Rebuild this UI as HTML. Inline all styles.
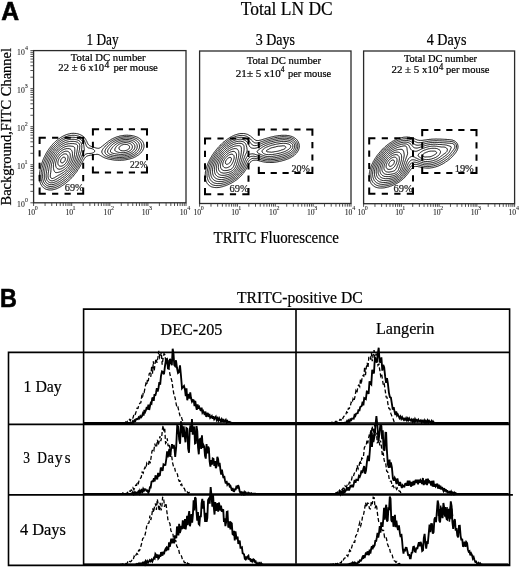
<!DOCTYPE html>
<html><head><meta charset="utf-8"><style>
html,body{margin:0;padding:0;background:#fff;}
svg{display:block;}

</style></head><body>
<svg width="520" height="568" viewBox="0 0 520 568">
<rect width="520" height="568" fill="#fff"/>
<g style="will-change:transform">
<text transform="translate(1.21,20.10) scale(0.9662,1)" font-family="Liberation Sans" font-size="25.57" font-weight="bold" fill="#000" stroke="#000" stroke-width="0.6" xml:space="preserve">A</text>
<text transform="translate(0.10,307.40) scale(0.9328,1)" font-family="Liberation Sans" font-size="25.07" font-weight="bold" fill="#000" stroke="#000" stroke-width="0.6" xml:space="preserve">B</text>
<text transform="translate(240.73,14.50) scale(0.8877,1)" font-family="Liberation Serif" font-size="19.69" fill="#000" stroke="#000" stroke-width="0.22" xml:space="preserve">Total LN DC</text>
<text transform="translate(86.43,45.40) scale(0.8114,1)" font-family="Liberation Serif" font-size="16.46" fill="#000" stroke="#000" stroke-width="0.22" xml:space="preserve">1 Day</text>
<text transform="translate(255.64,45.40) scale(0.8504,1)" font-family="Liberation Serif" font-size="16.46" fill="#000" stroke="#000" stroke-width="0.22" xml:space="preserve">3 Days</text>
<text transform="translate(426.76,45.40) scale(0.8587,1)" font-family="Liberation Serif" font-size="16.46" fill="#000" stroke="#000" stroke-width="0.22" xml:space="preserve">4 Days</text>
<text transform="translate(70.79,60.50) scale(0.9673,1)" font-family="Liberation Serif" font-size="11.08" fill="#000" stroke="#000" stroke-width="0.22" xml:space="preserve">Total DC number</text>
<text transform="translate(58.37,71.30) scale(0.9607,1)" font-family="Liberation Serif" font-size="11.08" fill="#000" stroke="#000" stroke-width="0.22" xml:space="preserve">22 ± 6 x10</text>
<text transform="translate(104.50,68.00) scale(0.9673,1)" font-family="Liberation Serif" font-size="9.90" fill="#000" stroke="#000" stroke-width="0.22" xml:space="preserve">4</text>
<text transform="translate(113.39,71.30) scale(0.9703,1)" font-family="Liberation Serif" font-size="11.08" fill="#000" stroke="#000" stroke-width="0.22" xml:space="preserve">per mouse</text>
<text transform="translate(246.69,64.40) scale(0.9609,1)" font-family="Liberation Serif" font-size="11.08" fill="#000" stroke="#000" stroke-width="0.22" xml:space="preserve">Total DC number</text>
<text transform="translate(235.81,76.60) scale(1.0017,1)" font-family="Liberation Serif" font-size="11.08" fill="#000" stroke="#000" stroke-width="0.22" xml:space="preserve">21± 5 x10</text>
<text transform="translate(280.73,72.30) scale(0.9609,1)" font-family="Liberation Serif" font-size="7.60" fill="#000" stroke="#000" stroke-width="0.22" xml:space="preserve">4</text>
<text transform="translate(288.00,76.60) scale(0.9416,1)" font-family="Liberation Serif" font-size="11.08" fill="#000" stroke="#000" stroke-width="0.22" xml:space="preserve">per mouse</text>
<text transform="translate(403.90,62.40) scale(0.9878,1)" font-family="Liberation Serif" font-size="10.62" fill="#000" stroke="#000" stroke-width="0.22" xml:space="preserve">Total DC number</text>
<text transform="translate(391.46,73.10) scale(1.0292,1)" font-family="Liberation Serif" font-size="10.62" fill="#000" stroke="#000" stroke-width="0.22" xml:space="preserve">22 ± 5 x10</text>
<text transform="translate(438.71,70.30) scale(0.9878,1)" font-family="Liberation Serif" font-size="9.30" fill="#000" stroke="#000" stroke-width="0.22" xml:space="preserve">4</text>
<text transform="translate(446.09,73.10) scale(0.9895,1)" font-family="Liberation Serif" font-size="10.62" fill="#000" stroke="#000" stroke-width="0.22" xml:space="preserve">per mouse</text>
<text transform="translate(213.55,243.20) scale(0.8646,1)" font-family="Liberation Serif" font-size="17.23" fill="#000" stroke="#000" stroke-width="0.22" xml:space="preserve">TRITC Fluorescence</text>
<g transform="translate(11.0,205.2) rotate(-90)"><text transform="translate(-0.29,0) scale(1.0575,1)" font-family="Liberation Serif" font-size="13.69" stroke="#000" stroke-width="0.22">Background,FITC Channel</text></g>
<rect x="33.6" y="50.6" width="152.40" height="152.20" fill="none" stroke="#2a2a2a" stroke-width="1.3"/>
<path d="M33.60,202.80v3.2 M45.07,202.80v3.2 M51.78,202.80v3.2 M56.54,202.80v3.2 M60.23,202.80v3.2 M63.25,202.80v3.2 M65.80,202.80v3.2 M68.01,202.80v3.2 M69.96,202.80v3.2 M71.70,202.80v3.2 M83.17,202.80v3.2 M89.88,202.80v3.2 M94.64,202.80v3.2 M98.33,202.80v3.2 M101.35,202.80v3.2 M103.90,202.80v3.2 M106.11,202.80v3.2 M108.06,202.80v3.2 M109.80,202.80v3.2 M121.27,202.80v3.2 M127.98,202.80v3.2 M132.74,202.80v3.2 M136.43,202.80v3.2 M139.45,202.80v3.2 M142.00,202.80v3.2 M144.21,202.80v3.2 M146.16,202.80v3.2 M147.90,202.80v3.2 M159.37,202.80v3.2 M166.08,202.80v3.2 M170.84,202.80v3.2 M174.53,202.80v3.2 M177.55,202.80v3.2 M180.10,202.80v3.2 M182.31,202.80v3.2 M184.26,202.80v3.2 M186.00,202.80v3.2 M33.60,202.80h-3.2 M33.60,191.35h-3.2 M33.60,184.65h-3.2 M33.60,179.89h-3.2 M33.60,176.20h-3.2 M33.60,173.19h-3.2 M33.60,170.64h-3.2 M33.60,168.44h-3.2 M33.60,166.49h-3.2 M33.60,164.75h-3.2 M33.60,153.30h-3.2 M33.60,146.60h-3.2 M33.60,141.84h-3.2 M33.60,138.15h-3.2 M33.60,135.14h-3.2 M33.60,132.59h-3.2 M33.60,130.39h-3.2 M33.60,128.44h-3.2 M33.60,126.70h-3.2 M33.60,115.25h-3.2 M33.60,108.55h-3.2 M33.60,103.79h-3.2 M33.60,100.10h-3.2 M33.60,97.09h-3.2 M33.60,94.54h-3.2 M33.60,92.34h-3.2 M33.60,90.39h-3.2 M33.60,88.65h-3.2 M33.60,77.20h-3.2 M33.60,70.50h-3.2 M33.60,65.74h-3.2 M33.60,62.05h-3.2 M33.60,59.04h-3.2 M33.60,56.49h-3.2 M33.60,54.29h-3.2 M33.60,52.34h-3.2 M33.60,50.60h-3.2" stroke="#333" stroke-width="0.85" fill="none"/>
<text transform="translate(27.39,215.00) scale(1.0500,1)" font-family="Liberation Serif" font-size="7.30" fill="#222" stroke="#222" stroke-width="0.08" xml:space="preserve">10</text>
<text transform="translate(34.82,209.70) scale(1.0000,1)" font-family="Liberation Serif" font-size="6.00" fill="#222" stroke="#222" stroke-width="0.08" xml:space="preserve">0</text>
<text transform="translate(65.49,215.00) scale(1.0500,1)" font-family="Liberation Serif" font-size="7.30" fill="#222" stroke="#222" stroke-width="0.08" xml:space="preserve">10</text>
<text transform="translate(72.62,209.70) scale(1.0000,1)" font-family="Liberation Serif" font-size="6.00" fill="#222" stroke="#222" stroke-width="0.08" xml:space="preserve">1</text>
<text transform="translate(103.59,215.00) scale(1.0500,1)" font-family="Liberation Serif" font-size="7.30" fill="#222" stroke="#222" stroke-width="0.08" xml:space="preserve">10</text>
<text transform="translate(110.96,209.70) scale(1.0000,1)" font-family="Liberation Serif" font-size="6.00" fill="#222" stroke="#222" stroke-width="0.08" xml:space="preserve">2</text>
<text transform="translate(141.69,215.00) scale(1.0500,1)" font-family="Liberation Serif" font-size="7.30" fill="#222" stroke="#222" stroke-width="0.08" xml:space="preserve">10</text>
<text transform="translate(149.06,209.70) scale(1.0000,1)" font-family="Liberation Serif" font-size="6.00" fill="#222" stroke="#222" stroke-width="0.08" xml:space="preserve">3</text>
<text transform="translate(179.79,215.00) scale(1.0500,1)" font-family="Liberation Serif" font-size="7.30" fill="#222" stroke="#222" stroke-width="0.08" xml:space="preserve">10</text>
<text transform="translate(187.34,209.70) scale(1.0000,1)" font-family="Liberation Serif" font-size="6.00" fill="#222" stroke="#222" stroke-width="0.08" xml:space="preserve">4</text>
<text transform="translate(17.09,206.90) scale(1.0500,1)" font-family="Liberation Serif" font-size="7.30" fill="#222" stroke="#222" stroke-width="0.08" xml:space="preserve">10</text>
<text transform="translate(24.92,202.00) scale(1.0000,1)" font-family="Liberation Serif" font-size="6.00" fill="#222" stroke="#222" stroke-width="0.08" xml:space="preserve">0</text>
<text transform="translate(17.09,168.85) scale(1.0500,1)" font-family="Liberation Serif" font-size="7.30" fill="#222" stroke="#222" stroke-width="0.08" xml:space="preserve">10</text>
<text transform="translate(24.62,163.95) scale(1.0000,1)" font-family="Liberation Serif" font-size="6.00" fill="#222" stroke="#222" stroke-width="0.08" xml:space="preserve">1</text>
<text transform="translate(17.09,130.80) scale(1.0500,1)" font-family="Liberation Serif" font-size="7.30" fill="#222" stroke="#222" stroke-width="0.08" xml:space="preserve">10</text>
<text transform="translate(24.86,125.90) scale(1.0000,1)" font-family="Liberation Serif" font-size="6.00" fill="#222" stroke="#222" stroke-width="0.08" xml:space="preserve">2</text>
<text transform="translate(17.09,92.75) scale(1.0500,1)" font-family="Liberation Serif" font-size="7.30" fill="#222" stroke="#222" stroke-width="0.08" xml:space="preserve">10</text>
<text transform="translate(24.86,87.85) scale(1.0000,1)" font-family="Liberation Serif" font-size="6.00" fill="#222" stroke="#222" stroke-width="0.08" xml:space="preserve">3</text>
<text transform="translate(17.09,54.70) scale(1.0500,1)" font-family="Liberation Serif" font-size="7.30" fill="#222" stroke="#222" stroke-width="0.08" xml:space="preserve">10</text>
<text transform="translate(25.04,49.80) scale(1.0000,1)" font-family="Liberation Serif" font-size="6.00" fill="#222" stroke="#222" stroke-width="0.08" xml:space="preserve">4</text>
<rect x="199.6" y="51.0" width="151.40" height="152.50" fill="none" stroke="#2a2a2a" stroke-width="1.3"/>
<path d="M199.60,203.50v3.2 M210.99,203.50v3.2 M217.66,203.50v3.2 M222.39,203.50v3.2 M226.06,203.50v3.2 M229.05,203.50v3.2 M231.59,203.50v3.2 M233.78,203.50v3.2 M235.72,203.50v3.2 M237.45,203.50v3.2 M248.84,203.50v3.2 M255.51,203.50v3.2 M260.24,203.50v3.2 M263.91,203.50v3.2 M266.90,203.50v3.2 M269.44,203.50v3.2 M271.63,203.50v3.2 M273.57,203.50v3.2 M275.30,203.50v3.2 M286.69,203.50v3.2 M293.36,203.50v3.2 M298.09,203.50v3.2 M301.76,203.50v3.2 M304.75,203.50v3.2 M307.29,203.50v3.2 M309.48,203.50v3.2 M311.42,203.50v3.2 M313.15,203.50v3.2 M324.54,203.50v3.2 M331.21,203.50v3.2 M335.94,203.50v3.2 M339.61,203.50v3.2 M342.60,203.50v3.2 M345.14,203.50v3.2 M347.33,203.50v3.2 M349.27,203.50v3.2 M351.00,203.50v3.2" stroke="#333" stroke-width="0.85" fill="none"/>
<text transform="translate(193.39,215.00) scale(1.0500,1)" font-family="Liberation Serif" font-size="7.30" fill="#222" stroke="#222" stroke-width="0.08" xml:space="preserve">10</text>
<text transform="translate(200.82,209.70) scale(1.0000,1)" font-family="Liberation Serif" font-size="6.00" fill="#222" stroke="#222" stroke-width="0.08" xml:space="preserve">0</text>
<text transform="translate(231.24,215.00) scale(1.0500,1)" font-family="Liberation Serif" font-size="7.30" fill="#222" stroke="#222" stroke-width="0.08" xml:space="preserve">10</text>
<text transform="translate(238.37,209.70) scale(1.0000,1)" font-family="Liberation Serif" font-size="6.00" fill="#222" stroke="#222" stroke-width="0.08" xml:space="preserve">1</text>
<text transform="translate(269.09,215.00) scale(1.0500,1)" font-family="Liberation Serif" font-size="7.30" fill="#222" stroke="#222" stroke-width="0.08" xml:space="preserve">10</text>
<text transform="translate(276.46,209.70) scale(1.0000,1)" font-family="Liberation Serif" font-size="6.00" fill="#222" stroke="#222" stroke-width="0.08" xml:space="preserve">2</text>
<text transform="translate(306.94,215.00) scale(1.0500,1)" font-family="Liberation Serif" font-size="7.30" fill="#222" stroke="#222" stroke-width="0.08" xml:space="preserve">10</text>
<text transform="translate(314.31,209.70) scale(1.0000,1)" font-family="Liberation Serif" font-size="6.00" fill="#222" stroke="#222" stroke-width="0.08" xml:space="preserve">3</text>
<text transform="translate(344.79,215.00) scale(1.0500,1)" font-family="Liberation Serif" font-size="7.30" fill="#222" stroke="#222" stroke-width="0.08" xml:space="preserve">10</text>
<text transform="translate(352.34,209.70) scale(1.0000,1)" font-family="Liberation Serif" font-size="6.00" fill="#222" stroke="#222" stroke-width="0.08" xml:space="preserve">4</text>
<rect x="363.6" y="51.0" width="151.00" height="152.70" fill="none" stroke="#2a2a2a" stroke-width="1.3"/>
<path d="M363.60,203.70v3.2 M374.96,203.70v3.2 M381.61,203.70v3.2 M386.33,203.70v3.2 M389.99,203.70v3.2 M392.98,203.70v3.2 M395.50,203.70v3.2 M397.69,203.70v3.2 M399.62,203.70v3.2 M401.35,203.70v3.2 M412.71,203.70v3.2 M419.36,203.70v3.2 M424.08,203.70v3.2 M427.74,203.70v3.2 M430.73,203.70v3.2 M433.25,203.70v3.2 M435.44,203.70v3.2 M437.37,203.70v3.2 M439.10,203.70v3.2 M450.46,203.70v3.2 M457.11,203.70v3.2 M461.83,203.70v3.2 M465.49,203.70v3.2 M468.48,203.70v3.2 M471.00,203.70v3.2 M473.19,203.70v3.2 M475.12,203.70v3.2 M476.85,203.70v3.2 M488.21,203.70v3.2 M494.86,203.70v3.2 M499.58,203.70v3.2 M503.24,203.70v3.2 M506.23,203.70v3.2 M508.75,203.70v3.2 M510.94,203.70v3.2 M512.87,203.70v3.2 M514.60,203.70v3.2" stroke="#333" stroke-width="0.85" fill="none"/>
<text transform="translate(357.39,215.00) scale(1.0500,1)" font-family="Liberation Serif" font-size="7.30" fill="#222" stroke="#222" stroke-width="0.08" xml:space="preserve">10</text>
<text transform="translate(364.82,209.70) scale(1.0000,1)" font-family="Liberation Serif" font-size="6.00" fill="#222" stroke="#222" stroke-width="0.08" xml:space="preserve">0</text>
<text transform="translate(395.14,215.00) scale(1.0500,1)" font-family="Liberation Serif" font-size="7.30" fill="#222" stroke="#222" stroke-width="0.08" xml:space="preserve">10</text>
<text transform="translate(402.27,209.70) scale(1.0000,1)" font-family="Liberation Serif" font-size="6.00" fill="#222" stroke="#222" stroke-width="0.08" xml:space="preserve">1</text>
<text transform="translate(432.89,215.00) scale(1.0500,1)" font-family="Liberation Serif" font-size="7.30" fill="#222" stroke="#222" stroke-width="0.08" xml:space="preserve">10</text>
<text transform="translate(440.26,209.70) scale(1.0000,1)" font-family="Liberation Serif" font-size="6.00" fill="#222" stroke="#222" stroke-width="0.08" xml:space="preserve">2</text>
<text transform="translate(470.64,215.00) scale(1.0500,1)" font-family="Liberation Serif" font-size="7.30" fill="#222" stroke="#222" stroke-width="0.08" xml:space="preserve">10</text>
<text transform="translate(478.01,209.70) scale(1.0000,1)" font-family="Liberation Serif" font-size="6.00" fill="#222" stroke="#222" stroke-width="0.08" xml:space="preserve">3</text>
<text transform="translate(508.39,215.00) scale(1.0500,1)" font-family="Liberation Serif" font-size="7.30" fill="#222" stroke="#222" stroke-width="0.08" xml:space="preserve">10</text>
<text transform="translate(515.94,209.70) scale(1.0000,1)" font-family="Liberation Serif" font-size="6.00" fill="#222" stroke="#222" stroke-width="0.08" xml:space="preserve">4</text>
<path d="M38.60,137.70L45.80,137.70M52.07,137.70L58.27,137.70M64.53,137.70L70.73,137.70M77.00,137.70L84.20,137.70M83.20,136.70L83.20,143.90M83.20,150.17L83.20,156.38M83.20,162.65L83.20,168.85M83.20,175.12L83.20,181.32M83.20,187.60L83.20,194.80M84.20,193.80L77.00,193.80M70.73,193.80L64.53,193.80M58.27,193.80L52.07,193.80M45.80,193.80L38.60,193.80M39.60,194.80L39.60,187.60M39.60,181.33L39.60,175.12M39.60,168.85L39.60,162.65M39.60,156.38L39.60,150.18M39.60,143.90L39.60,136.70" stroke="#000" stroke-width="2" fill="none" stroke-linecap="butt"/>
<path d="M91.90,129.30L99.10,129.30M104.88,129.30L111.08,129.30M116.85,129.30L123.05,129.30M128.82,129.30L135.03,129.30M140.80,129.30L148.00,129.30M147.00,128.30L147.00,135.50M147.00,141.67L147.00,147.87M147.00,154.03L147.00,160.23M147.00,166.40L147.00,173.60M148.00,172.60L140.80,172.60M135.03,172.60L128.82,172.60M123.05,172.60L116.85,172.60M111.08,172.60L104.88,172.60M99.10,172.60L91.90,172.60M92.90,173.60L92.90,166.40M92.90,160.23L92.90,154.03M92.90,147.87L92.90,141.67M92.90,135.50L92.90,128.30" stroke="#000" stroke-width="2" fill="none" stroke-linecap="butt"/>
<path d="M204.00,138.40L211.20,138.40M217.43,138.40L223.63,138.40M229.87,138.40L236.07,138.40M242.30,138.40L249.50,138.40M248.50,137.40L248.50,144.60M248.50,150.80L248.50,157.00M248.50,163.20L248.50,169.40M248.50,175.60L248.50,181.80M248.50,188.00L248.50,195.20M249.50,194.20L242.30,194.20M236.07,194.20L229.87,194.20M223.63,194.20L217.43,194.20M211.20,194.20L204.00,194.20M205.00,195.20L205.00,188.00M205.00,181.80L205.00,175.60M205.00,169.40L205.00,163.20M205.00,157.00L205.00,150.80M205.00,144.60L205.00,137.40" stroke="#000" stroke-width="2" fill="none" stroke-linecap="butt"/>
<path d="M257.80,129.60L265.00,129.60M270.65,129.60L276.85,129.60M282.50,129.60L288.70,129.60M294.35,129.60L300.55,129.60M306.20,129.60L313.40,129.60M312.40,128.60L312.40,135.80M312.40,142.00L312.40,148.20M312.40,154.40L312.40,160.60M312.40,166.80L312.40,174.00M313.40,173.00L306.20,173.00M300.55,173.00L294.35,173.00M288.70,173.00L282.50,173.00M276.85,173.00L270.65,173.00M265.00,173.00L257.80,173.00M258.80,174.00L258.80,166.80M258.80,160.60L258.80,154.40M258.80,148.20L258.80,142.00M258.80,135.80L258.80,128.60" stroke="#000" stroke-width="2" fill="none" stroke-linecap="butt"/>
<path d="M368.20,138.20L375.40,138.20M381.73,138.20L387.93,138.20M394.27,138.20L400.47,138.20M406.80,138.20L414.00,138.20M413.00,137.20L413.00,144.40M413.00,150.55L413.00,156.75M413.00,162.90L413.00,169.10M413.00,175.25L413.00,181.45M413.00,187.60L413.00,194.80M414.00,193.80L406.80,193.80M400.47,193.80L394.27,193.80M387.93,193.80L381.73,193.80M375.40,193.80L368.20,193.80M369.20,194.80L369.20,187.60M369.20,181.45L369.20,175.25M369.20,169.10L369.20,162.90M369.20,156.75L369.20,150.55M369.20,144.40L369.20,137.20" stroke="#000" stroke-width="2" fill="none" stroke-linecap="butt"/>
<path d="M421.20,130.00L428.40,130.00M434.22,130.00L440.43,130.00M446.25,130.00L452.45,130.00M458.27,130.00L464.48,130.00M470.30,130.00L477.50,130.00M476.50,129.00L476.50,136.20M476.50,142.27L476.50,148.47M476.50,154.53L476.50,160.73M476.50,166.80L476.50,174.00M477.50,173.00L470.30,173.00M464.48,173.00L458.27,173.00M452.45,173.00L446.25,173.00M440.43,173.00L434.23,173.00M428.40,173.00L421.20,173.00M422.20,174.00L422.20,166.80M422.20,160.73L422.20,154.53M422.20,148.47L422.20,142.27M422.20,136.20L422.20,129.00" stroke="#000" stroke-width="2" fill="none" stroke-linecap="butt"/>
<path d="M52.8,189.8 L52.0,189.9 L51.2,190.0 L50.5,190.0 L49.8,190.0 L49.0,189.9 L48.2,189.8 L47.8,189.7 L47.0,189.5 L46.5,189.4 L46.0,189.2 L45.5,189.0 L45.0,188.7 L44.5,188.4 L44.0,188.1 L43.6,187.8 L43.2,187.4 L42.8,187.0 L42.5,186.7 L42.1,186.2 L41.8,185.8 L41.5,185.4 L41.2,185.0 L41.0,184.5 L40.7,184.0 L40.5,183.4 L40.2,182.8 L40.1,182.2 L39.9,181.8 L39.8,181.0 L39.7,180.5 L39.5,179.8 L39.5,179.2 L39.4,178.5 L39.4,177.8 L39.3,177.0 L39.3,176.2 L39.4,175.5 L39.4,174.8 L39.5,174.0 L39.5,173.5 L39.6,172.8 L39.7,172.0 L39.8,171.5 L39.9,170.8 L40.0,170.2 L40.2,169.5 L40.3,169.0 L40.4,168.2 L40.6,167.8 L40.8,167.0 L40.9,166.5 L41.0,166.0 L41.2,165.2 L41.4,164.8 L41.5,164.2 L41.8,163.5 L41.9,163.0 L42.1,162.5 L42.3,162.0 L42.5,161.4 L42.7,160.8 L42.9,160.2 L43.1,159.8 L43.3,159.2 L43.5,158.8 L43.8,158.2 L44.0,157.7 L44.2,157.1 L44.5,156.6 L44.8,156.1 L45.0,155.6 L45.2,155.1 L45.5,154.6 L45.8,154.1 L46.0,153.7 L46.2,153.2 L46.5,152.8 L46.8,152.2 L47.1,151.8 L47.4,151.2 L47.8,150.8 L48.0,150.4 L48.2,150.0 L48.6,149.5 L48.9,149.0 L49.2,148.6 L49.5,148.2 L49.8,147.8 L50.2,147.2 L50.5,146.9 L50.8,146.5 L51.2,146.0 L51.5,145.7 L51.9,145.2 L52.2,144.8 L52.5,144.5 L53.0,144.0 L53.2,143.7 L53.7,143.2 L54.0,142.9 L54.4,142.5 L54.8,142.2 L55.2,141.8 L55.5,141.5 L56.0,141.0 L56.3,140.8 L56.8,140.4 L57.2,140.0 L57.5,139.8 L58.0,139.4 L58.5,139.0 L58.9,138.8 L59.2,138.5 L59.8,138.1 L60.2,137.8 L60.7,137.5 L61.1,137.2 L61.5,137.0 L62.0,136.7 L62.5,136.4 L63.0,136.2 L63.5,135.9 L64.0,135.7 L64.5,135.4 L65.0,135.2 L65.5,135.0 L66.1,134.8 L66.8,134.5 L67.2,134.4 L67.8,134.2 L68.5,134.0 L69.0,133.9 L69.6,133.8 L70.2,133.6 L71.0,133.5 L71.5,133.4 L72.2,133.4 L73.0,133.3 L73.8,133.3 L74.5,133.4 L75.2,133.4 L76.0,133.5 L76.5,133.6 L77.2,133.7 L77.8,133.8 L78.4,134.0 L79.0,134.2 L79.5,134.4 L80.0,134.6 L80.5,134.8 L81.0,135.0 L81.5,135.3 L82.0,135.6 L82.5,135.9 L82.9,136.2 L83.3,136.5 L83.8,136.9 L84.1,137.2 L84.5,137.7 L84.8,138.0 L85.1,138.5 L85.5,139.0 L85.8,139.5 L86.0,139.9 L86.2,140.4 L86.5,140.9 L86.8,141.4 L87.0,142.0 L87.2,142.5 L87.5,143.0 L87.7,143.5 L88.0,144.0 L88.2,144.3 L88.6,144.8 L89.0,145.2 L89.4,145.5 L89.8,145.8 L90.2,146.0 L90.8,146.2 L91.5,146.5 L92.0,146.7 L92.5,146.8 L93.0,147.0 L93.8,147.2 L94.2,147.4 L94.8,147.5 L95.4,147.8 L96.0,147.9 L96.5,148.1 L97.2,148.2 L97.8,148.3 L98.5,148.3 L99.0,148.2 L99.6,148.0 L100.1,147.8 L100.5,147.5 L101.0,147.2 L101.5,146.8 L101.9,146.5 L102.2,146.2 L102.8,145.8 L103.1,145.5 L103.5,145.2 L104.0,144.8 L104.3,144.5 L104.8,144.1 L105.2,143.8 L105.5,143.5 L106.0,143.1 L106.4,142.8 L106.8,142.5 L107.2,142.1 L107.7,141.8 L108.0,141.5 L108.5,141.2 L109.0,140.8 L109.5,140.5 L109.9,140.2 L110.3,140.0 L110.8,139.7 L111.2,139.4 L111.8,139.1 L112.2,138.9 L112.8,138.6 L113.2,138.4 L113.8,138.1 L114.2,137.9 L114.8,137.7 L115.3,137.5 L115.9,137.2 L116.5,137.0 L117.0,136.9 L117.5,136.7 L118.2,136.5 L118.8,136.4 L119.2,136.2 L120.0,136.0 L120.5,135.9 L121.2,135.8 L121.8,135.7 L122.5,135.6 L123.0,135.5 L123.8,135.4 L124.5,135.3 L125.2,135.3 L126.0,135.2 L126.5,135.2 L127.2,135.2 L128.0,135.2 L128.5,135.3 L129.2,135.3 L130.0,135.4 L130.8,135.4 L131.2,135.5 L132.0,135.6 L132.7,135.8 L133.2,135.9 L133.8,136.0 L134.5,136.2 L135.0,136.3 L135.5,136.5 L136.2,136.8 L136.8,137.0 L137.2,137.2 L137.8,137.4 L138.2,137.7 L138.8,138.0 L139.2,138.2 L139.6,138.5 L140.0,138.8 L140.5,139.2 L140.9,139.5 L141.2,139.8 L141.7,140.2 L142.0,140.6 L142.3,141.0 L142.7,141.5 L143.0,142.0 L143.2,142.5 L143.5,143.0 L143.6,143.5 L143.8,144.0 L143.9,144.8 L144.0,145.3 L144.0,146.0 L144.0,146.5 L143.9,147.2 L143.8,147.9 L143.6,148.5 L143.4,149.0 L143.2,149.5 L142.9,150.0 L142.7,150.5 L142.3,151.0 L142.0,151.5 L141.8,151.8 L141.4,152.2 L141.0,152.7 L140.7,153.0 L140.2,153.4 L139.9,153.8 L139.5,154.1 L139.0,154.5 L138.7,154.8 L138.2,155.1 L137.8,155.4 L137.2,155.7 L136.8,156.0 L136.4,156.2 L135.9,156.5 L135.5,156.8 L135.0,157.0 L134.5,157.2 L133.9,157.5 L133.3,157.8 L132.8,158.0 L132.2,158.2 L131.8,158.3 L131.2,158.5 L130.5,158.7 L130.0,158.9 L129.5,159.0 L128.8,159.2 L128.2,159.3 L127.5,159.5 L127.0,159.6 L126.2,159.7 L125.8,159.8 L125.0,159.9 L124.4,160.0 L123.8,160.1 L123.0,160.1 L122.2,160.2 L121.5,160.2 L121.0,160.3 L120.2,160.3 L119.5,160.3 L118.8,160.3 L118.0,160.3 L117.3,160.2 L116.8,160.2 L116.0,160.2 L115.2,160.1 L114.5,160.1 L114.0,160.0 L113.2,159.9 L112.5,159.8 L112.0,159.7 L111.2,159.6 L110.6,159.5 L110.0,159.4 L109.3,159.2 L108.8,159.1 L108.2,159.0 L107.5,158.8 L107.0,158.6 L106.5,158.5 L105.8,158.2 L105.2,158.1 L104.8,157.9 L104.2,157.6 L103.8,157.4 L103.2,157.2 L102.8,156.9 L102.2,156.6 L101.8,156.3 L101.2,156.0 L100.8,155.8 L100.4,155.5 L99.9,155.2 L99.5,155.0 L99.0,154.8 L98.3,154.5 L97.8,154.4 L97.0,154.3 L96.2,154.4 L95.5,154.5 L95.0,154.5 L94.2,154.7 L93.8,154.8 L93.0,154.9 L92.3,155.0 L91.8,155.1 L91.0,155.2 L90.4,155.2 L89.8,155.3 L89.0,155.5 L88.5,155.6 L87.9,155.8 L87.3,156.0 L86.8,156.2 L86.4,156.5 L86.0,156.8 L85.5,157.2 L85.2,157.5 L84.8,158.0 L84.5,158.4 L84.2,158.8 L84.0,159.2 L83.6,159.8 L83.4,160.2 L83.1,160.8 L82.8,161.2 L82.5,161.8 L82.3,162.2 L82.0,162.7 L81.8,163.2 L81.5,163.7 L81.2,164.2 L81.0,164.6 L80.8,165.1 L80.5,165.5 L80.2,166.0 L80.0,166.5 L79.7,167.0 L79.4,167.5 L79.1,168.0 L78.8,168.5 L78.5,168.9 L78.2,169.3 L78.0,169.8 L77.6,170.2 L77.3,170.8 L77.0,171.2 L76.8,171.6 L76.4,172.0 L76.1,172.5 L75.8,172.9 L75.5,173.2 L75.1,173.8 L74.8,174.2 L74.5,174.5 L74.1,175.0 L73.8,175.4 L73.5,175.8 L73.0,176.2 L72.8,176.6 L72.4,177.0 L72.0,177.4 L71.7,177.8 L71.2,178.2 L70.9,178.5 L70.5,178.9 L70.2,179.2 L69.8,179.7 L69.4,180.0 L69.0,180.4 L68.6,180.8 L68.2,181.0 L67.8,181.5 L67.4,181.8 L67.0,182.1 L66.5,182.5 L66.2,182.8 L65.8,183.1 L65.3,183.5 L64.9,183.8 L64.5,184.1 L64.0,184.5 L63.6,184.8 L63.2,185.0 L62.8,185.3 L62.2,185.7 L61.8,186.0 L61.3,186.2 L60.9,186.5 L60.5,186.8 L60.0,187.0 L59.5,187.3 L59.0,187.6 L58.5,187.8 L58.0,188.1 L57.5,188.3 L57.0,188.5 L56.4,188.8 L55.8,189.0 L55.2,189.2 L54.8,189.3 L54.1,189.5 L53.5,189.6 L52.9,189.8ZM51.0,188.3 L50.2,188.3 L49.8,188.2 L49.0,188.1 L48.3,188.0 L47.8,187.9 L47.2,187.7 L46.7,187.5 L46.2,187.2 L45.8,187.0 L45.2,186.7 L44.8,186.3 L44.4,186.0 L44.0,185.6 L43.7,185.2 L43.3,184.8 L43.0,184.4 L42.8,184.0 L42.5,183.5 L42.2,183.0 L42.0,182.5 L41.8,181.8 L41.6,181.2 L41.4,180.8 L41.3,180.0 L41.2,179.5 L41.1,178.8 L41.0,178.0 L41.0,177.5 L41.0,176.8 L41.0,176.0 L41.0,175.2 L41.0,174.8 L41.1,174.0 L41.2,173.2 L41.2,172.5 L41.3,172.0 L41.4,171.2 L41.5,170.8 L41.7,170.0 L41.8,169.5 L41.9,168.8 L42.0,168.2 L42.2,167.5 L42.3,167.0 L42.5,166.3 L42.7,165.8 L42.8,165.2 L43.0,164.5 L43.2,164.0 L43.3,163.5 L43.5,162.9 L43.7,162.2 L43.9,161.8 L44.1,161.2 L44.3,160.8 L44.5,160.2 L44.8,159.6 L45.0,159.0 L45.2,158.5 L45.4,158.0 L45.6,157.5 L45.9,157.0 L46.1,156.5 L46.4,156.0 L46.6,155.5 L46.9,155.0 L47.1,154.5 L47.4,154.0 L47.7,153.5 L48.0,153.0 L48.2,152.6 L48.5,152.2 L48.8,151.8 L49.1,151.2 L49.4,150.8 L49.8,150.3 L50.0,149.9 L50.3,149.5 L50.6,149.0 L51.0,148.5 L51.2,148.2 L51.6,147.8 L52.0,147.3 L52.2,147.0 L52.6,146.5 L53.0,146.1 L53.3,145.8 L53.8,145.3 L54.0,145.0 L54.5,144.5 L54.8,144.2 L55.2,143.8 L55.5,143.5 L56.0,143.0 L56.3,142.8 L56.8,142.3 L57.1,142.0 L57.5,141.7 L58.0,141.3 L58.4,141.0 L58.8,140.7 L59.2,140.3 L59.7,140.0 L60.1,139.8 L60.5,139.5 L61.0,139.2 L61.5,138.8 L62.0,138.5 L62.5,138.3 L63.0,138.0 L63.5,137.8 L64.0,137.5 L64.5,137.3 L65.0,137.0 L65.5,136.8 L66.0,136.6 L66.5,136.5 L67.1,136.2 L67.8,136.1 L68.2,135.9 L69.0,135.8 L69.5,135.6 L70.2,135.5 L70.8,135.4 L71.5,135.4 L72.2,135.3 L73.0,135.3 L73.8,135.3 L74.5,135.3 L75.2,135.4 L75.9,135.5 L76.5,135.6 L77.2,135.8 L77.8,135.9 L78.2,136.0 L78.8,136.2 L79.5,136.5 L80.0,136.7 L80.5,137.0 L80.9,137.2 L81.3,137.5 L81.8,137.8 L82.2,138.2 L82.6,138.5 L83.0,138.9 L83.3,139.2 L83.7,139.8 L84.0,140.2 L84.2,140.7 L84.5,141.1 L84.8,141.7 L85.0,142.2 L85.2,142.8 L85.4,143.2 L85.5,143.8 L85.8,144.4 L86.0,145.0 L86.2,145.5 L86.4,146.0 L86.7,146.5 L87.0,146.9 L87.4,147.2 L87.8,147.5 L88.2,147.8 L88.9,148.0 L89.5,148.1 L90.0,148.2 L90.8,148.4 L91.2,148.5 L92.0,148.7 L92.5,148.9 L93.0,149.1 L93.5,149.4 L94.0,149.8 L94.2,150.0 L94.6,150.5 L94.7,151.2 L94.5,151.8 L94.0,152.2 L93.7,152.5 L93.2,152.8 L92.7,153.0 L92.0,153.2 L91.5,153.3 L90.8,153.4 L90.0,153.4 L89.2,153.5 L88.5,153.5 L87.9,153.5 L87.2,153.6 L86.6,153.8 L86.0,154.0 L85.6,154.2 L85.2,154.5 L84.8,154.9 L84.5,155.2 L84.1,155.8 L83.8,156.2 L83.5,156.6 L83.2,157.0 L82.9,157.5 L82.7,158.0 L82.4,158.5 L82.2,159.0 L81.9,159.5 L81.7,160.0 L81.4,160.5 L81.2,161.0 L80.9,161.5 L80.7,162.0 L80.5,162.5 L80.2,163.0 L79.9,163.5 L79.7,164.0 L79.4,164.5 L79.2,165.0 L78.9,165.5 L78.6,166.0 L78.3,166.5 L78.0,167.0 L77.8,167.5 L77.5,167.9 L77.2,168.3 L77.0,168.8 L76.6,169.2 L76.3,169.8 L76.0,170.2 L75.8,170.6 L75.4,171.0 L75.1,171.5 L74.8,171.9 L74.5,172.3 L74.1,172.8 L73.8,173.2 L73.5,173.5 L73.1,174.0 L72.8,174.4 L72.5,174.8 L72.0,175.2 L71.8,175.5 L71.3,176.0 L71.0,176.4 L70.6,176.8 L70.2,177.1 L69.9,177.5 L69.5,177.9 L69.1,178.2 L68.8,178.6 L68.3,179.0 L68.0,179.3 L67.5,179.7 L67.2,180.0 L66.8,180.4 L66.3,180.8 L66.0,181.0 L65.5,181.4 L65.0,181.8 L64.7,182.0 L64.2,182.4 L63.8,182.7 L63.4,183.0 L63.0,183.3 L62.5,183.6 L62.0,184.0 L61.6,184.2 L61.2,184.5 L60.8,184.8 L60.2,185.1 L59.8,185.4 L59.2,185.6 L58.8,185.9 L58.2,186.2 L57.8,186.4 L57.2,186.6 L56.8,186.9 L56.2,187.1 L55.8,187.3 L55.1,187.5 L54.5,187.7 L54.0,187.8 L53.2,188.0 L52.8,188.1 L52.0,188.2 L51.2,188.2ZM123.2,158.8 L122.5,158.8 L121.8,158.9 L121.0,158.9 L120.2,158.9 L119.5,158.9 L118.8,158.9 L118.0,158.9 L117.2,158.8 L116.5,158.8 L115.9,158.8 L115.2,158.7 L114.5,158.6 L113.8,158.5 L113.2,158.5 L112.5,158.3 L112.0,158.2 L111.2,158.1 L110.6,158.0 L110.0,157.9 L109.5,157.7 L108.8,157.5 L108.2,157.4 L107.8,157.2 L107.1,157.0 L106.5,156.8 L106.0,156.5 L105.5,156.3 L105.0,156.0 L104.6,155.8 L104.2,155.5 L103.8,155.1 L103.4,154.8 L103.0,154.4 L102.7,154.0 L102.4,153.5 L102.1,153.0 L101.9,152.5 L101.8,151.8 L101.9,151.0 L102.1,150.5 L102.3,150.0 L102.6,149.5 L102.9,149.0 L103.2,148.6 L103.5,148.2 L103.9,147.8 L104.2,147.4 L104.6,147.0 L105.0,146.5 L105.3,146.2 L105.8,145.8 L106.0,145.5 L106.5,145.0 L106.8,144.8 L107.2,144.3 L107.6,144.0 L108.0,143.7 L108.5,143.2 L108.8,143.0 L109.2,142.6 L109.8,142.3 L110.1,142.0 L110.5,141.7 L111.0,141.4 L111.5,141.1 L112.0,140.8 L112.4,140.5 L112.9,140.2 L113.3,140.0 L113.8,139.8 L114.3,139.5 L114.8,139.2 L115.4,139.0 L116.0,138.8 L116.5,138.5 L117.0,138.4 L117.5,138.2 L118.1,138.0 L118.8,137.8 L119.2,137.6 L119.8,137.5 L120.5,137.3 L121.0,137.2 L121.8,137.1 L122.2,137.0 L123.0,136.9 L123.8,136.8 L124.2,136.7 L125.0,136.7 L125.8,136.6 L126.5,136.6 L127.2,136.6 L128.0,136.6 L128.8,136.7 L129.5,136.7 L130.0,136.8 L130.8,136.9 L131.4,137.0 L132.0,137.1 L132.5,137.2 L133.2,137.4 L133.8,137.6 L134.3,137.8 L135.0,138.0 L135.5,138.2 L136.0,138.4 L136.5,138.7 L137.0,139.0 L137.5,139.2 L137.9,139.5 L138.2,139.8 L138.8,140.1 L139.2,140.5 L139.5,140.8 L139.9,141.2 L140.2,141.7 L140.5,142.0 L140.8,142.5 L141.1,143.0 L141.3,143.5 L141.5,144.0 L141.7,144.8 L141.8,145.2 L141.8,146.0 L141.8,146.8 L141.7,147.2 L141.6,148.0 L141.4,148.5 L141.2,149.0 L141.0,149.5 L140.7,150.0 L140.4,150.5 L140.1,151.0 L139.8,151.4 L139.5,151.8 L139.0,152.2 L138.8,152.5 L138.2,153.0 L138.0,153.2 L137.5,153.6 L137.0,154.0 L136.7,154.2 L136.2,154.5 L135.8,154.9 L135.2,155.2 L134.8,155.5 L134.2,155.7 L133.8,156.0 L133.2,156.2 L132.8,156.4 L132.2,156.6 L131.8,156.8 L131.2,157.0 L130.6,157.2 L130.0,157.5 L129.5,157.6 L129.0,157.8 L128.2,157.9 L127.8,158.1 L127.0,158.2 L126.5,158.3 L125.8,158.4 L125.2,158.5 L124.5,158.6 L123.8,158.7 L123.2,158.8ZM53.0,186.3 L52.2,186.4 L51.5,186.5 L50.8,186.5 L50.0,186.4 L49.2,186.3 L48.8,186.2 L48.0,186.0 L47.5,185.8 L47.0,185.5 L46.5,185.3 L46.1,185.0 L45.8,184.7 L45.3,184.2 L45.0,184.0 L44.6,183.5 L44.3,183.0 L44.0,182.5 L43.8,182.1 L43.5,181.5 L43.3,181.0 L43.2,180.5 L43.0,179.9 L42.9,179.2 L42.8,178.5 L42.7,178.0 L42.6,177.2 L42.6,176.5 L42.6,175.8 L42.6,175.0 L42.7,174.2 L42.8,173.7 L42.8,173.0 L42.9,172.2 L43.0,171.7 L43.1,171.0 L43.2,170.2 L43.3,169.8 L43.5,169.0 L43.6,168.5 L43.8,167.8 L43.9,167.2 L44.0,166.8 L44.2,166.0 L44.3,165.5 L44.5,164.9 L44.7,164.2 L44.8,163.8 L45.0,163.2 L45.2,162.5 L45.4,162.0 L45.6,161.5 L45.8,161.0 L46.0,160.4 L46.2,159.8 L46.5,159.2 L46.7,158.8 L46.9,158.2 L47.1,157.8 L47.3,157.2 L47.6,156.8 L47.8,156.2 L48.1,155.8 L48.3,155.2 L48.6,154.8 L48.9,154.2 L49.2,153.8 L49.5,153.2 L49.8,152.8 L50.0,152.4 L50.3,152.0 L50.6,151.5 L50.9,151.0 L51.2,150.6 L51.5,150.2 L51.8,149.8 L52.2,149.2 L52.5,148.9 L52.8,148.5 L53.2,148.0 L53.5,147.7 L53.9,147.2 L54.2,146.8 L54.6,146.5 L55.0,146.0 L55.3,145.8 L55.8,145.3 L56.0,145.0 L56.5,144.6 L56.8,144.2 L57.2,143.9 L57.7,143.5 L58.0,143.2 L58.5,142.8 L58.9,142.5 L59.3,142.2 L59.8,141.9 L60.2,141.5 L60.7,141.2 L61.0,141.0 L61.5,140.7 L62.0,140.4 L62.5,140.1 L63.0,139.9 L63.5,139.6 L64.0,139.4 L64.5,139.1 L65.0,138.9 L65.5,138.7 L66.0,138.5 L66.7,138.2 L67.2,138.1 L67.8,137.9 L68.5,137.8 L69.0,137.6 L69.8,137.5 L70.2,137.4 L71.0,137.3 L71.8,137.3 L72.5,137.3 L73.2,137.3 L74.0,137.3 L74.8,137.4 L75.5,137.5 L76.0,137.6 L76.8,137.7 L77.2,137.8 L77.8,138.0 L78.5,138.2 L79.0,138.5 L79.5,138.7 L80.0,139.0 L80.4,139.2 L80.8,139.5 L81.2,139.9 L81.6,140.2 L82.0,140.7 L82.2,141.1 L82.5,141.5 L82.8,142.0 L83.0,142.5 L83.2,143.1 L83.4,143.8 L83.6,144.2 L83.7,145.0 L83.8,145.5 L83.9,146.2 L84.0,146.8 L84.1,147.5 L84.2,148.2 L84.2,148.8 L84.3,149.5 L84.2,150.0 L84.1,150.8 L83.9,151.2 L83.7,151.8 L83.5,152.2 L83.2,152.8 L83.0,153.2 L82.7,153.8 L82.5,154.2 L82.2,154.8 L82.0,155.2 L81.8,155.8 L81.5,156.4 L81.2,156.9 L81.0,157.5 L80.8,158.0 L80.6,158.5 L80.4,159.0 L80.2,159.5 L79.9,160.0 L79.7,160.5 L79.5,161.0 L79.2,161.5 L79.0,162.1 L78.8,162.6 L78.5,163.1 L78.2,163.6 L78.0,164.1 L77.8,164.6 L77.5,165.1 L77.2,165.5 L77.0,166.0 L76.7,166.5 L76.4,167.0 L76.1,167.5 L75.8,168.0 L75.5,168.4 L75.2,168.8 L74.9,169.2 L74.6,169.8 L74.2,170.2 L74.0,170.6 L73.7,171.0 L73.3,171.5 L73.0,171.9 L72.7,172.2 L72.3,172.8 L72.0,173.1 L71.6,173.5 L71.2,173.9 L71.0,174.2 L70.5,174.8 L70.2,175.0 L69.8,175.5 L69.5,175.8 L69.0,176.2 L68.8,176.5 L68.3,177.0 L68.0,177.2 L67.5,177.7 L67.2,178.0 L66.8,178.4 L66.3,178.8 L66.0,179.0 L65.5,179.4 L65.1,179.8 L64.7,180.0 L64.2,180.4 L63.8,180.8 L63.4,181.0 L63.0,181.3 L62.5,181.7 L62.0,182.0 L61.7,182.2 L61.2,182.5 L60.8,182.9 L60.2,183.2 L59.8,183.5 L59.3,183.8 L58.9,184.0 L58.4,184.2 L57.9,184.5 L57.4,184.8 L56.9,185.0 L56.3,185.2 L55.8,185.5 L55.2,185.7 L54.8,185.8 L54.2,186.0 L53.5,186.2 L53.0,186.3ZM124.0,157.3 L123.2,157.4 L122.5,157.4 L121.8,157.4 L121.0,157.5 L120.2,157.5 L119.5,157.5 L118.8,157.5 L118.0,157.4 L117.2,157.4 L116.5,157.3 L115.8,157.2 L115.2,157.2 L114.5,157.1 L113.8,157.0 L113.2,156.9 L112.5,156.8 L112.0,156.7 L111.2,156.5 L110.8,156.4 L110.1,156.2 L109.5,156.1 L109.0,155.9 L108.5,155.7 L108.0,155.5 L107.5,155.2 L107.0,154.9 L106.5,154.6 L106.1,154.2 L105.8,153.9 L105.5,153.5 L105.2,153.0 L105.0,152.4 L104.9,151.8 L105.0,151.0 L105.1,150.5 L105.3,150.0 L105.5,149.5 L105.8,149.0 L106.1,148.5 L106.5,148.0 L106.8,147.6 L107.1,147.2 L107.5,146.8 L107.8,146.5 L108.2,146.0 L108.5,145.7 L108.9,145.2 L109.2,144.9 L109.7,144.5 L110.0,144.2 L110.5,143.8 L110.9,143.5 L111.2,143.2 L111.8,142.9 L112.2,142.5 L112.6,142.2 L113.0,142.0 L113.5,141.7 L114.0,141.4 L114.5,141.1 L115.0,140.8 L115.5,140.6 L116.0,140.3 L116.5,140.1 L117.0,139.9 L117.5,139.7 L118.1,139.5 L118.8,139.3 L119.2,139.1 L119.8,139.0 L120.5,138.8 L121.0,138.7 L121.7,138.5 L122.2,138.4 L123.0,138.3 L123.5,138.2 L124.2,138.1 L125.0,138.1 L125.8,138.0 L126.5,138.0 L127.2,138.0 L128.0,138.1 L128.8,138.1 L129.5,138.2 L130.0,138.3 L130.8,138.4 L131.2,138.5 L132.0,138.7 L132.5,138.8 L133.0,139.0 L133.7,139.2 L134.2,139.5 L134.8,139.7 L135.2,140.0 L135.7,140.2 L136.1,140.5 L136.5,140.8 L137.0,141.2 L137.4,141.5 L137.8,141.9 L138.1,142.2 L138.5,142.8 L138.8,143.2 L139.0,143.6 L139.2,144.2 L139.4,144.8 L139.5,145.2 L139.6,146.0 L139.6,146.8 L139.5,147.4 L139.4,148.0 L139.2,148.5 L139.0,149.0 L138.7,149.5 L138.4,150.0 L138.1,150.5 L137.8,151.0 L137.5,151.3 L137.1,151.8 L136.8,152.0 L136.3,152.5 L136.0,152.8 L135.5,153.1 L135.0,153.5 L134.6,153.8 L134.2,154.0 L133.8,154.3 L133.2,154.5 L132.8,154.8 L132.2,155.0 L131.8,155.3 L131.2,155.5 L130.6,155.8 L130.0,156.0 L129.5,156.1 L129.0,156.3 L128.2,156.5 L127.8,156.6 L127.2,156.8 L126.5,156.9 L125.9,157.0 L125.2,157.1 L124.5,157.2 L124.0,157.3ZM53.0,184.5 L52.2,184.6 L51.5,184.7 L50.8,184.7 L50.0,184.6 L49.5,184.5 L48.8,184.3 L48.2,184.0 L47.8,183.8 L47.3,183.5 L47.0,183.2 L46.5,182.8 L46.2,182.5 L45.9,182.0 L45.5,181.5 L45.3,181.0 L45.1,180.5 L44.9,180.0 L44.7,179.5 L44.6,178.8 L44.5,178.2 L44.4,177.5 L44.3,176.8 L44.3,176.0 L44.3,175.2 L44.4,174.5 L44.4,173.8 L44.5,173.2 L44.6,172.5 L44.7,171.8 L44.8,171.2 L44.9,170.5 L45.0,169.9 L45.1,169.2 L45.2,168.7 L45.4,168.0 L45.5,167.5 L45.7,166.8 L45.8,166.2 L46.0,165.5 L46.1,165.0 L46.2,164.5 L46.5,163.8 L46.6,163.2 L46.8,162.8 L47.0,162.1 L47.2,161.5 L47.4,161.0 L47.6,160.5 L47.8,160.0 L48.0,159.4 L48.2,158.8 L48.5,158.2 L48.7,157.8 L49.0,157.2 L49.2,156.8 L49.5,156.2 L49.7,155.8 L50.0,155.2 L50.2,154.8 L50.5,154.3 L50.8,153.9 L51.0,153.5 L51.3,153.0 L51.7,152.5 L52.0,152.0 L52.2,151.6 L52.5,151.2 L52.9,150.8 L53.2,150.3 L53.5,150.0 L53.9,149.5 L54.2,149.0 L54.5,148.7 L54.9,148.2 L55.2,147.9 L55.6,147.5 L56.0,147.1 L56.4,146.8 L56.8,146.4 L57.1,146.0 L57.5,145.7 L58.0,145.2 L58.3,145.0 L58.8,144.6 L59.2,144.2 L59.5,144.0 L60.0,143.6 L60.5,143.3 L60.9,143.0 L61.3,142.8 L61.8,142.5 L62.2,142.2 L62.8,141.9 L63.2,141.6 L63.8,141.4 L64.2,141.1 L64.8,140.9 L65.2,140.7 L65.8,140.5 L66.5,140.2 L67.0,140.1 L67.5,139.9 L68.2,139.8 L68.8,139.6 L69.5,139.5 L70.0,139.4 L70.8,139.3 L71.5,139.3 L72.2,139.3 L73.0,139.3 L73.8,139.3 L74.5,139.4 L75.2,139.5 L75.8,139.6 L76.5,139.7 L77.0,139.9 L77.5,140.0 L78.1,140.2 L78.6,140.5 L79.0,140.8 L79.5,141.1 L80.0,141.5 L80.3,141.8 L80.7,142.2 L81.0,142.8 L81.2,143.2 L81.4,143.8 L81.5,144.2 L81.7,145.0 L81.8,145.5 L81.8,146.2 L81.8,147.0 L81.8,147.8 L81.7,148.2 L81.7,149.0 L81.6,149.8 L81.5,150.2 L81.3,151.0 L81.2,151.5 L81.0,152.1 L80.8,152.8 L80.7,153.2 L80.5,153.8 L80.2,154.5 L80.1,155.0 L79.9,155.5 L79.7,156.0 L79.5,156.7 L79.3,157.2 L79.1,157.8 L78.9,158.2 L78.7,158.8 L78.5,159.4 L78.2,160.0 L78.0,160.5 L77.8,161.0 L77.6,161.5 L77.4,162.0 L77.2,162.5 L76.9,163.0 L76.7,163.5 L76.4,164.0 L76.1,164.5 L75.9,165.0 L75.6,165.5 L75.3,166.0 L75.0,166.5 L74.8,166.9 L74.5,167.3 L74.2,167.8 L73.9,168.2 L73.5,168.8 L73.2,169.1 L73.0,169.5 L72.6,170.0 L72.2,170.5 L72.0,170.8 L71.6,171.2 L71.2,171.7 L71.0,172.0 L70.6,172.5 L70.2,172.8 L69.9,173.2 L69.5,173.7 L69.2,174.0 L68.8,174.4 L68.4,174.8 L68.0,175.1 L67.6,175.5 L67.2,175.8 L66.8,176.2 L66.5,176.5 L66.0,176.9 L65.6,177.2 L65.2,177.6 L64.8,178.0 L64.4,178.2 L64.0,178.5 L63.5,178.9 L63.1,179.2 L62.7,179.5 L62.2,179.8 L61.8,180.2 L61.3,180.5 L60.9,180.8 L60.5,181.0 L60.0,181.4 L59.5,181.7 L59.0,182.0 L58.5,182.2 L58.1,182.5 L57.6,182.8 L57.2,183.0 L56.7,183.2 L56.1,183.5 L55.5,183.8 L55.0,184.0 L54.5,184.1 L54.0,184.3 L53.2,184.5ZM124.5,155.8 L123.8,155.8 L123.0,155.9 L122.2,156.0 L121.5,156.0 L120.8,156.0 L120.0,156.0 L119.2,156.0 L118.5,155.9 L117.8,155.9 L117.0,155.8 L116.5,155.7 L115.8,155.7 L115.0,155.6 L114.5,155.5 L113.8,155.4 L113.2,155.2 L112.5,155.1 L112.0,155.0 L111.2,154.8 L110.8,154.6 L110.2,154.5 L109.7,154.2 L109.2,154.0 L108.8,153.7 L108.3,153.2 L108.0,152.9 L107.8,152.5 L107.6,151.8 L107.6,151.0 L107.8,150.4 L108.0,149.8 L108.2,149.3 L108.5,148.9 L108.8,148.5 L109.1,148.0 L109.5,147.6 L109.8,147.2 L110.2,146.8 L110.5,146.4 L110.9,146.0 L111.2,145.6 L111.7,145.2 L112.0,144.9 L112.5,144.5 L112.8,144.2 L113.2,143.9 L113.8,143.5 L114.1,143.2 L114.5,143.0 L115.0,142.7 L115.5,142.4 L116.0,142.1 L116.5,141.8 L117.0,141.6 L117.5,141.3 L118.0,141.1 L118.5,140.9 L119.0,140.7 L119.7,140.5 L120.2,140.3 L120.8,140.2 L121.5,140.0 L122.0,139.9 L122.8,139.8 L123.2,139.7 L124.0,139.6 L124.8,139.5 L125.4,139.5 L126.0,139.5 L126.8,139.5 L127.2,139.5 L128.0,139.6 L128.8,139.6 L129.5,139.8 L130.0,139.9 L130.6,140.0 L131.2,140.2 L131.8,140.3 L132.2,140.5 L132.8,140.8 L133.3,141.0 L133.8,141.2 L134.2,141.5 L134.8,141.9 L135.2,142.2 L135.5,142.5 L136.0,143.0 L136.2,143.3 L136.5,143.8 L136.8,144.2 L137.0,144.8 L137.2,145.5 L137.3,146.0 L137.3,146.8 L137.2,147.3 L137.1,148.0 L136.9,148.5 L136.7,149.0 L136.4,149.5 L136.1,150.0 L135.8,150.4 L135.5,150.8 L135.0,151.2 L134.7,151.5 L134.2,151.9 L133.8,152.2 L133.5,152.5 L133.0,152.8 L132.5,153.2 L132.0,153.4 L131.5,153.7 L131.0,153.9 L130.5,154.2 L130.0,154.4 L129.5,154.6 L129.0,154.8 L128.2,155.0 L127.8,155.1 L127.2,155.2 L126.5,155.4 L126.0,155.5 L125.2,155.7 L124.6,155.8ZM124.2,154.3 L123.5,154.3 L122.8,154.4 L122.0,154.4 L121.2,154.4 L120.5,154.4 L119.8,154.4 L119.0,154.3 L118.5,154.2 L117.8,154.2 L117.0,154.1 L116.5,154.0 L115.8,153.9 L115.1,153.8 L114.5,153.6 L113.9,153.5 L113.2,153.4 L112.8,153.2 L112.1,153.0 L111.5,152.8 L111.1,152.5 L110.8,152.2 L110.5,151.8 L110.4,151.0 L110.5,150.5 L110.8,149.9 L111.0,149.5 L111.3,149.0 L111.7,148.5 L112.0,148.0 L112.2,147.7 L112.6,147.2 L113.0,146.8 L113.3,146.5 L113.8,146.0 L114.0,145.8 L114.5,145.3 L114.9,145.0 L115.2,144.7 L115.8,144.3 L116.2,144.0 L116.5,143.8 L117.0,143.5 L117.5,143.2 L118.0,142.9 L118.5,142.7 L119.0,142.4 L119.5,142.2 L120.1,142.0 L120.8,141.8 L121.2,141.6 L121.8,141.5 L122.5,141.3 L123.0,141.2 L123.8,141.1 L124.5,141.1 L125.2,141.0 L125.8,141.0 L126.4,141.0 L127.0,141.0 L127.8,141.1 L128.5,141.2 L129.0,141.3 L129.8,141.5 L130.2,141.6 L130.8,141.8 L131.2,142.0 L131.8,142.2 L132.2,142.5 L132.8,142.9 L133.2,143.2 L133.5,143.5 L134.0,144.0 L134.2,144.4 L134.5,144.8 L134.8,145.5 L134.9,146.0 L134.9,146.8 L134.9,147.5 L134.7,148.0 L134.5,148.6 L134.2,149.0 L134.0,149.5 L133.6,150.0 L133.2,150.4 L132.9,150.8 L132.5,151.1 L132.0,151.5 L131.6,151.8 L131.2,152.0 L130.8,152.3 L130.2,152.5 L129.8,152.8 L129.2,153.0 L128.6,153.2 L128.0,153.5 L127.5,153.6 L127.0,153.8 L126.2,153.9 L125.8,154.0 L125.0,154.2 L124.4,154.2ZM52.2,182.8 L51.5,182.8 L50.8,182.8 L50.2,182.7 L49.7,182.5 L49.1,182.2 L48.7,182.0 L48.2,181.7 L47.8,181.2 L47.5,180.9 L47.2,180.5 L46.9,180.0 L46.7,179.5 L46.5,179.0 L46.3,178.2 L46.2,177.8 L46.1,177.0 L46.1,176.2 L46.1,175.5 L46.1,174.8 L46.2,174.0 L46.3,173.5 L46.4,172.8 L46.5,172.0 L46.5,171.5 L46.7,170.8 L46.8,170.2 L46.9,169.5 L47.0,168.8 L47.1,168.2 L47.2,167.5 L47.4,167.0 L47.5,166.3 L47.6,165.8 L47.8,165.2 L47.9,164.5 L48.1,164.0 L48.2,163.4 L48.4,162.8 L48.6,162.2 L48.8,161.8 L49.0,161.0 L49.2,160.5 L49.4,160.0 L49.6,159.5 L49.8,159.0 L50.0,158.5 L50.2,158.0 L50.5,157.5 L50.8,157.0 L51.0,156.5 L51.2,156.0 L51.5,155.5 L51.8,155.0 L52.1,154.5 L52.4,154.0 L52.7,153.5 L53.0,153.1 L53.2,152.7 L53.6,152.2 L54.0,151.8 L54.2,151.4 L54.5,151.0 L54.9,150.5 L55.2,150.1 L55.6,149.8 L56.0,149.3 L56.3,149.0 L56.7,148.5 L57.0,148.2 L57.5,147.8 L57.8,147.5 L58.2,147.1 L58.6,146.8 L59.0,146.4 L59.5,146.0 L59.8,145.8 L60.2,145.4 L60.8,145.1 L61.2,144.8 L61.6,144.5 L62.0,144.2 L62.5,144.0 L63.0,143.7 L63.5,143.4 L64.0,143.2 L64.5,143.0 L65.0,142.7 L65.6,142.5 L66.2,142.3 L66.8,142.1 L67.2,142.0 L68.0,141.8 L68.5,141.7 L69.2,141.6 L69.8,141.5 L70.5,141.4 L71.2,141.4 L72.0,141.4 L72.8,141.4 L73.5,141.4 L74.2,141.5 L74.8,141.5 L75.5,141.6 L76.0,141.8 L76.8,142.0 L77.2,142.1 L77.8,142.4 L78.2,142.7 L78.6,143.0 L79.0,143.5 L79.2,143.8 L79.5,144.4 L79.7,145.0 L79.8,145.5 L79.8,146.2 L79.8,147.0 L79.7,147.5 L79.7,148.2 L79.5,149.0 L79.5,149.5 L79.3,150.2 L79.2,150.8 L79.1,151.5 L78.9,152.0 L78.8,152.8 L78.6,153.2 L78.5,153.8 L78.3,154.5 L78.2,155.0 L78.0,155.7 L77.8,156.2 L77.7,156.8 L77.5,157.4 L77.3,158.0 L77.1,158.5 L77.0,159.0 L76.8,159.5 L76.5,160.2 L76.3,160.8 L76.1,161.2 L75.8,161.8 L75.6,162.2 L75.4,162.8 L75.1,163.2 L74.9,163.8 L74.6,164.2 L74.3,164.8 L74.0,165.2 L73.8,165.7 L73.5,166.2 L73.2,166.5 L73.0,167.0 L72.6,167.5 L72.3,168.0 L72.0,168.4 L71.7,168.8 L71.3,169.2 L71.0,169.7 L70.7,170.0 L70.3,170.5 L70.0,170.9 L69.7,171.2 L69.2,171.7 L69.0,172.0 L68.5,172.5 L68.2,172.8 L67.8,173.2 L67.5,173.5 L67.0,173.9 L66.7,174.2 L66.2,174.6 L65.8,175.0 L65.5,175.2 L65.0,175.6 L64.6,176.0 L64.2,176.2 L63.8,176.6 L63.2,177.0 L62.9,177.2 L62.5,177.5 L62.0,177.9 L61.5,178.2 L61.1,178.5 L60.7,178.8 L60.2,179.1 L59.8,179.4 L59.2,179.7 L58.8,180.0 L58.4,180.2 L58.0,180.5 L57.5,180.8 L57.0,181.1 L56.5,181.3 L56.0,181.6 L55.5,181.8 L55.0,182.0 L54.5,182.2 L53.8,182.5 L53.2,182.6 L52.5,182.7ZM125.0,152.5 L124.2,152.6 L123.5,152.7 L122.8,152.7 L122.0,152.7 L121.2,152.7 L120.5,152.6 L119.8,152.5 L119.2,152.4 L118.5,152.3 L118.0,152.1 L117.5,152.0 L116.8,151.8 L116.2,151.5 L115.8,151.3 L115.3,151.0 L115.0,150.7 L114.8,150.1 L114.8,149.6 L114.9,149.0 L115.1,148.5 L115.4,148.0 L115.7,147.5 L116.0,147.0 L116.2,146.7 L116.6,146.2 L117.0,145.9 L117.4,145.5 L117.8,145.2 L118.2,144.9 L118.8,144.5 L119.2,144.2 L119.7,144.0 L120.2,143.8 L120.8,143.5 L121.2,143.3 L121.8,143.2 L122.4,143.0 L123.0,142.9 L123.6,142.8 L124.2,142.7 L125.0,142.6 L125.8,142.6 L126.5,142.6 L127.2,142.7 L127.8,142.8 L128.5,143.0 L129.0,143.1 L129.5,143.3 L130.0,143.5 L130.5,143.8 L131.0,144.2 L131.4,144.5 L131.8,144.9 L132.0,145.3 L132.2,145.9 L132.4,146.5 L132.4,147.2 L132.2,147.9 L132.0,148.5 L131.8,148.9 L131.5,149.3 L131.1,149.8 L130.8,150.1 L130.2,150.5 L129.9,150.8 L129.5,151.0 L129.0,151.3 L128.5,151.5 L127.9,151.8 L127.2,152.0 L126.8,152.2 L126.2,152.3 L125.5,152.5 L125.0,152.5ZM52.5,180.8 L51.8,180.8 L51.1,180.8 L50.5,180.6 L50.0,180.4 L49.5,180.0 L49.2,179.8 L48.8,179.2 L48.5,178.8 L48.3,178.2 L48.2,177.8 L48.1,177.0 L48.0,176.2 L48.0,175.5 L48.1,174.8 L48.2,174.0 L48.2,173.3 L48.3,172.8 L48.4,172.0 L48.5,171.5 L48.6,170.8 L48.7,170.0 L48.8,169.5 L48.9,168.8 L49.0,168.2 L49.1,167.5 L49.2,166.8 L49.3,166.2 L49.5,165.5 L49.6,165.0 L49.8,164.3 L49.9,163.8 L50.0,163.2 L50.2,162.5 L50.4,162.0 L50.5,161.5 L50.8,160.9 L51.0,160.2 L51.2,159.8 L51.4,159.2 L51.6,158.8 L51.8,158.2 L52.0,157.8 L52.3,157.2 L52.6,156.8 L52.8,156.2 L53.1,155.8 L53.4,155.2 L53.7,154.8 L54.0,154.3 L54.2,153.9 L54.5,153.5 L54.9,153.0 L55.2,152.5 L55.5,152.2 L55.9,151.8 L56.2,151.3 L56.5,151.0 L56.9,150.5 L57.2,150.2 L57.7,149.8 L58.0,149.4 L58.4,149.0 L58.8,148.7 L59.2,148.3 L59.6,148.0 L60.0,147.7 L60.5,147.3 L60.9,147.0 L61.2,146.7 L61.8,146.4 L62.2,146.1 L62.8,145.8 L63.2,145.5 L63.8,145.3 L64.2,145.1 L64.8,144.8 L65.2,144.6 L65.8,144.5 L66.4,144.2 L67.0,144.1 L67.5,144.0 L68.2,143.8 L68.8,143.7 L69.5,143.7 L70.2,143.6 L71.0,143.6 L71.8,143.6 L72.5,143.6 L73.2,143.6 L74.0,143.7 L74.5,143.8 L75.2,143.9 L75.8,144.0 L76.4,144.2 L76.8,144.5 L77.2,144.9 L77.5,145.4 L77.7,146.0 L77.7,146.8 L77.6,147.5 L77.5,148.2 L77.4,148.8 L77.3,149.5 L77.2,150.0 L77.1,150.8 L77.0,151.4 L76.9,152.0 L76.8,152.8 L76.7,153.2 L76.5,154.0 L76.5,154.5 L76.3,155.2 L76.2,155.8 L76.0,156.5 L75.9,157.0 L75.7,157.5 L75.5,158.2 L75.3,158.8 L75.2,159.2 L75.0,159.8 L74.8,160.3 L74.5,161.0 L74.3,161.5 L74.0,162.0 L73.8,162.5 L73.6,163.0 L73.3,163.5 L73.0,164.0 L72.8,164.5 L72.5,164.9 L72.2,165.3 L72.0,165.8 L71.7,166.2 L71.3,166.8 L71.0,167.2 L70.8,167.5 L70.4,168.0 L70.0,168.5 L69.8,168.8 L69.4,169.2 L69.0,169.7 L68.7,170.0 L68.3,170.5 L68.0,170.8 L67.5,171.2 L67.2,171.5 L66.8,172.0 L66.5,172.2 L66.0,172.7 L65.6,173.0 L65.2,173.3 L64.8,173.7 L64.3,174.0 L64.0,174.3 L63.5,174.6 L63.0,175.0 L62.6,175.2 L62.2,175.5 L61.8,175.8 L61.2,176.2 L60.8,176.5 L60.3,176.8 L59.9,177.0 L59.5,177.3 L59.0,177.6 L58.5,177.9 L58.0,178.2 L57.6,178.5 L57.2,178.8 L56.8,179.0 L56.2,179.3 L55.8,179.6 L55.2,179.8 L54.8,180.1 L54.2,180.3 L53.7,180.5 L53.0,180.7 L52.5,180.8ZM124.8,150.8 L124.0,150.8 L123.2,150.9 L122.5,150.8 L122.0,150.7 L121.2,150.6 L120.8,150.4 L120.2,150.2 L119.8,149.8 L119.4,149.5 L119.1,149.0 L119.0,148.5 L119.0,147.9 L119.2,147.3 L119.5,146.9 L119.8,146.5 L120.2,146.1 L120.7,145.8 L121.0,145.5 L121.5,145.2 L122.0,145.0 L122.7,144.8 L123.2,144.6 L123.8,144.5 L124.5,144.4 L125.2,144.4 L126.0,144.4 L126.7,144.5 L127.2,144.6 L127.8,144.8 L128.2,145.1 L128.8,145.4 L129.1,145.8 L129.5,146.2 L129.6,146.8 L129.6,147.5 L129.5,148.0 L129.2,148.5 L128.8,149.0 L128.5,149.2 L128.0,149.6 L127.5,149.9 L127.0,150.1 L126.5,150.3 L126.0,150.5 L125.2,150.7 L124.8,150.8ZM53.2,178.3 L52.5,178.5 L51.8,178.4 L51.2,178.2 L50.8,177.8 L50.5,177.3 L50.3,176.8 L50.3,176.0 L50.3,175.2 L50.4,174.5 L50.5,174.0 L50.6,173.2 L50.7,172.5 L50.8,172.0 L50.9,171.2 L50.9,170.5 L51.0,169.8 L51.0,169.2 L51.0,168.5 L51.1,167.8 L51.2,167.0 L51.2,166.3 L51.3,165.8 L51.4,165.0 L51.5,164.5 L51.7,163.8 L51.8,163.2 L52.0,162.5 L52.1,162.0 L52.3,161.5 L52.5,160.8 L52.7,160.2 L52.9,159.8 L53.1,159.2 L53.3,158.8 L53.5,158.2 L53.8,157.8 L54.0,157.2 L54.3,156.8 L54.6,156.2 L54.9,155.8 L55.2,155.2 L55.5,154.8 L55.8,154.4 L56.1,154.0 L56.4,153.5 L56.8,153.1 L57.0,152.8 L57.5,152.2 L57.8,151.9 L58.2,151.5 L58.5,151.1 L58.9,150.8 L59.2,150.4 L59.7,150.0 L60.0,149.8 L60.5,149.4 L61.0,149.0 L61.4,148.8 L61.8,148.5 L62.2,148.2 L62.8,147.9 L63.2,147.6 L63.8,147.3 L64.2,147.1 L64.8,146.9 L65.2,146.7 L66.0,146.5 L66.5,146.4 L67.0,146.2 L67.8,146.1 L68.5,146.0 L69.2,146.0 L70.0,146.0 L70.8,146.1 L71.5,146.2 L72.1,146.2 L72.8,146.4 L73.2,146.5 L73.8,146.8 L74.2,147.0 L74.6,147.5 L74.7,148.2 L74.8,148.8 L74.8,149.5 L74.8,150.2 L74.8,151.0 L74.8,151.7 L74.7,152.2 L74.7,153.0 L74.6,153.8 L74.5,154.5 L74.4,155.0 L74.3,155.8 L74.2,156.2 L74.1,157.0 L73.9,157.5 L73.8,158.2 L73.6,158.8 L73.4,159.2 L73.2,159.8 L73.0,160.4 L72.8,161.0 L72.5,161.5 L72.3,162.0 L72.1,162.5 L71.8,163.0 L71.5,163.5 L71.3,164.0 L71.0,164.4 L70.8,164.8 L70.5,165.2 L70.1,165.8 L69.8,166.2 L69.5,166.6 L69.2,167.0 L68.8,167.5 L68.5,167.9 L68.2,168.2 L67.8,168.7 L67.5,169.0 L67.0,169.5 L66.7,169.8 L66.2,170.2 L65.9,170.5 L65.5,170.9 L65.0,171.2 L64.7,171.5 L64.2,171.8 L63.8,172.2 L63.3,172.5 L63.0,172.8 L62.5,173.0 L62.0,173.4 L61.5,173.6 L61.0,173.9 L60.5,174.2 L60.0,174.5 L59.5,174.8 L59.0,175.0 L58.6,175.2 L58.1,175.5 L57.7,175.8 L57.2,176.0 L56.8,176.3 L56.2,176.6 L55.8,176.9 L55.2,177.2 L54.8,177.5 L54.4,177.8 L53.9,178.0 L53.4,178.2ZM57.2,172.5 L56.5,172.6 L55.9,172.5 L55.2,172.3 L54.9,172.0 L54.5,171.5 L54.2,171.1 L54.0,170.5 L53.8,170.0 L53.7,169.5 L53.6,168.8 L53.5,168.2 L53.4,167.5 L53.4,166.8 L53.4,166.0 L53.4,165.2 L53.5,164.5 L53.5,164.0 L53.7,163.2 L53.8,162.8 L53.9,162.0 L54.1,161.5 L54.2,160.9 L54.5,160.2 L54.7,159.8 L54.9,159.2 L55.1,158.8 L55.3,158.2 L55.6,157.8 L55.8,157.2 L56.1,156.8 L56.4,156.2 L56.8,155.8 L57.0,155.4 L57.3,155.0 L57.7,154.5 L58.0,154.1 L58.3,153.8 L58.7,153.2 L59.0,153.0 L59.5,152.5 L59.8,152.2 L60.2,151.8 L60.6,151.5 L61.0,151.2 L61.5,150.8 L61.9,150.5 L62.3,150.2 L62.8,150.0 L63.2,149.7 L63.8,149.5 L64.3,149.2 L65.0,149.0 L65.5,148.9 L66.0,148.7 L66.8,148.6 L67.5,148.6 L68.2,148.6 L69.0,148.7 L69.5,148.8 L70.0,149.0 L70.5,149.2 L71.0,149.6 L71.4,150.0 L71.7,150.5 L71.9,151.0 L72.1,151.5 L72.2,152.0 L72.4,152.8 L72.4,153.5 L72.5,154.2 L72.4,155.0 L72.4,155.8 L72.3,156.5 L72.2,157.0 L72.1,157.8 L71.9,158.2 L71.8,158.9 L71.6,159.5 L71.4,160.0 L71.2,160.5 L71.0,161.0 L70.8,161.5 L70.5,162.1 L70.2,162.6 L70.0,163.0 L69.7,163.5 L69.4,164.0 L69.1,164.5 L68.8,165.0 L68.5,165.3 L68.2,165.8 L67.8,166.2 L67.5,166.6 L67.1,167.0 L66.8,167.4 L66.4,167.8 L66.0,168.1 L65.6,168.5 L65.2,168.8 L64.8,169.2 L64.4,169.5 L64.0,169.8 L63.5,170.1 L63.0,170.4 L62.5,170.7 L62.0,171.0 L61.5,171.2 L61.0,171.5 L60.5,171.7 L60.0,171.9 L59.5,172.0 L58.8,172.2 L58.2,172.4 L57.5,172.5ZM60.5,169.0 L59.8,169.2 L59.0,169.2 L58.2,169.0 L57.8,168.9 L57.2,168.6 L56.9,168.2 L56.5,167.8 L56.2,167.3 L56.0,166.8 L55.8,166.2 L55.7,165.8 L55.6,165.0 L55.6,164.2 L55.6,163.5 L55.7,162.8 L55.8,162.2 L56.0,161.5 L56.1,161.0 L56.3,160.5 L56.5,159.8 L56.7,159.2 L57.0,158.8 L57.2,158.2 L57.5,157.8 L57.8,157.3 L58.0,156.9 L58.3,156.5 L58.6,156.0 L59.0,155.5 L59.2,155.2 L59.7,154.8 L60.0,154.4 L60.4,154.0 L60.8,153.7 L61.2,153.3 L61.6,153.0 L62.0,152.7 L62.5,152.4 L63.0,152.1 L63.5,151.9 L64.0,151.6 L64.5,151.5 L65.2,151.3 L65.8,151.2 L66.5,151.2 L67.2,151.2 L67.8,151.4 L68.2,151.6 L68.8,151.9 L69.1,152.2 L69.5,152.8 L69.8,153.2 L70.0,153.8 L70.1,154.2 L70.2,155.0 L70.3,155.5 L70.3,156.2 L70.2,156.9 L70.2,157.5 L70.0,158.2 L69.9,158.8 L69.8,159.4 L69.5,160.0 L69.3,160.5 L69.1,161.0 L68.9,161.5 L68.7,162.0 L68.4,162.5 L68.1,163.0 L67.8,163.5 L67.5,163.9 L67.2,164.2 L66.8,164.8 L66.5,165.1 L66.2,165.5 L65.8,165.9 L65.4,166.2 L65.0,166.6 L64.5,167.0 L64.2,167.2 L63.8,167.6 L63.2,167.9 L62.8,168.2 L62.2,168.4 L61.8,168.7 L61.2,168.8 L60.7,169.0ZM62.0,166.0 L61.2,166.2 L60.5,166.2 L59.8,166.1 L59.2,165.8 L58.8,165.5 L58.5,165.1 L58.2,164.6 L58.0,164.0 L57.9,163.5 L57.9,162.8 L57.9,162.0 L58.0,161.5 L58.2,160.8 L58.3,160.2 L58.5,159.8 L58.8,159.2 L59.0,158.7 L59.3,158.2 L59.6,157.8 L59.9,157.2 L60.2,156.8 L60.5,156.5 L61.0,156.0 L61.3,155.8 L61.8,155.3 L62.2,155.0 L62.6,154.8 L63.0,154.5 L63.6,154.2 L64.2,154.0 L64.8,153.9 L65.5,153.9 L66.0,154.0 L66.6,154.2 L67.0,154.5 L67.4,155.0 L67.7,155.5 L67.9,156.0 L68.0,156.6 L68.0,157.2 L68.0,158.0 L67.9,158.5 L67.8,159.2 L67.6,159.8 L67.5,160.2 L67.2,160.8 L67.0,161.3 L66.7,161.8 L66.4,162.2 L66.1,162.8 L65.8,163.2 L65.5,163.5 L65.0,164.0 L64.8,164.3 L64.2,164.7 L63.9,165.0 L63.5,165.3 L63.0,165.6 L62.5,165.8 L62.0,166.0ZM62.8,162.8 L62.0,162.9 L61.3,162.8 L61.0,162.5 L60.7,162.0 L60.6,161.2 L60.7,160.5 L60.8,160.0 L61.0,159.5 L61.3,159.0 L61.7,158.5 L62.0,158.2 L62.5,157.8 L62.8,157.5 L63.4,157.2 L64.0,157.1 L64.6,157.2 L65.0,157.6 L65.3,158.0 L65.4,158.8 L65.3,159.5 L65.2,160.0 L65.0,160.5 L64.7,161.0 L64.3,161.5 L64.0,161.9 L63.6,162.2 L63.2,162.5 L62.8,162.8Z" stroke="#000" stroke-width="0.95" fill="none"/>
<path d="M218.0,187.5 L217.2,187.6 L216.5,187.6 L215.8,187.6 L215.0,187.5 L214.5,187.5 L213.8,187.4 L213.1,187.2 L212.5,187.1 L212.0,186.9 L211.5,186.8 L210.9,186.5 L210.4,186.2 L210.0,186.0 L209.5,185.7 L209.0,185.3 L208.7,185.0 L208.2,184.6 L207.9,184.2 L207.5,183.8 L207.2,183.3 L207.0,182.9 L206.7,182.5 L206.5,182.0 L206.2,181.4 L206.0,180.8 L205.8,180.2 L205.7,179.8 L205.5,179.0 L205.4,178.5 L205.3,177.8 L205.3,177.0 L205.2,176.5 L205.2,175.8 L205.2,175.0 L205.2,174.2 L205.3,173.8 L205.3,173.0 L205.4,172.2 L205.5,171.8 L205.6,171.0 L205.8,170.5 L205.9,169.8 L206.0,169.2 L206.2,168.5 L206.3,168.0 L206.5,167.5 L206.7,166.8 L206.9,166.2 L207.1,165.8 L207.2,165.2 L207.5,164.5 L207.7,164.0 L207.9,163.5 L208.1,163.0 L208.3,162.5 L208.6,162.0 L208.8,161.5 L209.0,161.0 L209.3,160.5 L209.5,160.0 L209.8,159.5 L210.0,159.0 L210.3,158.5 L210.6,158.0 L210.9,157.5 L211.2,157.0 L211.5,156.5 L211.8,156.0 L212.0,155.6 L212.3,155.2 L212.6,154.8 L212.9,154.2 L213.2,153.8 L213.5,153.4 L213.8,153.0 L214.1,152.5 L214.5,152.0 L214.8,151.6 L215.0,151.2 L215.4,150.8 L215.8,150.3 L216.0,150.0 L216.4,149.5 L216.8,149.1 L217.1,148.8 L217.5,148.2 L217.8,147.9 L218.1,147.5 L218.5,147.1 L218.8,146.8 L219.2,146.3 L219.5,146.0 L220.0,145.5 L220.2,145.2 L220.7,144.8 L221.0,144.5 L221.5,144.0 L221.8,143.8 L222.2,143.3 L222.6,143.0 L223.0,142.6 L223.5,142.2 L223.8,142.0 L224.2,141.6 L224.6,141.2 L225.0,141.0 L225.5,140.6 L225.9,140.2 L226.2,140.0 L226.8,139.6 L227.2,139.3 L227.6,139.0 L228.0,138.7 L228.5,138.4 L229.0,138.1 L229.5,137.8 L230.0,137.5 L230.4,137.2 L230.8,137.0 L231.3,136.8 L231.8,136.5 L232.2,136.2 L232.8,136.0 L233.3,135.8 L233.8,135.5 L234.4,135.2 L235.0,135.0 L235.5,134.8 L236.0,134.6 L236.5,134.5 L237.2,134.3 L237.8,134.1 L238.2,134.0 L239.0,133.8 L239.5,133.7 L240.2,133.6 L241.0,133.5 L241.8,133.5 L242.2,133.5 L243.0,133.5 L243.5,133.5 L244.2,133.6 L245.0,133.7 L245.5,133.8 L246.2,134.0 L246.8,134.2 L247.2,134.3 L247.8,134.5 L248.2,134.8 L248.8,135.0 L249.2,135.3 L249.8,135.6 L250.2,136.0 L250.6,136.2 L251.0,136.5 L251.5,136.9 L251.9,137.2 L252.2,137.6 L252.7,138.0 L253.0,138.3 L253.5,138.7 L253.8,139.0 L254.2,139.3 L254.8,139.7 L255.2,140.0 L255.8,140.2 L256.2,140.4 L257.0,140.5 L257.5,140.5 L258.2,140.5 L258.8,140.5 L259.5,140.3 L260.0,140.2 L260.8,140.1 L261.2,139.9 L261.8,139.8 L262.5,139.5 L263.0,139.4 L263.5,139.2 L264.2,139.0 L264.8,138.8 L265.2,138.7 L265.8,138.5 L266.5,138.3 L267.0,138.2 L267.5,138.0 L268.2,137.8 L268.8,137.7 L269.3,137.5 L270.0,137.3 L270.5,137.2 L271.2,137.0 L271.8,136.9 L272.4,136.8 L273.0,136.6 L273.5,136.5 L274.2,136.3 L274.8,136.2 L275.5,136.1 L276.1,136.0 L276.8,135.9 L277.5,135.8 L278.0,135.7 L278.8,135.6 L279.5,135.5 L280.0,135.5 L280.8,135.4 L281.5,135.3 L282.2,135.3 L283.0,135.3 L283.8,135.3 L284.5,135.3 L285.2,135.3 L286.0,135.3 L286.8,135.4 L287.5,135.5 L288.0,135.5 L288.8,135.7 L289.2,135.8 L290.0,135.9 L290.5,136.1 L291.1,136.2 L291.8,136.5 L292.2,136.7 L292.8,136.9 L293.2,137.1 L293.8,137.4 L294.2,137.7 L294.8,138.0 L295.1,138.2 L295.5,138.5 L296.0,139.0 L296.3,139.2 L296.8,139.7 L297.0,140.0 L297.4,140.5 L297.8,141.0 L298.0,141.4 L298.2,141.9 L298.5,142.4 L298.7,143.0 L298.9,143.5 L299.0,144.0 L299.2,144.8 L299.2,145.3 L299.3,146.0 L299.3,146.8 L299.2,147.2 L299.1,148.0 L299.0,148.5 L298.8,149.2 L298.6,149.8 L298.4,150.2 L298.1,150.8 L297.8,151.2 L297.5,151.8 L297.2,152.2 L297.0,152.5 L296.6,153.0 L296.2,153.4 L296.0,153.8 L295.5,154.2 L295.2,154.5 L294.8,154.9 L294.3,155.2 L294.0,155.5 L293.5,155.9 L293.0,156.2 L292.6,156.5 L292.2,156.8 L291.8,157.0 L291.2,157.3 L290.8,157.6 L290.2,157.9 L289.8,158.1 L289.2,158.3 L288.8,158.6 L288.2,158.8 L287.7,159.0 L287.1,159.2 L286.5,159.5 L286.0,159.7 L285.5,159.8 L285.0,160.0 L284.2,160.2 L283.8,160.4 L283.2,160.5 L282.5,160.7 L282.0,160.9 L281.5,161.0 L280.8,161.2 L280.2,161.3 L279.5,161.4 L279.0,161.6 L278.2,161.7 L277.8,161.8 L277.0,161.9 L276.5,162.0 L275.8,162.1 L275.0,162.2 L274.5,162.3 L273.8,162.4 L273.0,162.4 L272.2,162.5 L271.8,162.5 L271.0,162.5 L270.2,162.5 L269.5,162.5 L268.8,162.5 L268.2,162.5 L267.5,162.5 L266.8,162.4 L266.0,162.3 L265.5,162.2 L264.8,162.1 L264.0,162.0 L263.5,161.9 L262.8,161.8 L262.2,161.6 L261.7,161.5 L261.0,161.3 L260.5,161.2 L259.8,161.0 L259.2,160.9 L258.8,160.7 L258.0,160.6 L257.5,160.5 L256.8,160.3 L256.2,160.2 L255.5,160.2 L254.8,160.2 L254.0,160.2 L253.5,160.3 L252.8,160.5 L252.2,160.7 L251.8,161.0 L251.4,161.2 L251.0,161.6 L250.5,162.0 L250.2,162.3 L249.9,162.8 L249.5,163.2 L249.2,163.6 L249.0,164.0 L248.7,164.5 L248.4,165.0 L248.1,165.5 L247.9,166.0 L247.6,166.5 L247.3,167.0 L247.0,167.5 L246.8,168.0 L246.5,168.5 L246.2,168.9 L246.0,169.3 L245.8,169.8 L245.5,170.2 L245.1,170.8 L244.8,171.2 L244.5,171.7 L244.2,172.1 L243.9,172.5 L243.6,173.0 L243.2,173.4 L243.0,173.8 L242.6,174.2 L242.2,174.6 L241.9,175.0 L241.5,175.5 L241.2,175.8 L240.8,176.2 L240.5,176.5 L240.0,177.0 L239.7,177.2 L239.2,177.7 L238.9,178.0 L238.5,178.3 L238.0,178.8 L237.7,179.0 L237.2,179.4 L236.8,179.7 L236.4,180.0 L236.0,180.3 L235.5,180.6 L235.0,181.0 L234.5,181.2 L234.2,181.5 L233.7,181.8 L233.2,182.0 L232.8,182.3 L232.2,182.6 L231.8,182.9 L231.2,183.2 L230.8,183.4 L230.2,183.7 L229.8,183.9 L229.2,184.1 L228.8,184.4 L228.2,184.6 L227.8,184.8 L227.2,185.0 L226.7,185.2 L226.0,185.5 L225.5,185.7 L225.0,185.9 L224.5,186.0 L223.9,186.2 L223.2,186.4 L222.8,186.6 L222.1,186.8 L221.5,186.9 L221.0,187.0 L220.2,187.2 L219.8,187.3 L219.0,187.4 L218.2,187.5ZM219.2,185.5 L218.5,185.6 L217.8,185.6 L217.0,185.6 L216.2,185.6 L215.5,185.5 L215.0,185.4 L214.2,185.3 L213.8,185.2 L213.2,185.0 L212.6,184.8 L212.1,184.5 L211.6,184.2 L211.2,184.0 L210.8,183.7 L210.3,183.2 L210.0,183.0 L209.5,182.5 L209.2,182.2 L208.9,181.8 L208.6,181.2 L208.3,180.8 L208.1,180.2 L207.9,179.8 L207.7,179.2 L207.5,178.6 L207.3,178.0 L207.2,177.5 L207.1,176.8 L207.0,176.0 L207.0,175.4 L207.0,174.8 L207.0,174.0 L207.0,173.5 L207.0,172.8 L207.1,172.0 L207.2,171.2 L207.3,170.8 L207.4,170.0 L207.5,169.5 L207.7,168.8 L207.8,168.2 L208.0,167.6 L208.2,167.0 L208.3,166.5 L208.5,165.9 L208.7,165.2 L208.9,164.8 L209.1,164.2 L209.3,163.8 L209.5,163.2 L209.8,162.7 L210.0,162.1 L210.2,161.5 L210.5,161.0 L210.8,160.5 L211.0,160.0 L211.2,159.5 L211.5,159.1 L211.8,158.6 L212.0,158.1 L212.2,157.7 L212.5,157.2 L212.8,156.8 L213.1,156.2 L213.4,155.8 L213.8,155.3 L214.0,154.9 L214.3,154.5 L214.6,154.0 L215.0,153.5 L215.2,153.1 L215.5,152.7 L215.9,152.2 L216.2,151.8 L216.5,151.4 L216.8,151.0 L217.2,150.5 L217.5,150.2 L217.9,149.8 L218.2,149.3 L218.5,149.0 L218.9,148.5 L219.2,148.2 L219.6,147.8 L220.0,147.3 L220.3,147.0 L220.8,146.6 L221.1,146.2 L221.5,145.8 L221.8,145.5 L222.2,145.1 L222.6,144.8 L223.0,144.4 L223.4,144.0 L223.8,143.7 L224.2,143.3 L224.6,143.0 L225.0,142.7 L225.5,142.3 L225.8,142.0 L226.2,141.7 L226.8,141.3 L227.2,141.0 L227.5,140.8 L228.0,140.4 L228.5,140.1 L229.0,139.8 L229.4,139.5 L229.8,139.2 L230.2,139.0 L230.8,138.7 L231.2,138.4 L231.8,138.2 L232.2,137.9 L232.8,137.7 L233.2,137.4 L233.8,137.2 L234.3,137.0 L234.9,136.8 L235.5,136.5 L236.0,136.4 L236.5,136.2 L237.2,136.0 L237.8,135.9 L238.3,135.8 L239.0,135.6 L239.8,135.5 L240.2,135.5 L241.0,135.4 L241.8,135.4 L242.5,135.4 L243.2,135.5 L243.8,135.6 L244.5,135.7 L245.0,135.8 L245.6,136.0 L246.2,136.2 L246.8,136.4 L247.2,136.7 L247.8,136.9 L248.2,137.2 L248.6,137.5 L249.0,137.8 L249.5,138.2 L249.9,138.5 L250.2,138.8 L250.7,139.2 L251.0,139.6 L251.4,140.0 L251.8,140.4 L252.0,140.8 L252.5,141.2 L252.8,141.5 L253.2,141.9 L253.7,142.2 L254.1,142.5 L254.7,142.8 L255.2,142.9 L255.8,143.0 L256.5,143.0 L257.0,143.0 L257.8,142.9 L258.3,142.8 L259.0,142.6 L259.5,142.4 L260.0,142.2 L260.7,142.0 L261.2,141.8 L261.8,141.6 L262.2,141.4 L262.8,141.2 L263.4,141.0 L264.0,140.8 L264.5,140.6 L265.0,140.4 L265.5,140.2 L266.2,140.0 L266.8,139.8 L267.2,139.7 L267.8,139.5 L268.5,139.3 L269.0,139.1 L269.5,139.0 L270.2,138.8 L270.8,138.7 L271.4,138.5 L272.0,138.3 L272.5,138.2 L273.2,138.1 L273.8,137.9 L274.5,137.8 L275.0,137.7 L275.8,137.5 L276.2,137.5 L277.0,137.3 L277.5,137.2 L278.2,137.1 L279.0,137.0 L279.5,137.0 L280.2,136.9 L281.0,136.8 L281.8,136.8 L282.2,136.7 L283.0,136.7 L283.8,136.7 L284.5,136.7 L285.2,136.7 L285.9,136.8 L286.5,136.8 L287.2,136.9 L288.0,137.0 L288.5,137.1 L289.2,137.2 L289.8,137.3 L290.3,137.5 L291.0,137.7 L291.5,137.9 L292.0,138.1 L292.5,138.4 L293.0,138.6 L293.5,138.9 L294.0,139.2 L294.4,139.5 L294.8,139.8 L295.2,140.2 L295.5,140.5 L295.9,141.0 L296.2,141.4 L296.5,141.8 L296.8,142.2 L297.0,142.8 L297.2,143.3 L297.5,144.0 L297.6,144.5 L297.7,145.2 L297.8,145.8 L297.8,146.5 L297.7,147.0 L297.6,147.8 L297.5,148.3 L297.3,149.0 L297.1,149.5 L296.9,150.0 L296.6,150.5 L296.3,151.0 L296.0,151.4 L295.8,151.8 L295.4,152.2 L295.0,152.7 L294.7,153.0 L294.2,153.4 L293.9,153.8 L293.5,154.1 L293.0,154.5 L292.6,154.8 L292.2,155.0 L291.8,155.4 L291.2,155.7 L290.8,156.0 L290.2,156.2 L289.8,156.5 L289.3,156.8 L288.8,157.0 L288.2,157.2 L287.8,157.4 L287.2,157.7 L286.8,157.9 L286.2,158.0 L285.7,158.2 L285.0,158.5 L284.5,158.7 L284.0,158.8 L283.4,159.0 L282.8,159.2 L282.2,159.3 L281.5,159.5 L281.0,159.6 L280.5,159.8 L279.8,159.9 L279.2,160.0 L278.5,160.2 L278.0,160.3 L277.2,160.4 L276.8,160.5 L276.0,160.6 L275.2,160.7 L274.8,160.8 L274.0,160.9 L273.2,161.0 L272.8,161.0 L272.0,161.1 L271.2,161.1 L270.5,161.1 L269.8,161.1 L269.0,161.1 L268.2,161.1 L267.5,161.1 L266.9,161.0 L266.2,160.9 L265.5,160.8 L265.0,160.7 L264.2,160.6 L263.8,160.5 L263.0,160.3 L262.5,160.2 L261.8,160.0 L261.2,159.9 L260.8,159.7 L260.0,159.5 L259.5,159.3 L259.0,159.2 L258.3,159.0 L257.8,158.8 L257.2,158.7 L256.5,158.6 L256.0,158.5 L255.2,158.3 L254.5,158.3 L253.8,158.3 L253.0,158.3 L252.2,158.5 L251.8,158.7 L251.2,158.9 L250.8,159.2 L250.3,159.5 L250.0,159.8 L249.5,160.2 L249.2,160.5 L248.9,161.0 L248.5,161.5 L248.2,162.0 L248.0,162.4 L247.8,162.9 L247.5,163.3 L247.2,163.8 L247.0,164.3 L246.8,164.8 L246.5,165.3 L246.2,165.9 L246.0,166.4 L245.8,166.9 L245.5,167.4 L245.2,167.8 L245.0,168.3 L244.8,168.8 L244.5,169.2 L244.2,169.8 L243.9,170.2 L243.5,170.8 L243.2,171.2 L243.0,171.6 L242.7,172.0 L242.3,172.5 L242.0,172.9 L241.7,173.2 L241.3,173.8 L241.0,174.1 L240.6,174.5 L240.2,174.9 L239.9,175.2 L239.5,175.7 L239.2,176.0 L238.8,176.4 L238.4,176.8 L238.0,177.1 L237.5,177.5 L237.2,177.8 L236.8,178.1 L236.2,178.5 L235.9,178.8 L235.5,179.0 L235.0,179.4 L234.5,179.7 L234.0,180.0 L233.6,180.2 L233.2,180.5 L232.8,180.8 L232.2,181.0 L231.8,181.3 L231.2,181.6 L230.8,181.8 L230.2,182.1 L229.8,182.3 L229.2,182.6 L228.8,182.8 L228.2,183.0 L227.6,183.2 L227.0,183.5 L226.5,183.7 L226.0,183.9 L225.5,184.1 L224.9,184.2 L224.2,184.5 L223.8,184.6 L223.2,184.8 L222.5,184.9 L222.0,185.1 L221.2,185.2 L220.8,185.3 L220.0,185.4 L219.4,185.5ZM220.5,183.5 L219.8,183.6 L219.0,183.6 L218.2,183.6 L217.5,183.6 L216.8,183.5 L216.2,183.5 L215.5,183.3 L215.0,183.2 L214.4,183.0 L213.8,182.8 L213.3,182.5 L212.9,182.2 L212.5,182.0 L212.0,181.6 L211.6,181.2 L211.2,180.9 L210.9,180.5 L210.6,180.0 L210.2,179.5 L210.0,179.1 L209.8,178.5 L209.5,178.0 L209.4,177.5 L209.2,177.0 L209.0,176.2 L209.0,175.8 L208.9,175.0 L208.8,174.2 L208.8,173.5 L208.8,172.8 L208.8,172.0 L208.9,171.2 L209.0,170.5 L209.1,170.0 L209.2,169.2 L209.3,168.8 L209.5,168.0 L209.6,167.5 L209.8,166.9 L209.9,166.2 L210.1,165.8 L210.3,165.2 L210.5,164.6 L210.7,164.0 L210.9,163.5 L211.1,163.0 L211.3,162.5 L211.5,162.0 L211.8,161.5 L212.0,161.0 L212.3,160.5 L212.5,160.0 L212.8,159.5 L213.0,159.0 L213.3,158.5 L213.6,158.0 L213.9,157.5 L214.2,157.0 L214.5,156.5 L214.8,156.1 L215.0,155.7 L215.3,155.2 L215.6,154.8 L216.0,154.2 L216.2,153.9 L216.5,153.5 L216.9,153.0 L217.2,152.5 L217.5,152.2 L217.9,151.8 L218.2,151.3 L218.5,151.0 L218.9,150.5 L219.2,150.1 L219.5,149.8 L220.0,149.2 L220.2,149.0 L220.7,148.5 L221.0,148.2 L221.4,147.8 L221.8,147.4 L222.1,147.0 L222.5,146.7 L222.9,146.2 L223.2,146.0 L223.8,145.5 L224.0,145.2 L224.5,144.8 L224.9,144.5 L225.2,144.2 L225.8,143.8 L226.1,143.5 L226.5,143.2 L227.0,142.8 L227.5,142.5 L227.8,142.2 L228.2,142.0 L228.8,141.6 L229.2,141.3 L229.7,141.0 L230.2,140.8 L230.6,140.5 L231.0,140.2 L231.5,140.0 L232.0,139.7 L232.5,139.5 L233.0,139.2 L233.6,139.0 L234.2,138.8 L234.8,138.5 L235.2,138.4 L235.8,138.2 L236.4,138.0 L237.0,137.8 L237.5,137.7 L238.2,137.6 L238.8,137.5 L239.5,137.4 L240.2,137.3 L241.0,137.3 L241.8,137.3 L242.5,137.4 L243.2,137.5 L243.8,137.6 L244.3,137.8 L245.0,138.0 L245.5,138.2 L246.0,138.4 L246.5,138.7 L247.0,139.0 L247.4,139.2 L247.8,139.6 L248.2,140.0 L248.5,140.2 L249.0,140.8 L249.2,141.1 L249.6,141.5 L249.9,142.0 L250.2,142.4 L250.5,142.8 L250.8,143.2 L251.2,143.8 L251.5,144.1 L251.9,144.5 L252.2,144.8 L252.8,145.1 L253.2,145.3 L253.9,145.5 L254.5,145.6 L255.2,145.6 L256.0,145.5 L256.5,145.5 L257.2,145.3 L257.8,145.1 L258.2,145.0 L258.8,144.8 L259.4,144.5 L260.0,144.3 L260.5,144.0 L261.0,143.8 L261.5,143.6 L262.0,143.4 L262.5,143.1 L263.0,142.9 L263.5,142.7 L264.0,142.5 L264.6,142.2 L265.2,142.0 L265.8,141.8 L266.2,141.6 L266.8,141.5 L267.4,141.2 L268.0,141.0 L268.5,140.9 L269.0,140.7 L269.8,140.5 L270.2,140.4 L270.8,140.2 L271.5,140.0 L272.0,139.9 L272.6,139.8 L273.2,139.6 L273.8,139.5 L274.5,139.3 L275.0,139.2 L275.8,139.1 L276.2,139.0 L277.0,138.8 L277.6,138.8 L278.2,138.6 L279.0,138.5 L279.5,138.5 L280.2,138.4 L281.0,138.3 L281.8,138.3 L282.2,138.2 L283.0,138.2 L283.8,138.2 L284.5,138.2 L285.2,138.2 L286.0,138.2 L286.5,138.3 L287.2,138.4 L288.0,138.5 L288.5,138.6 L289.2,138.7 L289.8,138.9 L290.2,139.0 L290.8,139.2 L291.4,139.5 L292.0,139.8 L292.4,140.0 L292.8,140.2 L293.2,140.5 L293.8,140.9 L294.1,141.2 L294.5,141.7 L294.8,142.0 L295.1,142.5 L295.4,143.0 L295.7,143.5 L295.9,144.0 L296.0,144.5 L296.2,145.2 L296.2,146.0 L296.2,146.4 L296.2,147.0 L296.1,147.8 L295.9,148.2 L295.8,148.8 L295.5,149.3 L295.2,149.8 L295.0,150.2 L294.7,150.8 L294.3,151.2 L294.0,151.6 L293.6,152.0 L293.2,152.3 L292.8,152.8 L292.5,153.0 L292.0,153.4 L291.5,153.7 L291.1,154.0 L290.7,154.2 L290.2,154.5 L289.8,154.8 L289.2,155.1 L288.8,155.4 L288.2,155.6 L287.8,155.8 L287.2,156.0 L286.8,156.3 L286.1,156.5 L285.5,156.7 L285.0,156.9 L284.5,157.1 L284.0,157.2 L283.2,157.5 L282.8,157.6 L282.2,157.8 L281.5,158.0 L281.0,158.1 L280.4,158.2 L279.8,158.4 L279.2,158.5 L278.5,158.7 L278.0,158.8 L277.2,158.9 L276.8,159.0 L276.0,159.1 L275.2,159.2 L274.8,159.3 L274.0,159.4 L273.2,159.5 L272.8,159.5 L272.0,159.6 L271.2,159.6 L270.5,159.7 L269.8,159.7 L269.0,159.7 L268.2,159.7 L267.5,159.6 L266.8,159.5 L266.2,159.5 L265.5,159.4 L264.9,159.2 L264.2,159.1 L263.8,159.0 L263.0,158.8 L262.5,158.7 L262.0,158.5 L261.2,158.3 L260.8,158.1 L260.2,157.9 L259.7,157.8 L259.0,157.5 L258.5,157.4 L258.0,157.2 L257.3,157.0 L256.8,156.8 L256.2,156.7 L255.5,156.5 L255.0,156.4 L254.2,156.3 L253.6,156.2 L253.0,156.2 L252.5,156.3 L251.8,156.3 L251.1,156.5 L250.5,156.7 L250.0,157.0 L249.6,157.2 L249.2,157.5 L248.8,158.0 L248.5,158.3 L248.1,158.8 L247.8,159.2 L247.5,159.7 L247.2,160.1 L247.0,160.5 L246.8,161.0 L246.5,161.6 L246.2,162.1 L246.0,162.7 L245.8,163.2 L245.5,163.8 L245.3,164.2 L245.1,164.8 L244.9,165.2 L244.7,165.8 L244.4,166.2 L244.2,166.8 L243.9,167.2 L243.7,167.8 L243.4,168.2 L243.2,168.8 L242.9,169.2 L242.6,169.8 L242.3,170.2 L242.0,170.6 L241.7,171.0 L241.4,171.5 L241.0,172.0 L240.8,172.3 L240.4,172.8 L240.0,173.2 L239.8,173.5 L239.3,174.0 L239.0,174.3 L238.6,174.8 L238.2,175.1 L237.8,175.5 L237.5,175.8 L237.0,176.2 L236.6,176.5 L236.2,176.8 L235.8,177.2 L235.3,177.5 L235.0,177.8 L234.5,178.1 L234.0,178.4 L233.5,178.7 L233.0,179.0 L232.6,179.2 L232.2,179.5 L231.7,179.8 L231.2,180.0 L230.7,180.2 L230.2,180.5 L229.7,180.8 L229.1,181.0 L228.5,181.2 L228.0,181.5 L227.5,181.7 L227.0,181.9 L226.5,182.0 L225.9,182.2 L225.2,182.5 L224.8,182.6 L224.2,182.8 L223.5,182.9 L223.0,183.1 L222.2,183.2 L221.8,183.3 L221.0,183.4 L220.5,183.5ZM221.5,181.5 L220.8,181.6 L220.0,181.6 L219.2,181.6 L218.5,181.6 L217.8,181.5 L217.2,181.4 L216.5,181.3 L216.0,181.1 L215.5,180.9 L215.0,180.7 L214.5,180.4 L214.0,180.1 L213.6,179.8 L213.2,179.5 L212.8,179.0 L212.5,178.7 L212.2,178.2 L211.9,177.8 L211.6,177.2 L211.4,176.8 L211.2,176.2 L211.0,175.5 L210.9,175.0 L210.8,174.3 L210.7,173.8 L210.6,173.0 L210.6,172.2 L210.6,171.5 L210.7,170.8 L210.7,170.0 L210.8,169.5 L210.9,168.8 L211.0,168.2 L211.2,167.5 L211.3,167.0 L211.5,166.3 L211.7,165.8 L211.8,165.2 L212.0,164.7 L212.2,164.0 L212.4,163.5 L212.6,163.0 L212.8,162.5 L213.1,162.0 L213.3,161.5 L213.5,161.0 L213.8,160.5 L214.0,160.0 L214.3,159.5 L214.6,159.0 L214.8,158.5 L215.1,158.0 L215.4,157.5 L215.7,157.0 L216.0,156.6 L216.2,156.2 L216.5,155.8 L216.9,155.2 L217.2,154.8 L217.5,154.4 L217.8,154.0 L218.1,153.5 L218.5,153.0 L218.8,152.7 L219.1,152.2 L219.5,151.8 L219.8,151.5 L220.2,151.0 L220.5,150.6 L220.8,150.2 L221.2,149.8 L221.5,149.5 L222.0,149.0 L222.3,148.8 L222.8,148.3 L223.0,148.0 L223.5,147.5 L223.8,147.2 L224.2,146.9 L224.7,146.5 L225.0,146.2 L225.5,145.8 L225.9,145.5 L226.2,145.2 L226.8,144.8 L227.1,144.5 L227.5,144.2 L228.0,143.9 L228.5,143.5 L228.9,143.2 L229.3,143.0 L229.8,142.7 L230.2,142.4 L230.8,142.1 L231.2,141.9 L231.8,141.6 L232.2,141.4 L232.8,141.1 L233.2,140.9 L233.8,140.7 L234.2,140.5 L234.9,140.2 L235.5,140.0 L236.0,139.9 L236.5,139.8 L237.2,139.6 L237.8,139.5 L238.5,139.4 L239.2,139.3 L239.8,139.2 L240.5,139.2 L241.0,139.3 L241.8,139.3 L242.5,139.4 L243.0,139.5 L243.7,139.8 L244.2,139.9 L244.8,140.2 L245.2,140.4 L245.7,140.8 L246.1,141.0 L246.5,141.4 L246.9,141.8 L247.2,142.2 L247.5,142.5 L247.8,143.0 L248.1,143.5 L248.4,144.0 L248.6,144.5 L248.8,145.0 L249.1,145.5 L249.3,146.0 L249.6,146.5 L250.0,147.0 L250.3,147.2 L250.8,147.6 L251.2,147.9 L251.8,148.0 L252.5,148.2 L253.0,148.2 L253.8,148.3 L254.5,148.3 L255.0,148.2 L255.8,148.1 L256.2,148.0 L257.0,147.8 L257.5,147.6 L258.0,147.4 L258.5,147.1 L259.0,146.9 L259.5,146.6 L260.0,146.4 L260.5,146.1 L261.0,145.8 L261.5,145.6 L262.0,145.3 L262.5,145.0 L263.0,144.8 L263.5,144.5 L264.0,144.3 L264.5,144.1 L265.0,143.9 L265.5,143.6 L266.0,143.4 L266.5,143.2 L267.2,143.0 L267.8,142.8 L268.2,142.6 L268.8,142.5 L269.5,142.2 L270.0,142.1 L270.5,141.9 L271.2,141.8 L271.8,141.6 L272.2,141.5 L273.0,141.3 L273.5,141.2 L274.2,141.0 L274.8,140.9 L275.4,140.8 L276.0,140.6 L276.7,140.5 L277.2,140.4 L278.0,140.3 L278.5,140.2 L279.2,140.1 L280.0,140.0 L280.5,139.9 L281.2,139.9 L282.0,139.8 L282.8,139.8 L283.2,139.7 L284.0,139.7 L284.8,139.7 L285.2,139.8 L286.0,139.8 L286.8,139.9 L287.5,140.0 L288.0,140.1 L288.8,140.2 L289.2,140.4 L289.8,140.5 L290.4,140.8 L290.9,141.0 L291.4,141.2 L291.9,141.5 L292.2,141.8 L292.8,142.2 L293.1,142.5 L293.5,143.0 L293.8,143.3 L294.0,143.8 L294.3,144.2 L294.5,145.0 L294.6,145.5 L294.6,146.2 L294.6,147.0 L294.5,147.5 L294.3,148.2 L294.0,148.8 L293.8,149.2 L293.5,149.7 L293.2,150.0 L292.9,150.5 L292.5,150.9 L292.1,151.2 L291.8,151.6 L291.2,152.0 L290.9,152.2 L290.5,152.5 L290.0,152.9 L289.5,153.2 L289.0,153.5 L288.5,153.7 L288.0,154.0 L287.5,154.2 L287.0,154.5 L286.5,154.7 L286.0,154.9 L285.5,155.1 L285.0,155.3 L284.3,155.5 L283.8,155.7 L283.2,155.8 L282.7,156.0 L282.0,156.2 L281.5,156.3 L280.9,156.5 L280.2,156.7 L279.8,156.8 L279.0,157.0 L278.5,157.1 L277.8,157.2 L277.2,157.3 L276.5,157.5 L276.0,157.5 L275.2,157.7 L274.7,157.8 L274.0,157.8 L273.2,157.9 L272.6,158.0 L272.0,158.1 L271.2,158.1 L270.5,158.1 L269.8,158.2 L269.0,158.2 L268.2,158.1 L267.5,158.1 L266.8,158.0 L266.2,157.9 L265.5,157.8 L265.0,157.7 L264.2,157.5 L263.8,157.4 L263.2,157.2 L262.5,157.0 L262.0,156.9 L261.5,156.7 L261.0,156.5 L260.4,156.2 L259.8,156.0 L259.2,155.8 L258.8,155.6 L258.2,155.4 L257.7,155.2 L257.0,155.0 L256.5,154.8 L256.0,154.6 L255.5,154.5 L254.8,154.2 L254.2,154.1 L253.8,154.0 L253.0,153.9 L252.2,153.8 L251.5,153.9 L250.8,154.0 L250.2,154.1 L249.7,154.2 L249.2,154.5 L248.8,154.8 L248.2,155.2 L247.9,155.5 L247.5,156.0 L247.2,156.3 L246.9,156.8 L246.6,157.2 L246.3,157.8 L246.1,158.2 L245.8,158.8 L245.6,159.2 L245.4,159.8 L245.2,160.2 L245.0,160.8 L244.8,161.3 L244.5,162.0 L244.3,162.5 L244.1,163.0 L243.9,163.5 L243.7,164.0 L243.5,164.6 L243.2,165.2 L243.0,165.8 L242.8,166.2 L242.6,166.8 L242.3,167.2 L242.1,167.8 L241.8,168.2 L241.5,168.8 L241.2,169.2 L241.0,169.6 L240.8,170.0 L240.4,170.5 L240.1,171.0 L239.8,171.4 L239.5,171.8 L239.1,172.2 L238.8,172.7 L238.4,173.0 L238.0,173.5 L237.7,173.8 L237.2,174.2 L236.9,174.5 L236.5,174.9 L236.0,175.2 L235.7,175.5 L235.2,175.9 L234.8,176.2 L234.4,176.5 L234.0,176.8 L233.5,177.1 L233.0,177.4 L232.5,177.7 L232.0,178.0 L231.5,178.2 L231.0,178.5 L230.5,178.7 L230.0,179.0 L229.5,179.2 L229.0,179.4 L228.5,179.6 L228.0,179.8 L227.5,180.0 L226.8,180.2 L226.2,180.4 L225.8,180.6 L225.2,180.8 L224.5,180.9 L224.0,181.1 L223.2,181.2 L222.8,181.3 L222.0,181.4 L221.5,181.5ZM222.2,179.5 L221.5,179.6 L220.8,179.6 L220.0,179.6 L219.2,179.5 L218.8,179.4 L218.0,179.3 L217.5,179.1 L217.0,179.0 L216.5,178.7 L216.0,178.5 L215.5,178.1 L215.0,177.8 L214.7,177.5 L214.3,177.0 L214.0,176.6 L213.7,176.2 L213.5,175.8 L213.2,175.2 L213.0,174.7 L212.8,174.0 L212.7,173.5 L212.6,172.8 L212.5,172.2 L212.5,171.5 L212.5,170.8 L212.5,170.0 L212.5,169.5 L212.6,168.8 L212.7,168.0 L212.8,167.5 L213.0,166.8 L213.1,166.2 L213.3,165.8 L213.5,165.0 L213.6,164.5 L213.8,164.0 L214.0,163.5 L214.2,162.9 L214.5,162.3 L214.7,161.8 L215.0,161.2 L215.2,160.8 L215.4,160.2 L215.7,159.8 L216.0,159.2 L216.2,158.8 L216.5,158.3 L216.8,157.9 L217.0,157.5 L217.3,157.0 L217.6,156.5 L218.0,156.0 L218.2,155.6 L218.5,155.2 L218.9,154.8 L219.2,154.2 L219.5,153.9 L219.8,153.5 L220.2,153.0 L220.5,152.7 L220.8,152.2 L221.2,151.8 L221.5,151.5 L222.0,151.0 L222.2,150.7 L222.7,150.2 L223.0,149.9 L223.4,149.5 L223.8,149.2 L224.2,148.8 L224.5,148.5 L225.0,148.0 L225.3,147.8 L225.8,147.4 L226.2,147.0 L226.6,146.8 L227.0,146.4 L227.5,146.0 L227.9,145.8 L228.2,145.5 L228.8,145.2 L229.2,144.8 L229.8,144.5 L230.2,144.2 L230.6,144.0 L231.1,143.8 L231.6,143.5 L232.0,143.2 L232.6,143.0 L233.1,142.8 L233.7,142.5 L234.2,142.3 L234.8,142.1 L235.2,142.0 L236.0,141.8 L236.5,141.6 L237.0,141.5 L237.8,141.4 L238.5,141.3 L239.0,141.2 L239.8,141.2 L240.5,141.2 L241.0,141.3 L241.8,141.4 L242.3,141.5 L243.0,141.7 L243.5,141.9 L244.0,142.2 L244.4,142.5 L244.8,142.8 L245.2,143.2 L245.5,143.6 L245.8,144.0 L246.0,144.5 L246.2,145.2 L246.4,145.8 L246.5,146.2 L246.7,147.0 L246.8,147.5 L246.9,148.2 L247.0,149.0 L247.1,149.5 L247.1,150.2 L247.0,151.0 L246.9,151.5 L246.7,152.0 L246.5,152.5 L246.2,153.0 L246.0,153.6 L245.8,154.1 L245.5,154.6 L245.2,155.2 L245.0,155.7 L244.8,156.2 L244.6,156.8 L244.4,157.2 L244.2,157.8 L244.0,158.3 L243.8,159.0 L243.6,159.5 L243.4,160.0 L243.2,160.5 L243.0,161.2 L242.8,161.8 L242.7,162.2 L242.5,162.8 L242.2,163.4 L242.0,164.0 L241.9,164.5 L241.7,165.0 L241.5,165.5 L241.2,166.0 L241.0,166.6 L240.8,167.1 L240.5,167.6 L240.2,168.1 L240.0,168.5 L239.7,169.0 L239.4,169.5 L239.1,170.0 L238.8,170.5 L238.5,170.8 L238.1,171.2 L237.8,171.7 L237.5,172.0 L237.0,172.5 L236.8,172.8 L236.3,173.2 L236.0,173.5 L235.5,173.9 L235.1,174.2 L234.8,174.5 L234.2,174.9 L233.8,175.2 L233.3,175.5 L232.9,175.8 L232.5,176.0 L232.0,176.3 L231.5,176.6 L231.0,176.8 L230.5,177.1 L230.0,177.3 L229.5,177.5 L228.9,177.8 L228.3,178.0 L227.8,178.2 L227.2,178.4 L226.8,178.5 L226.0,178.8 L225.5,178.9 L225.0,179.0 L224.2,179.2 L223.8,179.3 L223.0,179.4 L222.3,179.5ZM270.2,156.5 L269.5,156.5 L268.8,156.5 L268.2,156.5 L267.5,156.5 L266.8,156.4 L266.0,156.3 L265.5,156.2 L264.8,156.0 L264.2,155.8 L263.8,155.7 L263.2,155.5 L262.6,155.2 L262.1,155.0 L261.5,154.8 L261.0,154.5 L260.5,154.3 L260.0,154.0 L259.5,153.8 L259.0,153.6 L258.5,153.3 L258.0,153.0 L257.7,152.8 L257.3,152.2 L257.1,151.8 L257.2,151.1 L257.5,150.8 L258.0,150.3 L258.4,150.0 L258.8,149.7 L259.2,149.4 L259.8,149.0 L260.1,148.8 L260.5,148.5 L261.0,148.1 L261.5,147.8 L261.9,147.5 L262.3,147.2 L262.8,147.0 L263.2,146.7 L263.8,146.4 L264.2,146.1 L264.8,145.9 L265.2,145.6 L265.8,145.4 L266.2,145.2 L266.8,145.0 L267.4,144.8 L268.0,144.5 L268.5,144.3 L269.0,144.2 L269.5,144.0 L270.2,143.8 L270.8,143.6 L271.2,143.5 L272.0,143.3 L272.5,143.2 L273.1,143.0 L273.8,142.8 L274.2,142.7 L275.0,142.6 L275.5,142.5 L276.2,142.3 L276.8,142.2 L277.5,142.1 L278.0,142.0 L278.8,141.9 L279.5,141.8 L280.0,141.7 L280.8,141.6 L281.5,141.5 L282.0,141.5 L282.8,141.4 L283.5,141.4 L284.2,141.4 L285.0,141.4 L285.8,141.5 L286.2,141.5 L287.0,141.6 L287.7,141.8 L288.2,141.9 L288.8,142.0 L289.5,142.2 L290.0,142.4 L290.5,142.7 L291.0,143.0 L291.4,143.2 L291.8,143.6 L292.1,144.0 L292.5,144.5 L292.7,145.0 L292.8,145.5 L292.9,146.2 L292.8,147.0 L292.7,147.5 L292.5,148.0 L292.2,148.5 L291.9,149.0 L291.5,149.5 L291.2,149.8 L290.8,150.2 L290.4,150.5 L290.0,150.8 L289.5,151.2 L289.0,151.5 L288.6,151.8 L288.1,152.0 L287.7,152.2 L287.2,152.5 L286.7,152.8 L286.1,153.0 L285.5,153.2 L285.0,153.5 L284.5,153.7 L284.0,153.8 L283.5,154.0 L282.8,154.2 L282.2,154.4 L281.8,154.5 L281.0,154.7 L280.5,154.9 L280.0,155.0 L279.2,155.2 L278.8,155.3 L278.0,155.5 L277.5,155.6 L276.8,155.7 L276.2,155.8 L275.5,155.9 L275.0,156.0 L274.2,156.1 L273.5,156.2 L273.0,156.3 L272.2,156.4 L271.5,156.4 L270.8,156.5 L270.2,156.5ZM222.0,177.5 L221.4,177.5 L220.8,177.5 L220.0,177.4 L219.4,177.2 L218.8,177.0 L218.2,176.9 L217.8,176.6 L217.2,176.3 L216.8,176.0 L216.5,175.7 L216.1,175.2 L215.8,174.9 L215.5,174.5 L215.2,174.0 L215.0,173.5 L214.8,172.8 L214.6,172.2 L214.5,171.7 L214.4,171.0 L214.4,170.2 L214.4,169.5 L214.4,168.8 L214.5,168.0 L214.5,167.5 L214.7,166.8 L214.8,166.2 L215.0,165.5 L215.1,165.0 L215.3,164.5 L215.5,163.8 L215.7,163.2 L215.9,162.8 L216.1,162.2 L216.3,161.8 L216.5,161.2 L216.8,160.8 L217.0,160.2 L217.3,159.8 L217.6,159.2 L217.9,158.8 L218.1,158.2 L218.5,157.8 L218.8,157.3 L219.0,156.9 L219.3,156.5 L219.6,156.0 L220.0,155.5 L220.2,155.1 L220.5,154.8 L220.9,154.2 L221.2,153.9 L221.6,153.5 L222.0,153.0 L222.2,152.7 L222.7,152.2 L223.0,151.9 L223.4,151.5 L223.8,151.1 L224.1,150.8 L224.5,150.4 L224.9,150.0 L225.2,149.7 L225.8,149.3 L226.1,149.0 L226.5,148.6 L227.0,148.3 L227.3,148.0 L227.8,147.7 L228.2,147.3 L228.7,147.0 L229.1,146.8 L229.5,146.5 L230.0,146.2 L230.5,145.9 L231.0,145.6 L231.5,145.4 L232.0,145.1 L232.5,144.9 L233.0,144.7 L233.5,144.5 L234.2,144.2 L234.8,144.0 L235.2,143.9 L235.8,143.8 L236.5,143.6 L237.0,143.5 L237.8,143.4 L238.5,143.3 L239.2,143.3 L240.0,143.3 L240.8,143.4 L241.4,143.5 L242.0,143.7 L242.5,144.0 L242.9,144.2 L243.2,144.6 L243.5,145.0 L243.8,145.5 L244.0,146.2 L244.1,146.8 L244.1,147.5 L244.1,148.2 L244.1,149.0 L244.1,149.8 L244.0,150.4 L243.9,151.0 L243.8,151.8 L243.7,152.2 L243.5,153.0 L243.4,153.5 L243.2,154.2 L243.1,154.8 L243.0,155.2 L242.8,156.0 L242.6,156.5 L242.5,157.0 L242.2,157.7 L242.1,158.2 L241.9,158.8 L241.8,159.4 L241.6,160.0 L241.4,160.5 L241.2,161.1 L241.1,161.8 L240.9,162.2 L240.7,162.8 L240.5,163.5 L240.3,164.0 L240.2,164.5 L240.0,165.0 L239.8,165.6 L239.5,166.2 L239.2,166.7 L239.0,167.2 L238.8,167.7 L238.5,168.2 L238.2,168.6 L238.0,169.0 L237.7,169.5 L237.3,170.0 L237.0,170.4 L236.7,170.8 L236.3,171.2 L236.0,171.5 L235.5,172.0 L235.2,172.3 L234.8,172.7 L234.4,173.0 L234.0,173.3 L233.5,173.7 L233.0,174.0 L232.6,174.2 L232.2,174.5 L231.7,174.8 L231.2,175.0 L230.7,175.2 L230.2,175.5 L229.6,175.8 L229.0,176.0 L228.5,176.2 L228.0,176.4 L227.5,176.5 L226.8,176.7 L226.2,176.9 L225.7,177.0 L225.0,177.2 L224.5,177.3 L223.8,177.4 L223.0,177.5 L222.2,177.5ZM272.2,154.5 L271.5,154.6 L270.8,154.6 L270.0,154.6 L269.2,154.7 L268.5,154.7 L267.8,154.6 L267.0,154.6 L266.5,154.5 L265.8,154.3 L265.2,154.2 L264.7,154.0 L264.2,153.8 L263.7,153.5 L263.2,153.2 L262.8,152.8 L262.5,152.5 L262.2,152.0 L262.0,151.2 L262.2,150.6 L262.5,150.1 L262.8,149.8 L263.2,149.2 L263.5,149.0 L264.0,148.6 L264.5,148.2 L264.9,148.0 L265.3,147.8 L265.8,147.5 L266.3,147.2 L266.9,147.0 L267.5,146.8 L268.0,146.6 L268.5,146.4 L269.0,146.2 L269.5,146.0 L270.2,145.8 L270.8,145.6 L271.2,145.4 L271.9,145.2 L272.5,145.1 L273.0,145.0 L273.8,144.8 L274.2,144.7 L275.0,144.5 L275.5,144.4 L276.1,144.2 L276.8,144.1 L277.4,144.0 L278.0,143.9 L278.8,143.8 L279.2,143.7 L280.0,143.6 L280.8,143.5 L281.2,143.5 L282.0,143.4 L282.8,143.3 L283.5,143.3 L284.2,143.3 L285.0,143.4 L285.8,143.4 L286.2,143.5 L287.0,143.7 L287.5,143.8 L288.2,144.0 L288.8,144.1 L289.2,144.4 L289.8,144.6 L290.2,145.0 L290.5,145.4 L290.7,146.0 L290.8,146.5 L290.6,147.0 L290.4,147.5 L290.0,148.0 L289.8,148.3 L289.3,148.8 L289.0,149.0 L288.5,149.4 L288.0,149.8 L287.7,150.0 L287.2,150.3 L286.8,150.6 L286.2,150.8 L285.8,151.1 L285.2,151.3 L284.8,151.5 L284.2,151.8 L283.5,152.0 L283.0,152.2 L282.5,152.3 L282.0,152.5 L281.2,152.7 L280.8,152.9 L280.2,153.0 L279.5,153.2 L279.0,153.3 L278.2,153.5 L277.8,153.6 L277.0,153.7 L276.5,153.8 L275.8,154.0 L275.2,154.1 L274.5,154.2 L274.0,154.3 L273.2,154.4 L272.5,154.5ZM224.5,175.3 L223.8,175.3 L223.0,175.4 L222.2,175.3 L221.5,175.3 L221.0,175.2 L220.4,175.0 L219.8,174.8 L219.2,174.5 L218.8,174.2 L218.5,174.0 L218.0,173.6 L217.7,173.2 L217.3,172.8 L217.1,172.2 L216.8,171.8 L216.7,171.2 L216.5,170.6 L216.4,170.0 L216.3,169.2 L216.3,168.5 L216.3,167.8 L216.4,167.0 L216.5,166.4 L216.6,165.8 L216.8,165.2 L216.9,164.5 L217.1,164.0 L217.3,163.5 L217.5,162.8 L217.7,162.2 L217.9,161.8 L218.2,161.2 L218.4,160.8 L218.7,160.2 L218.9,159.8 L219.2,159.2 L219.5,158.8 L219.8,158.3 L220.0,157.9 L220.3,157.5 L220.6,157.0 L221.0,156.5 L221.2,156.1 L221.5,155.8 L221.9,155.2 L222.2,154.8 L222.5,154.5 L223.0,154.0 L223.2,153.7 L223.6,153.2 L224.0,152.9 L224.4,152.5 L224.8,152.1 L225.1,151.8 L225.5,151.4 L226.0,151.0 L226.3,150.8 L226.8,150.4 L227.2,150.0 L227.5,149.8 L228.0,149.4 L228.5,149.1 L229.0,148.8 L229.4,148.5 L229.8,148.2 L230.2,148.0 L230.8,147.7 L231.2,147.5 L231.8,147.2 L232.3,147.0 L232.9,146.8 L233.5,146.5 L234.0,146.4 L234.5,146.2 L235.2,146.0 L235.8,145.9 L236.5,145.8 L237.1,145.8 L237.8,145.7 L238.5,145.7 L239.2,145.7 L239.8,145.8 L240.4,146.0 L240.8,146.3 L241.1,146.8 L241.2,147.4 L241.3,148.0 L241.4,148.8 L241.4,149.5 L241.4,150.2 L241.4,151.0 L241.3,151.8 L241.3,152.5 L241.2,153.0 L241.1,153.8 L241.0,154.5 L240.9,155.0 L240.8,155.8 L240.7,156.2 L240.5,157.0 L240.4,157.5 L240.2,158.0 L240.1,158.8 L239.9,159.2 L239.8,159.9 L239.6,160.5 L239.4,161.0 L239.2,161.7 L239.1,162.2 L238.9,162.8 L238.8,163.4 L238.5,164.0 L238.4,164.5 L238.2,165.0 L238.0,165.5 L237.8,166.2 L237.5,166.7 L237.3,167.2 L237.0,167.7 L236.8,168.2 L236.5,168.6 L236.2,169.0 L235.8,169.5 L235.5,169.9 L235.2,170.2 L234.8,170.7 L234.5,171.0 L234.0,171.4 L233.6,171.8 L233.2,172.0 L232.8,172.3 L232.2,172.7 L231.8,172.9 L231.2,173.2 L230.8,173.5 L230.2,173.7 L229.8,173.9 L229.2,174.1 L228.8,174.3 L228.1,174.5 L227.5,174.7 L227.0,174.8 L226.2,175.0 L225.8,175.1 L225.0,175.2 L224.5,175.3ZM273.0,152.0 L272.2,152.1 L271.5,152.2 L270.8,152.1 L270.0,152.1 L269.4,152.0 L268.8,151.9 L268.0,151.9 L267.2,151.8 L266.8,151.6 L266.3,151.2 L266.5,150.6 L266.8,150.2 L267.2,150.0 L267.8,149.7 L268.2,149.5 L268.8,149.2 L269.2,148.9 L269.8,148.6 L270.2,148.4 L270.8,148.1 L271.2,147.9 L271.9,147.8 L272.5,147.6 L273.0,147.5 L273.8,147.3 L274.2,147.2 L275.0,147.0 L275.5,146.9 L276.0,146.7 L276.8,146.5 L277.2,146.4 L278.0,146.3 L278.5,146.2 L279.2,146.2 L280.0,146.1 L280.8,146.0 L281.2,146.0 L282.0,145.9 L282.8,145.8 L283.5,145.8 L284.2,145.9 L284.8,146.0 L285.2,146.3 L285.7,146.8 L285.8,147.2 L285.7,147.8 L285.3,148.2 L285.0,148.6 L284.5,148.9 L284.0,149.2 L283.5,149.4 L283.0,149.5 L282.3,149.8 L281.8,149.9 L281.2,150.1 L280.8,150.3 L280.2,150.5 L279.5,150.7 L279.0,150.9 L278.5,151.0 L277.8,151.2 L277.2,151.3 L276.5,151.4 L275.8,151.5 L275.2,151.6 L274.5,151.7 L274.0,151.8 L273.2,152.0ZM225.5,173.0 L224.8,173.1 L224.0,173.1 L223.2,173.1 L222.8,173.0 L222.0,172.8 L221.5,172.7 L221.0,172.5 L220.5,172.2 L220.0,171.8 L219.7,171.5 L219.3,171.0 L219.0,170.5 L218.8,170.0 L218.6,169.5 L218.5,169.0 L218.4,168.2 L218.3,167.5 L218.3,166.8 L218.4,166.0 L218.5,165.4 L218.6,164.8 L218.8,164.2 L219.0,163.5 L219.1,163.0 L219.3,162.5 L219.5,162.0 L219.8,161.5 L220.0,160.9 L220.2,160.4 L220.5,159.9 L220.8,159.5 L221.0,159.0 L221.3,158.5 L221.7,158.0 L222.0,157.5 L222.2,157.2 L222.6,156.8 L222.9,156.2 L223.2,155.9 L223.5,155.5 L224.0,155.0 L224.2,154.7 L224.7,154.2 L225.0,153.9 L225.4,153.5 L225.8,153.2 L226.2,152.8 L226.5,152.5 L227.0,152.1 L227.5,151.8 L227.8,151.5 L228.2,151.2 L228.8,150.9 L229.2,150.6 L229.8,150.3 L230.2,150.0 L230.8,149.8 L231.2,149.5 L231.8,149.3 L232.2,149.1 L232.8,149.0 L233.5,148.8 L234.0,148.7 L234.8,148.6 L235.5,148.6 L236.2,148.7 L236.8,148.9 L237.2,149.1 L237.7,149.5 L238.0,149.9 L238.2,150.3 L238.5,150.9 L238.7,151.5 L238.8,152.0 L238.8,152.8 L238.9,153.5 L238.9,154.2 L238.8,155.0 L238.8,155.5 L238.7,156.2 L238.5,157.0 L238.4,157.5 L238.3,158.2 L238.1,158.8 L238.0,159.3 L237.8,160.0 L237.7,160.5 L237.5,161.2 L237.3,161.8 L237.2,162.2 L237.0,162.8 L236.8,163.5 L236.6,164.0 L236.5,164.5 L236.2,165.2 L236.0,165.8 L235.8,166.2 L235.6,166.8 L235.4,167.2 L235.1,167.8 L234.8,168.2 L234.5,168.6 L234.2,169.0 L233.8,169.5 L233.5,169.8 L233.0,170.2 L232.6,170.5 L232.2,170.8 L231.8,171.0 L231.2,171.3 L230.8,171.6 L230.2,171.8 L229.7,172.0 L229.0,172.2 L228.5,172.4 L228.0,172.5 L227.2,172.7 L226.8,172.8 L226.0,172.9 L225.5,173.0ZM226.8,170.5 L226.0,170.6 L225.2,170.6 L224.5,170.6 L223.8,170.5 L223.2,170.4 L222.8,170.2 L222.2,169.9 L221.8,169.5 L221.5,169.2 L221.1,168.8 L220.9,168.2 L220.7,167.8 L220.5,167.0 L220.5,166.5 L220.4,165.8 L220.5,165.0 L220.6,164.5 L220.7,163.8 L220.9,163.2 L221.0,162.8 L221.2,162.1 L221.5,161.5 L221.7,161.0 L222.0,160.5 L222.2,160.0 L222.5,159.5 L222.8,159.1 L223.0,158.7 L223.3,158.2 L223.7,157.8 L224.0,157.3 L224.2,157.0 L224.7,156.5 L225.0,156.1 L225.3,155.8 L225.8,155.3 L226.1,155.0 L226.5,154.6 L226.9,154.2 L227.2,154.0 L227.8,153.6 L228.2,153.2 L228.6,153.0 L229.0,152.8 L229.5,152.5 L230.0,152.2 L230.5,152.0 L231.2,151.8 L231.8,151.6 L232.2,151.5 L233.0,151.4 L233.8,151.4 L234.2,151.5 L234.8,151.8 L235.2,152.1 L235.7,152.5 L236.0,153.0 L236.2,153.5 L236.4,154.0 L236.5,154.8 L236.5,155.2 L236.5,156.0 L236.5,156.6 L236.4,157.2 L236.3,158.0 L236.2,158.5 L236.0,159.2 L235.9,159.8 L235.8,160.3 L235.5,161.0 L235.4,161.5 L235.2,162.0 L235.0,162.6 L234.8,163.2 L234.6,163.8 L234.4,164.2 L234.2,164.8 L234.0,165.4 L233.8,166.0 L233.5,166.5 L233.2,167.0 L233.0,167.4 L232.8,167.8 L232.3,168.2 L232.0,168.5 L231.5,168.9 L231.0,169.2 L230.5,169.5 L230.0,169.7 L229.5,169.8 L229.0,170.0 L228.2,170.2 L227.8,170.3 L227.0,170.5ZM226.5,167.8 L225.8,167.8 L225.2,167.8 L224.5,167.6 L224.0,167.3 L223.6,167.0 L223.2,166.5 L223.0,166.1 L222.8,165.5 L222.8,165.0 L222.7,164.2 L222.8,163.8 L222.9,163.0 L223.0,162.5 L223.2,161.9 L223.5,161.2 L223.7,160.8 L224.0,160.2 L224.2,159.8 L224.5,159.4 L224.8,159.0 L225.1,158.5 L225.5,158.0 L225.8,157.7 L226.2,157.2 L226.5,156.9 L226.9,156.5 L227.2,156.2 L227.8,155.8 L228.2,155.5 L228.5,155.2 L229.0,155.0 L229.5,154.7 L230.0,154.5 L230.8,154.3 L231.2,154.2 L232.0,154.2 L232.5,154.3 L233.0,154.5 L233.5,155.0 L233.8,155.4 L234.0,156.0 L234.1,156.5 L234.2,157.2 L234.1,158.0 L234.0,158.8 L233.9,159.2 L233.8,159.8 L233.5,160.5 L233.4,161.0 L233.2,161.5 L232.9,162.0 L232.7,162.5 L232.5,163.0 L232.2,163.5 L231.9,164.0 L231.6,164.5 L231.3,165.0 L231.0,165.3 L230.6,165.8 L230.2,166.1 L229.8,166.5 L229.4,166.8 L229.0,167.0 L228.4,167.2 L227.8,167.5 L227.2,167.6 L226.6,167.8ZM227.2,164.3 L226.5,164.3 L226.0,164.1 L225.7,163.8 L225.5,163.2 L225.4,162.5 L225.5,162.0 L225.7,161.2 L225.9,160.8 L226.2,160.2 L226.5,159.8 L226.8,159.4 L227.1,159.0 L227.5,158.6 L227.9,158.2 L228.2,158.0 L228.8,157.7 L229.2,157.5 L230.0,157.3 L230.8,157.5 L231.1,157.8 L231.3,158.2 L231.4,159.0 L231.3,159.8 L231.1,160.2 L231.0,160.8 L230.7,161.2 L230.4,161.8 L230.1,162.2 L229.8,162.7 L229.5,163.0 L229.0,163.4 L228.6,163.8 L228.1,164.0 L227.5,164.2Z" stroke="#000" stroke-width="0.95" fill="none"/>
<path d="M382.0,188.0 L381.2,188.0 L380.5,188.0 L379.8,188.0 L379.2,188.0 L378.5,187.9 L377.8,187.8 L377.2,187.6 L376.7,187.5 L376.0,187.3 L375.5,187.1 L375.0,186.8 L374.5,186.6 L374.0,186.3 L373.6,186.0 L373.2,185.8 L372.8,185.3 L372.4,185.0 L372.0,184.6 L371.7,184.2 L371.3,183.8 L371.0,183.2 L370.8,182.8 L370.5,182.3 L370.2,181.8 L370.0,181.2 L369.9,180.8 L369.7,180.2 L369.5,179.5 L369.4,179.0 L369.3,178.2 L369.3,177.5 L369.2,177.0 L369.2,176.2 L369.2,175.5 L369.2,174.8 L369.3,174.2 L369.3,173.5 L369.4,172.8 L369.5,172.2 L369.7,171.5 L369.8,171.0 L369.9,170.2 L370.1,169.8 L370.2,169.1 L370.4,168.5 L370.6,168.0 L370.8,167.5 L371.0,166.8 L371.2,166.2 L371.4,165.8 L371.6,165.2 L371.8,164.8 L372.0,164.2 L372.3,163.8 L372.5,163.2 L372.8,162.7 L373.0,162.2 L373.2,161.7 L373.5,161.2 L373.8,160.8 L374.1,160.2 L374.3,159.8 L374.6,159.2 L374.9,158.8 L375.2,158.3 L375.5,157.9 L375.8,157.5 L376.1,157.0 L376.4,156.5 L376.8,156.0 L377.0,155.7 L377.3,155.2 L377.7,154.8 L378.0,154.3 L378.3,154.0 L378.7,153.5 L379.0,153.1 L379.3,152.8 L379.7,152.2 L380.0,151.9 L380.4,151.5 L380.8,151.1 L381.0,150.8 L381.5,150.2 L381.8,150.0 L382.2,149.5 L382.5,149.2 L383.0,148.8 L383.2,148.5 L383.7,148.0 L384.0,147.8 L384.5,147.3 L384.8,147.0 L385.2,146.6 L385.7,146.2 L386.0,146.0 L386.5,145.6 L386.9,145.2 L387.2,145.0 L387.8,144.6 L388.2,144.2 L388.5,144.0 L389.0,143.7 L389.5,143.3 L389.9,143.0 L390.3,142.8 L390.8,142.5 L391.2,142.1 L391.8,141.8 L392.2,141.5 L392.7,141.2 L393.2,141.0 L393.6,140.8 L394.1,140.5 L394.6,140.2 L395.1,140.0 L395.6,139.8 L396.1,139.5 L396.7,139.2 L397.2,139.0 L397.8,138.8 L398.2,138.6 L398.8,138.5 L399.4,138.2 L400.0,138.1 L400.5,137.9 L401.1,137.8 L401.8,137.6 L402.2,137.5 L403.0,137.4 L403.7,137.2 L404.2,137.2 L405.0,137.1 L405.8,137.1 L406.5,137.0 L407.2,137.0 L408.0,137.1 L408.8,137.2 L409.4,137.2 L410.0,137.4 L410.7,137.5 L411.2,137.6 L411.8,137.8 L412.4,138.0 L413.0,138.2 L413.5,138.4 L414.0,138.6 L414.5,138.8 L415.0,139.0 L415.5,139.2 L416.1,139.5 L416.8,139.7 L417.2,139.9 L417.8,140.1 L418.5,140.2 L419.0,140.3 L419.8,140.4 L420.5,140.4 L421.2,140.4 L422.0,140.4 L422.8,140.3 L423.2,140.2 L424.0,140.2 L424.8,140.0 L425.2,140.0 L426.0,139.9 L426.8,139.8 L427.2,139.7 L428.0,139.6 L428.7,139.5 L429.2,139.4 L430.0,139.3 L430.8,139.3 L431.2,139.2 L432.0,139.2 L432.8,139.1 L433.5,139.1 L434.2,139.1 L435.0,139.1 L435.8,139.0 L436.5,139.0 L437.2,139.1 L438.0,139.1 L438.8,139.1 L439.5,139.1 L440.2,139.1 L441.0,139.1 L441.8,139.2 L442.5,139.2 L443.2,139.2 L443.8,139.3 L444.5,139.3 L445.2,139.3 L446.0,139.4 L446.8,139.4 L447.5,139.5 L448.0,139.5 L448.8,139.6 L449.5,139.6 L450.2,139.7 L450.8,139.8 L451.5,139.9 L452.0,140.0 L452.8,140.2 L453.2,140.4 L453.8,140.6 L454.2,140.8 L454.8,141.1 L455.2,141.4 L455.7,141.8 L456.0,142.0 L456.5,142.5 L456.8,142.8 L457.0,143.2 L457.3,143.8 L457.5,144.2 L457.8,144.9 L457.9,145.5 L458.0,146.2 L458.0,147.0 L457.9,147.8 L457.8,148.5 L457.6,149.0 L457.4,149.5 L457.2,150.0 L457.0,150.5 L456.7,151.0 L456.4,151.5 L456.1,152.0 L455.8,152.5 L455.5,152.8 L455.2,153.2 L454.8,153.8 L454.5,154.1 L454.2,154.5 L453.8,155.0 L453.5,155.3 L453.1,155.8 L452.8,156.2 L452.5,156.5 L452.0,157.0 L451.7,157.2 L451.2,157.7 L450.9,158.0 L450.5,158.4 L450.1,158.8 L449.8,159.0 L449.2,159.4 L448.9,159.8 L448.5,160.0 L448.0,160.4 L447.5,160.8 L447.2,161.0 L446.8,161.3 L446.2,161.6 L445.8,162.0 L445.3,162.2 L445.0,162.5 L444.5,162.8 L444.0,163.1 L443.5,163.4 L443.0,163.7 L442.5,164.0 L442.0,164.2 L441.5,164.5 L441.0,164.8 L440.5,165.0 L440.0,165.2 L439.5,165.5 L439.0,165.7 L438.5,165.9 L438.0,166.1 L437.5,166.3 L437.0,166.5 L436.2,166.7 L435.8,166.9 L435.2,167.0 L434.5,167.2 L434.0,167.4 L433.4,167.5 L432.8,167.6 L432.1,167.8 L431.5,167.8 L430.8,167.9 L430.2,168.0 L429.5,168.1 L428.8,168.1 L428.0,168.1 L427.2,168.1 L426.5,168.1 L425.8,168.0 L425.2,168.0 L424.5,167.9 L423.8,167.8 L423.2,167.7 L422.5,167.6 L422.0,167.5 L421.2,167.3 L420.8,167.2 L420.0,167.1 L419.5,166.9 L418.8,166.8 L418.2,166.7 L417.5,166.5 L417.0,166.5 L416.2,166.4 L415.5,166.4 L414.9,166.5 L414.2,166.7 L413.8,166.9 L413.2,167.1 L412.8,167.4 L412.4,167.8 L412.0,168.1 L411.6,168.5 L411.2,168.9 L411.0,169.2 L410.6,169.8 L410.2,170.2 L410.0,170.5 L409.7,171.0 L409.3,171.5 L409.0,172.0 L408.8,172.3 L408.5,172.8 L408.1,173.2 L407.8,173.7 L407.5,174.1 L407.2,174.5 L406.8,175.0 L406.5,175.3 L406.2,175.8 L405.8,176.2 L405.5,176.5 L405.1,177.0 L404.8,177.3 L404.4,177.8 L404.0,178.1 L403.6,178.5 L403.2,178.8 L402.8,179.2 L402.5,179.5 L402.0,179.9 L401.6,180.2 L401.2,180.5 L400.8,180.9 L400.3,181.2 L399.9,181.5 L399.5,181.8 L399.0,182.1 L398.5,182.5 L398.0,182.8 L397.6,183.0 L397.2,183.2 L396.7,183.5 L396.2,183.8 L395.8,184.0 L395.2,184.3 L394.7,184.5 L394.2,184.8 L393.6,185.0 L393.1,185.2 L392.5,185.5 L392.0,185.7 L391.5,185.9 L391.0,186.0 L390.4,186.2 L389.8,186.5 L389.2,186.6 L388.8,186.8 L388.0,187.0 L387.5,187.1 L387.0,187.2 L386.2,187.4 L385.8,187.5 L385.0,187.7 L384.5,187.8 L383.8,187.9 L383.0,187.9 L382.2,188.0ZM385.0,186.0 L384.2,186.1 L383.5,186.2 L382.8,186.2 L382.0,186.2 L381.2,186.2 L380.5,186.2 L379.8,186.1 L379.2,186.0 L378.5,185.9 L378.0,185.7 L377.3,185.5 L376.8,185.3 L376.2,185.1 L375.8,184.8 L375.3,184.5 L374.9,184.2 L374.5,183.9 L374.0,183.5 L373.7,183.2 L373.3,182.8 L373.0,182.4 L372.7,182.0 L372.4,181.5 L372.2,181.0 L371.9,180.5 L371.7,180.0 L371.5,179.3 L371.3,178.8 L371.2,178.2 L371.1,177.5 L371.0,176.8 L370.9,176.2 L370.9,175.5 L370.9,174.8 L370.9,174.0 L371.0,173.2 L371.0,172.8 L371.1,172.0 L371.2,171.4 L371.4,170.8 L371.5,170.1 L371.7,169.5 L371.8,169.0 L372.0,168.2 L372.2,167.8 L372.3,167.2 L372.5,166.7 L372.8,166.0 L373.0,165.5 L373.2,165.0 L373.4,164.5 L373.6,164.0 L373.8,163.5 L374.1,163.0 L374.3,162.5 L374.6,162.0 L374.8,161.5 L375.1,161.0 L375.4,160.5 L375.7,160.0 L376.0,159.5 L376.2,159.0 L376.5,158.6 L376.8,158.2 L377.1,157.8 L377.4,157.2 L377.8,156.8 L378.0,156.4 L378.3,156.0 L378.7,155.5 L379.0,155.1 L379.3,154.8 L379.6,154.2 L380.0,153.8 L380.3,153.5 L380.7,153.0 L381.0,152.6 L381.3,152.2 L381.8,151.8 L382.0,151.5 L382.5,151.0 L382.8,150.7 L383.2,150.2 L383.5,150.0 L384.0,149.5 L384.2,149.2 L384.8,148.8 L385.1,148.5 L385.5,148.1 L385.9,147.8 L386.2,147.4 L386.8,147.0 L387.1,146.8 L387.5,146.4 L388.0,146.0 L388.4,145.8 L388.8,145.5 L389.2,145.1 L389.7,144.8 L390.1,144.5 L390.5,144.2 L391.0,143.9 L391.5,143.6 L392.0,143.3 L392.5,143.0 L392.9,142.8 L393.3,142.5 L393.8,142.2 L394.2,142.0 L394.8,141.7 L395.2,141.5 L395.8,141.2 L396.3,141.0 L396.9,140.8 L397.5,140.5 L398.0,140.3 L398.5,140.1 L399.0,140.0 L399.7,139.8 L400.2,139.6 L400.8,139.4 L401.5,139.3 L402.0,139.1 L402.8,139.0 L403.2,138.9 L404.0,138.8 L404.8,138.8 L405.2,138.7 L406.0,138.7 L406.8,138.7 L407.2,138.8 L408.0,138.8 L408.8,138.9 L409.2,139.0 L410.0,139.2 L410.5,139.4 L411.0,139.5 L411.6,139.8 L412.2,140.0 L412.7,140.2 L413.2,140.5 L413.6,140.8 L414.1,141.0 L414.5,141.2 L415.0,141.5 L415.5,141.8 L416.0,142.0 L416.6,142.2 L417.2,142.5 L417.8,142.6 L418.5,142.7 L419.2,142.7 L420.0,142.7 L420.8,142.6 L421.5,142.5 L422.0,142.4 L422.8,142.3 L423.2,142.2 L424.0,142.0 L424.5,142.0 L425.2,141.8 L425.8,141.7 L426.5,141.6 L427.0,141.5 L427.8,141.4 L428.4,141.2 L429.0,141.2 L429.8,141.1 L430.3,141.0 L431.0,140.9 L431.8,140.9 L432.5,140.8 L433.2,140.8 L433.8,140.7 L434.5,140.7 L435.2,140.7 L436.0,140.7 L436.8,140.7 L437.5,140.7 L438.2,140.7 L438.8,140.8 L439.5,140.8 L440.2,140.8 L441.0,140.8 L441.8,140.9 L442.5,140.9 L443.2,140.9 L444.0,141.0 L444.6,141.0 L445.2,141.0 L446.0,141.1 L446.8,141.1 L447.5,141.2 L448.2,141.2 L448.8,141.3 L449.5,141.3 L450.2,141.4 L451.0,141.5 L451.5,141.5 L452.2,141.7 L452.8,141.8 L453.2,142.0 L453.8,142.2 L454.2,142.5 L454.8,142.9 L455.2,143.2 L455.5,143.6 L455.8,144.0 L456.1,144.5 L456.3,145.0 L456.5,145.8 L456.5,146.2 L456.5,147.0 L456.4,147.5 L456.3,148.2 L456.1,148.8 L455.9,149.2 L455.6,149.8 L455.3,150.2 L455.0,150.7 L454.8,151.1 L454.4,151.5 L454.1,152.0 L453.8,152.4 L453.5,152.8 L453.1,153.2 L452.8,153.7 L452.5,154.0 L452.0,154.5 L451.8,154.8 L451.4,155.2 L451.0,155.7 L450.7,156.0 L450.2,156.4 L449.9,156.8 L449.5,157.1 L449.0,157.5 L448.7,157.8 L448.2,158.2 L447.8,158.5 L447.5,158.8 L447.0,159.1 L446.5,159.5 L446.1,159.8 L445.7,160.0 L445.2,160.3 L444.8,160.7 L444.2,161.0 L443.9,161.2 L443.5,161.5 L443.0,161.8 L442.5,162.1 L442.0,162.4 L441.5,162.7 L441.0,163.0 L440.5,163.2 L440.0,163.5 L439.5,163.7 L439.0,164.0 L438.5,164.2 L438.0,164.4 L437.5,164.6 L437.0,164.8 L436.4,165.0 L435.8,165.2 L435.2,165.4 L434.8,165.5 L434.0,165.7 L433.5,165.9 L432.9,166.0 L432.2,166.1 L431.6,166.2 L431.0,166.3 L430.2,166.4 L429.5,166.5 L429.0,166.5 L428.2,166.6 L427.5,166.6 L426.8,166.6 L426.0,166.5 L425.5,166.5 L424.8,166.4 L424.0,166.3 L423.5,166.2 L422.8,166.1 L422.2,166.0 L421.5,165.8 L421.0,165.6 L420.5,165.5 L419.8,165.3 L419.2,165.2 L418.7,165.0 L418.0,164.8 L417.5,164.7 L416.8,164.5 L416.2,164.4 L415.5,164.4 L414.8,164.4 L414.0,164.5 L413.5,164.6 L413.0,164.8 L412.5,165.1 L412.0,165.4 L411.6,165.8 L411.2,166.1 L410.9,166.5 L410.5,167.0 L410.2,167.3 L410.0,167.8 L409.6,168.2 L409.3,168.8 L409.0,169.2 L408.8,169.7 L408.5,170.1 L408.2,170.5 L408.0,171.0 L407.6,171.5 L407.3,172.0 L407.0,172.5 L406.8,172.9 L406.5,173.2 L406.1,173.8 L405.8,174.2 L405.5,174.6 L405.2,175.0 L404.8,175.5 L404.5,175.8 L404.1,176.2 L403.8,176.6 L403.4,177.0 L403.0,177.4 L402.6,177.8 L402.2,178.1 L401.8,178.5 L401.5,178.8 L401.0,179.2 L400.6,179.5 L400.2,179.8 L399.8,180.1 L399.2,180.5 L398.8,180.8 L398.4,181.0 L398.0,181.3 L397.5,181.6 L397.0,181.9 L396.5,182.1 L396.0,182.4 L395.5,182.7 L395.0,182.9 L394.5,183.1 L394.0,183.4 L393.5,183.6 L393.0,183.8 L392.5,184.0 L391.8,184.2 L391.2,184.4 L390.8,184.6 L390.2,184.8 L389.5,185.0 L389.0,185.2 L388.5,185.3 L387.8,185.5 L387.2,185.6 L386.5,185.7 L386.0,185.8 L385.2,186.0ZM385.2,184.3 L384.5,184.3 L383.8,184.4 L383.0,184.4 L382.2,184.4 L381.5,184.3 L380.8,184.3 L380.2,184.2 L379.5,184.0 L379.0,183.9 L378.5,183.7 L378.0,183.5 L377.5,183.2 L377.0,183.0 L376.5,182.7 L376.0,182.3 L375.7,182.0 L375.2,181.6 L374.9,181.2 L374.5,180.8 L374.2,180.3 L374.0,179.9 L373.8,179.4 L373.5,178.9 L373.3,178.2 L373.1,177.8 L373.0,177.2 L372.8,176.5 L372.8,175.9 L372.7,175.2 L372.6,174.5 L372.6,173.8 L372.7,173.0 L372.7,172.2 L372.8,171.8 L372.9,171.0 L373.0,170.5 L373.1,169.8 L373.3,169.2 L373.5,168.5 L373.6,168.0 L373.8,167.5 L374.0,166.8 L374.2,166.2 L374.4,165.8 L374.5,165.2 L374.8,164.8 L375.0,164.2 L375.2,163.6 L375.5,163.1 L375.8,162.6 L376.0,162.1 L376.2,161.6 L376.5,161.2 L376.8,160.7 L377.0,160.2 L377.3,159.8 L377.6,159.2 L377.9,158.8 L378.2,158.3 L378.5,157.9 L378.8,157.5 L379.1,157.0 L379.5,156.5 L379.8,156.2 L380.1,155.8 L380.5,155.2 L380.8,154.9 L381.1,154.5 L381.5,154.0 L381.8,153.7 L382.1,153.2 L382.5,152.8 L382.8,152.5 L383.2,152.0 L383.5,151.8 L384.0,151.3 L384.3,151.0 L384.8,150.5 L385.0,150.2 L385.5,149.8 L385.9,149.5 L386.2,149.2 L386.7,148.8 L387.0,148.5 L387.5,148.1 L387.9,147.8 L388.3,147.5 L388.8,147.1 L389.2,146.8 L389.6,146.5 L390.0,146.2 L390.5,145.9 L391.0,145.5 L391.4,145.2 L391.8,145.0 L392.3,144.8 L392.8,144.5 L393.2,144.2 L393.8,143.9 L394.2,143.6 L394.8,143.4 L395.2,143.1 L395.8,142.9 L396.2,142.7 L396.8,142.4 L397.2,142.2 L397.8,142.0 L398.5,141.8 L399.0,141.6 L399.5,141.4 L400.1,141.2 L400.8,141.1 L401.2,140.9 L402.0,140.8 L402.5,140.7 L403.2,140.6 L403.8,140.5 L404.5,140.4 L405.2,140.4 L406.0,140.4 L406.8,140.4 L407.2,140.5 L408.0,140.6 L408.6,140.8 L409.2,140.9 L409.8,141.1 L410.2,141.3 L410.8,141.5 L411.2,141.8 L411.8,142.1 L412.2,142.5 L412.6,142.8 L413.0,143.1 L413.5,143.5 L413.9,143.8 L414.2,144.0 L414.8,144.4 L415.2,144.7 L415.8,144.9 L416.2,145.0 L417.0,145.2 L417.8,145.2 L418.5,145.2 L419.2,145.1 L419.8,145.0 L420.5,144.9 L421.0,144.7 L421.8,144.6 L422.2,144.4 L422.9,144.2 L423.5,144.1 L424.0,144.0 L424.8,143.8 L425.2,143.7 L426.0,143.5 L426.5,143.4 L427.1,143.2 L427.8,143.1 L428.4,143.0 L429.0,142.9 L429.8,142.8 L430.2,142.7 L431.0,142.6 L431.8,142.6 L432.5,142.5 L433.0,142.5 L433.8,142.4 L434.5,142.4 L435.2,142.4 L436.0,142.4 L436.8,142.4 L437.5,142.5 L438.1,142.5 L438.8,142.5 L439.5,142.6 L440.2,142.6 L441.0,142.6 L441.8,142.7 L442.5,142.7 L443.2,142.7 L443.8,142.8 L444.5,142.8 L445.2,142.9 L446.0,142.9 L446.6,143.0 L447.2,143.1 L448.0,143.1 L448.8,143.2 L449.5,143.2 L450.0,143.3 L450.8,143.3 L451.5,143.4 L452.2,143.5 L452.8,143.6 L453.2,143.9 L453.8,144.2 L454.1,144.5 L454.5,145.0 L454.7,145.5 L454.8,146.0 L454.9,146.8 L454.8,147.4 L454.5,148.0 L454.3,148.5 L454.0,148.9 L453.8,149.3 L453.4,149.8 L453.0,150.2 L452.8,150.6 L452.4,151.0 L452.1,151.5 L451.8,151.9 L451.5,152.3 L451.1,152.8 L450.8,153.2 L450.5,153.6 L450.1,154.0 L449.8,154.4 L449.5,154.8 L449.0,155.2 L448.7,155.5 L448.2,155.9 L447.9,156.2 L447.5,156.5 L447.0,156.9 L446.6,157.2 L446.2,157.5 L445.8,157.9 L445.2,158.2 L444.8,158.5 L444.5,158.8 L444.0,159.1 L443.5,159.4 L443.0,159.7 L442.6,160.0 L442.2,160.2 L441.8,160.6 L441.2,160.9 L440.8,161.2 L440.2,161.4 L439.8,161.7 L439.2,162.0 L438.8,162.2 L438.2,162.5 L437.8,162.7 L437.2,162.9 L436.8,163.1 L436.2,163.3 L435.7,163.5 L435.0,163.7 L434.5,163.9 L434.0,164.0 L433.2,164.2 L432.8,164.4 L432.1,164.5 L431.5,164.6 L430.8,164.7 L430.2,164.8 L429.5,164.9 L428.8,164.9 L428.0,165.0 L427.2,165.0 L426.5,164.9 L425.8,164.9 L425.0,164.8 L424.4,164.8 L423.8,164.6 L423.1,164.5 L422.5,164.4 L422.0,164.2 L421.2,164.0 L420.8,163.9 L420.2,163.7 L419.6,163.5 L419.0,163.3 L418.5,163.1 L418.0,163.0 L417.4,162.8 L416.8,162.6 L416.2,162.4 L415.5,162.3 L415.0,162.2 L414.2,162.2 L413.5,162.2 L413.0,162.3 L412.4,162.5 L411.8,162.8 L411.4,163.0 L411.0,163.4 L410.6,163.8 L410.2,164.1 L410.0,164.5 L409.6,165.0 L409.3,165.5 L409.0,166.0 L408.8,166.5 L408.5,166.9 L408.2,167.4 L408.0,167.9 L407.8,168.4 L407.5,168.8 L407.2,169.3 L407.0,169.8 L406.7,170.2 L406.5,170.8 L406.2,171.2 L405.9,171.8 L405.6,172.2 L405.2,172.7 L405.0,173.1 L404.7,173.5 L404.3,174.0 L404.0,174.4 L403.7,174.8 L403.3,175.2 L403.0,175.6 L402.6,176.0 L402.2,176.4 L401.9,176.8 L401.5,177.1 L401.1,177.5 L400.8,177.8 L400.2,178.2 L399.8,178.5 L399.5,178.8 L399.0,179.1 L398.5,179.5 L398.0,179.8 L397.6,180.0 L397.2,180.2 L396.8,180.5 L396.2,180.8 L395.8,181.1 L395.2,181.3 L394.8,181.5 L394.2,181.8 L393.7,182.0 L393.1,182.2 L392.5,182.5 L392.0,182.7 L391.5,182.8 L391.0,183.0 L390.2,183.2 L389.8,183.4 L389.2,183.5 L388.5,183.7 L388.0,183.8 L387.2,184.0 L386.8,184.0 L386.0,184.2 L385.4,184.2ZM385.0,182.5 L384.2,182.5 L383.5,182.5 L382.8,182.5 L382.2,182.4 L381.5,182.3 L381.0,182.2 L380.2,182.0 L379.8,181.9 L379.2,181.7 L378.8,181.4 L378.2,181.1 L377.8,180.8 L377.4,180.5 L377.0,180.2 L376.6,179.8 L376.2,179.3 L376.0,179.0 L375.7,178.5 L375.4,178.0 L375.2,177.5 L375.0,176.9 L374.8,176.2 L374.7,175.8 L374.5,175.0 L374.5,174.5 L374.4,173.8 L374.4,173.0 L374.4,172.2 L374.5,171.5 L374.5,171.0 L374.6,170.2 L374.8,169.7 L374.9,169.0 L375.0,168.5 L375.2,167.8 L375.4,167.2 L375.5,166.8 L375.8,166.1 L376.0,165.5 L376.2,165.0 L376.4,164.5 L376.6,164.0 L376.8,163.5 L377.0,163.0 L377.3,162.5 L377.6,162.0 L377.8,161.5 L378.1,161.0 L378.4,160.5 L378.7,160.0 L379.0,159.5 L379.2,159.1 L379.5,158.7 L379.8,158.2 L380.2,157.8 L380.5,157.3 L380.8,157.0 L381.1,156.5 L381.5,156.0 L381.8,155.7 L382.1,155.2 L382.5,154.8 L382.8,154.5 L383.2,154.0 L383.5,153.6 L383.9,153.2 L384.2,152.8 L384.6,152.5 L385.0,152.1 L385.3,151.8 L385.8,151.4 L386.1,151.0 L386.5,150.7 L387.0,150.2 L387.3,150.0 L387.8,149.6 L388.2,149.2 L388.5,149.0 L389.0,148.6 L389.5,148.3 L389.9,148.0 L390.2,147.7 L390.8,147.4 L391.2,147.1 L391.7,146.8 L392.1,146.5 L392.5,146.2 L393.0,146.0 L393.5,145.7 L394.0,145.4 L394.5,145.2 L395.0,144.9 L395.5,144.7 L396.0,144.4 L396.5,144.2 L397.0,144.0 L397.7,143.8 L398.2,143.5 L398.8,143.4 L399.2,143.2 L399.9,143.0 L400.5,142.8 L401.0,142.7 L401.8,142.5 L402.2,142.4 L403.0,142.3 L403.5,142.2 L404.2,142.1 L405.0,142.1 L405.8,142.1 L406.5,142.2 L407.0,142.3 L407.8,142.4 L408.2,142.6 L408.8,142.8 L409.2,143.0 L409.8,143.3 L410.2,143.7 L410.6,144.0 L411.0,144.4 L411.3,144.8 L411.7,145.2 L412.0,145.6 L412.3,146.0 L412.7,146.5 L413.0,146.8 L413.5,147.2 L414.0,147.5 L414.5,147.8 L415.0,147.9 L415.5,148.0 L416.2,148.1 L417.0,148.0 L417.5,148.0 L418.2,147.8 L418.8,147.7 L419.3,147.5 L420.0,147.3 L420.5,147.1 L421.0,146.9 L421.6,146.8 L422.2,146.5 L422.8,146.3 L423.2,146.2 L423.8,146.0 L424.5,145.8 L425.0,145.6 L425.5,145.5 L426.2,145.3 L426.8,145.2 L427.5,145.0 L428.0,144.9 L428.8,144.8 L429.2,144.7 L430.0,144.6 L430.5,144.5 L431.2,144.4 L432.0,144.3 L432.8,144.3 L433.3,144.2 L434.0,144.2 L434.8,144.2 L435.5,144.2 L436.0,144.3 L436.8,144.3 L437.5,144.3 L438.2,144.4 L439.0,144.5 L439.5,144.5 L440.2,144.5 L441.0,144.6 L441.8,144.6 L442.5,144.7 L443.2,144.7 L443.8,144.8 L444.5,144.8 L445.2,144.9 L445.8,145.0 L446.5,145.1 L447.0,145.3 L447.8,145.5 L448.2,145.6 L448.8,145.8 L449.4,146.0 L450.0,146.2 L450.5,146.4 L451.0,146.6 L451.3,147.0 L451.2,147.5 L451.0,148.0 L450.8,148.7 L450.5,149.2 L450.3,149.8 L450.1,150.2 L449.9,150.8 L449.6,151.2 L449.3,151.8 L449.0,152.2 L448.8,152.7 L448.5,153.0 L448.1,153.5 L447.8,153.8 L447.3,154.2 L447.0,154.5 L446.5,154.9 L446.1,155.2 L445.8,155.5 L445.2,155.9 L444.8,156.2 L444.3,156.5 L444.0,156.8 L443.5,157.1 L443.0,157.5 L442.6,157.8 L442.2,158.0 L441.8,158.4 L441.2,158.7 L440.8,159.0 L440.4,159.2 L440.0,159.5 L439.5,159.8 L439.0,160.1 L438.5,160.4 L438.0,160.7 L437.5,160.9 L437.0,161.1 L436.5,161.3 L436.0,161.6 L435.5,161.8 L434.8,162.0 L434.2,162.2 L433.8,162.3 L433.2,162.5 L432.5,162.7 L432.0,162.8 L431.2,162.9 L430.8,163.0 L430.0,163.1 L429.2,163.2 L428.7,163.2 L428.0,163.3 L427.2,163.3 L426.5,163.3 L425.8,163.2 L425.2,163.2 L424.5,163.1 L423.9,163.0 L423.2,162.9 L422.8,162.7 L422.0,162.5 L421.5,162.4 L421.0,162.2 L420.5,162.0 L419.8,161.8 L419.2,161.5 L418.8,161.3 L418.2,161.1 L417.8,160.9 L417.2,160.7 L416.6,160.5 L416.0,160.3 L415.5,160.2 L414.9,160.0 L414.2,159.9 L413.5,159.8 L413.0,159.7 L412.5,159.8 L411.8,159.9 L411.2,160.1 L410.8,160.4 L410.3,160.8 L410.0,161.0 L409.6,161.5 L409.2,161.9 L409.0,162.2 L408.7,162.8 L408.4,163.2 L408.1,163.8 L407.9,164.2 L407.6,164.8 L407.4,165.2 L407.2,165.8 L407.0,166.2 L406.8,166.8 L406.5,167.3 L406.2,167.9 L406.0,168.5 L405.8,169.0 L405.5,169.5 L405.3,170.0 L405.0,170.5 L404.8,170.9 L404.5,171.4 L404.2,171.8 L404.0,172.2 L403.6,172.8 L403.3,173.2 L403.0,173.6 L402.7,174.0 L402.3,174.5 L402.0,174.8 L401.6,175.2 L401.2,175.6 L400.8,176.0 L400.5,176.3 L400.0,176.7 L399.7,177.0 L399.2,177.3 L398.8,177.7 L398.3,178.0 L398.0,178.2 L397.5,178.6 L397.0,178.9 L396.5,179.1 L396.0,179.4 L395.5,179.7 L395.0,179.9 L394.5,180.1 L394.0,180.4 L393.5,180.6 L393.0,180.8 L392.3,181.0 L391.8,181.2 L391.2,181.3 L390.7,181.5 L390.0,181.7 L389.5,181.8 L388.8,182.0 L388.2,182.1 L387.5,182.2 L387.0,182.3 L386.2,182.4 L385.5,182.5 L385.0,182.5ZM387.2,180.5 L386.5,180.6 L385.8,180.6 L385.0,180.6 L384.2,180.6 L383.5,180.6 L383.0,180.5 L382.2,180.4 L381.8,180.2 L381.0,180.0 L380.5,179.8 L380.0,179.5 L379.6,179.2 L379.2,179.0 L378.8,178.6 L378.3,178.2 L378.0,177.9 L377.7,177.5 L377.4,177.0 L377.1,176.5 L376.9,176.0 L376.7,175.5 L376.5,174.8 L376.4,174.2 L376.3,173.5 L376.2,173.0 L376.2,172.2 L376.2,171.5 L376.2,170.9 L376.3,170.2 L376.4,169.5 L376.5,169.0 L376.7,168.2 L376.8,167.8 L377.0,167.0 L377.2,166.5 L377.3,166.0 L377.5,165.5 L377.8,164.9 L378.0,164.3 L378.2,163.8 L378.5,163.2 L378.7,162.8 L379.0,162.2 L379.2,161.8 L379.5,161.3 L379.8,160.8 L380.0,160.4 L380.2,160.0 L380.6,159.5 L380.9,159.0 L381.2,158.5 L381.5,158.1 L381.8,157.8 L382.1,157.2 L382.5,156.8 L382.8,156.5 L383.1,156.0 L383.5,155.6 L383.8,155.2 L384.2,154.8 L384.5,154.5 L384.9,154.0 L385.2,153.7 L385.7,153.2 L386.0,152.9 L386.5,152.5 L386.8,152.2 L387.2,151.8 L387.6,151.5 L388.0,151.2 L388.5,150.8 L388.8,150.5 L389.2,150.2 L389.8,149.8 L390.2,149.5 L390.5,149.2 L391.0,148.9 L391.5,148.6 L392.0,148.3 L392.5,148.0 L392.9,147.8 L393.4,147.5 L393.8,147.2 L394.3,147.0 L394.8,146.8 L395.4,146.5 L395.9,146.2 L396.5,146.0 L397.0,145.8 L397.5,145.6 L398.0,145.4 L398.5,145.2 L399.2,145.0 L399.8,144.8 L400.2,144.7 L400.9,144.5 L401.5,144.3 L402.0,144.2 L402.8,144.1 L403.3,144.0 L404.0,143.9 L404.8,143.9 L405.5,143.9 L406.2,144.0 L406.8,144.1 L407.2,144.3 L407.8,144.6 L408.2,144.9 L408.6,145.2 L409.0,145.8 L409.2,146.2 L409.5,146.7 L409.7,147.2 L410.0,147.8 L410.2,148.2 L410.4,148.8 L410.8,149.2 L411.0,149.5 L411.5,150.0 L411.8,150.2 L412.3,150.5 L412.8,150.8 L413.5,151.0 L414.0,151.1 L414.8,151.2 L415.2,151.3 L415.9,151.2 L416.5,151.2 L417.1,151.0 L417.8,150.8 L418.2,150.6 L418.8,150.3 L419.2,150.1 L419.8,149.9 L420.2,149.6 L420.8,149.4 L421.2,149.2 L421.8,148.9 L422.2,148.7 L422.8,148.5 L423.4,148.2 L424.0,148.0 L424.5,147.9 L425.0,147.7 L425.6,147.5 L426.2,147.3 L426.8,147.2 L427.4,147.0 L428.0,146.8 L428.5,146.7 L429.2,146.6 L429.8,146.5 L430.5,146.4 L431.2,146.3 L431.8,146.2 L432.5,146.2 L433.2,146.1 L434.0,146.1 L434.8,146.1 L435.5,146.2 L436.2,146.2 L436.8,146.3 L437.5,146.4 L438.2,146.5 L438.8,146.6 L439.5,146.7 L440.0,146.8 L440.8,146.9 L441.5,147.0 L442.2,147.0 L442.8,147.0 L443.5,147.0 L444.2,147.1 L444.9,147.2 L445.5,147.4 L446.0,147.7 L446.5,148.0 L446.8,148.3 L447.1,148.8 L447.3,149.2 L447.3,150.0 L447.2,150.5 L447.0,151.2 L446.8,151.6 L446.5,152.0 L446.0,152.5 L445.7,152.8 L445.2,153.1 L444.8,153.5 L444.3,153.8 L443.9,154.0 L443.5,154.3 L443.0,154.7 L442.6,155.0 L442.2,155.3 L441.8,155.7 L441.4,156.0 L441.0,156.3 L440.5,156.7 L440.2,157.0 L439.8,157.3 L439.2,157.7 L438.8,158.0 L438.4,158.2 L438.0,158.5 L437.5,158.8 L437.0,159.1 L436.5,159.3 L436.0,159.5 L435.5,159.8 L434.9,160.0 L434.2,160.2 L433.8,160.4 L433.2,160.6 L432.6,160.8 L432.0,160.9 L431.5,161.0 L430.8,161.2 L430.2,161.3 L429.5,161.4 L428.8,161.4 L428.0,161.5 L427.5,161.5 L426.8,161.5 L426.0,161.5 L425.5,161.5 L424.8,161.4 L424.0,161.3 L423.5,161.1 L422.9,161.0 L422.2,160.8 L421.8,160.6 L421.2,160.4 L420.8,160.2 L420.2,160.0 L419.7,159.8 L419.2,159.5 L418.7,159.2 L418.1,159.0 L417.6,158.8 L417.0,158.5 L416.5,158.2 L416.0,158.0 L415.5,157.8 L415.1,157.5 L414.7,157.2 L414.2,157.0 L413.7,156.8 L413.0,156.5 L412.5,156.5 L411.8,156.5 L411.2,156.6 L410.8,156.8 L410.2,157.1 L409.8,157.4 L409.4,157.8 L409.0,158.2 L408.7,158.5 L408.4,159.0 L408.1,159.5 L407.8,160.0 L407.5,160.5 L407.3,161.0 L407.0,161.5 L406.8,162.0 L406.6,162.5 L406.4,163.0 L406.2,163.5 L406.0,164.0 L405.8,164.7 L405.6,165.2 L405.4,165.8 L405.2,166.2 L405.0,166.8 L404.8,167.4 L404.5,168.0 L404.3,168.5 L404.1,169.0 L403.9,169.5 L403.6,170.0 L403.4,170.5 L403.1,171.0 L402.8,171.5 L402.5,172.0 L402.2,172.4 L402.0,172.8 L401.6,173.2 L401.2,173.7 L401.0,174.0 L400.5,174.5 L400.2,174.8 L399.8,175.2 L399.4,175.5 L399.0,175.9 L398.5,176.2 L398.2,176.5 L397.8,176.8 L397.2,177.1 L396.8,177.4 L396.2,177.7 L395.8,178.0 L395.2,178.2 L394.8,178.5 L394.2,178.7 L393.8,178.9 L393.2,179.1 L392.7,179.2 L392.0,179.5 L391.5,179.6 L391.0,179.8 L390.2,180.0 L389.8,180.1 L389.0,180.2 L388.5,180.3 L387.8,180.4 L387.2,180.5ZM388.5,178.5 L387.8,178.6 L387.0,178.7 L386.2,178.7 L385.5,178.7 L384.8,178.6 L384.0,178.5 L383.5,178.4 L382.8,178.2 L382.2,178.0 L381.8,177.8 L381.2,177.6 L380.8,177.2 L380.5,177.0 L380.0,176.6 L379.7,176.2 L379.3,175.8 L379.0,175.2 L378.8,174.8 L378.6,174.2 L378.4,173.8 L378.2,173.2 L378.1,172.5 L378.1,171.8 L378.0,171.0 L378.1,170.2 L378.1,169.5 L378.2,168.8 L378.3,168.2 L378.5,167.5 L378.6,167.0 L378.8,166.5 L379.0,165.8 L379.2,165.2 L379.4,164.8 L379.6,164.2 L379.8,163.8 L380.0,163.2 L380.3,162.8 L380.5,162.2 L380.8,161.8 L381.1,161.2 L381.4,160.8 L381.7,160.2 L382.0,159.8 L382.2,159.4 L382.5,159.0 L382.9,158.5 L383.2,158.0 L383.5,157.7 L383.8,157.2 L384.2,156.8 L384.5,156.5 L384.9,156.0 L385.2,155.6 L385.6,155.2 L386.0,154.8 L386.3,154.5 L386.8,154.1 L387.1,153.8 L387.5,153.4 L388.0,153.0 L388.3,152.8 L388.8,152.3 L389.2,152.0 L389.5,151.8 L390.0,151.4 L390.5,151.0 L390.9,150.8 L391.3,150.5 L391.8,150.2 L392.2,149.9 L392.8,149.6 L393.2,149.4 L393.8,149.1 L394.2,148.9 L394.8,148.6 L395.2,148.4 L395.8,148.2 L396.2,148.0 L396.9,147.8 L397.5,147.5 L398.0,147.4 L398.5,147.2 L399.1,147.0 L399.8,146.8 L400.2,146.7 L401.0,146.5 L401.5,146.4 L402.0,146.2 L402.8,146.1 L403.2,146.0 L404.0,145.9 L404.8,145.9 L405.4,146.0 L406.0,146.2 L406.3,146.5 L406.6,147.0 L406.8,147.5 L407.0,148.2 L407.0,148.8 L407.1,149.5 L407.2,150.2 L407.3,150.8 L407.4,151.5 L407.5,152.0 L407.6,152.8 L407.6,153.5 L407.5,154.0 L407.3,154.8 L407.1,155.2 L407.0,155.8 L406.8,156.3 L406.5,157.0 L406.3,157.5 L406.1,158.0 L406.0,158.5 L405.8,159.1 L405.5,159.8 L405.4,160.2 L405.2,160.8 L405.0,161.3 L404.8,162.0 L404.6,162.5 L404.4,163.0 L404.2,163.6 L404.1,164.2 L403.9,164.8 L403.7,165.2 L403.5,166.0 L403.3,166.5 L403.2,167.0 L403.0,167.5 L402.8,168.2 L402.5,168.8 L402.3,169.2 L402.1,169.8 L401.9,170.2 L401.6,170.8 L401.3,171.2 L401.0,171.7 L400.8,172.1 L400.4,172.5 L400.0,173.0 L399.8,173.3 L399.3,173.8 L399.0,174.1 L398.5,174.5 L398.2,174.8 L397.8,175.1 L397.2,175.5 L396.8,175.8 L396.4,176.0 L396.0,176.2 L395.5,176.5 L395.0,176.8 L394.4,177.0 L393.8,177.2 L393.2,177.4 L392.8,177.6 L392.2,177.8 L391.5,178.0 L391.0,178.1 L390.2,178.2 L389.8,178.3 L389.0,178.5 L388.5,178.5ZM428.0,159.5 L427.2,159.5 L426.5,159.6 L425.8,159.5 L425.2,159.5 L424.5,159.4 L423.8,159.3 L423.2,159.1 L422.8,158.9 L422.2,158.7 L421.7,158.5 L421.2,158.2 L420.8,158.0 L420.2,157.6 L419.8,157.3 L419.3,157.0 L418.9,156.8 L418.5,156.4 L418.2,156.0 L418.1,155.2 L418.3,154.8 L418.6,154.2 L419.0,153.8 L419.2,153.5 L419.7,153.0 L420.0,152.8 L420.5,152.4 L421.0,152.0 L421.3,151.8 L421.8,151.5 L422.2,151.2 L422.8,150.9 L423.2,150.7 L423.8,150.4 L424.2,150.2 L424.8,150.0 L425.5,149.8 L426.0,149.6 L426.5,149.4 L427.1,149.2 L427.8,149.1 L428.2,148.9 L429.0,148.8 L429.5,148.7 L430.2,148.5 L430.8,148.5 L431.5,148.4 L432.2,148.3 L433.0,148.3 L433.8,148.3 L434.5,148.3 L435.2,148.3 L436.0,148.4 L436.5,148.5 L437.2,148.7 L437.8,148.9 L438.2,149.2 L438.8,149.4 L439.2,149.8 L439.6,150.0 L440.0,150.4 L440.2,150.8 L440.5,151.5 L440.5,151.8 L440.4,152.5 L440.2,153.0 L440.0,153.5 L439.7,154.0 L439.4,154.5 L439.0,154.9 L438.7,155.2 L438.2,155.7 L437.9,156.0 L437.5,156.3 L437.0,156.6 L436.5,156.9 L436.0,157.2 L435.5,157.5 L435.0,157.7 L434.5,157.9 L434.0,158.1 L433.5,158.3 L433.0,158.5 L432.2,158.7 L431.8,158.9 L431.2,159.0 L430.5,159.2 L430.0,159.3 L429.2,159.4 L428.5,159.5 L428.0,159.5ZM389.2,176.5 L388.5,176.6 L387.8,176.6 L387.0,176.6 L386.2,176.6 L385.5,176.5 L385.0,176.5 L384.2,176.3 L383.8,176.1 L383.2,175.9 L382.8,175.6 L382.2,175.3 L381.9,175.0 L381.5,174.6 L381.2,174.2 L380.8,173.8 L380.6,173.2 L380.4,172.8 L380.2,172.2 L380.0,171.5 L380.0,171.0 L379.9,170.2 L379.9,169.5 L380.0,168.8 L380.0,168.2 L380.2,167.5 L380.3,167.0 L380.5,166.2 L380.6,165.8 L380.8,165.2 L381.0,164.7 L381.2,164.1 L381.5,163.5 L381.7,163.0 L382.0,162.5 L382.2,162.0 L382.5,161.6 L382.8,161.2 L383.0,160.7 L383.3,160.2 L383.7,159.8 L384.0,159.3 L384.2,158.9 L384.6,158.5 L385.0,158.0 L385.2,157.7 L385.6,157.2 L386.0,156.8 L386.3,156.5 L386.8,156.0 L387.0,155.8 L387.5,155.3 L387.8,155.0 L388.2,154.6 L388.7,154.2 L389.0,154.0 L389.5,153.6 L389.9,153.2 L390.3,153.0 L390.8,152.7 L391.2,152.4 L391.8,152.0 L392.2,151.8 L392.7,151.5 L393.2,151.2 L393.7,151.0 L394.2,150.8 L394.8,150.5 L395.2,150.3 L395.8,150.2 L396.3,150.0 L397.0,149.8 L397.5,149.7 L398.2,149.5 L398.8,149.4 L399.5,149.4 L400.2,149.3 L401.0,149.3 L401.8,149.4 L402.2,149.6 L402.8,149.9 L403.0,150.2 L403.3,150.8 L403.5,151.2 L403.8,151.9 L403.9,152.5 L404.0,153.0 L404.1,153.8 L404.2,154.5 L404.2,155.2 L404.1,156.0 L404.0,156.8 L403.9,157.2 L403.8,158.0 L403.7,158.5 L403.5,159.2 L403.4,159.8 L403.2,160.5 L403.1,161.0 L403.0,161.5 L402.8,162.2 L402.6,162.8 L402.5,163.2 L402.2,164.0 L402.1,164.5 L402.0,165.0 L401.8,165.7 L401.6,166.2 L401.4,166.8 L401.2,167.3 L401.0,168.0 L400.9,168.5 L400.7,169.0 L400.5,169.5 L400.2,170.0 L400.0,170.5 L399.7,171.0 L399.4,171.5 L399.0,172.0 L398.8,172.3 L398.3,172.8 L398.0,173.1 L397.5,173.5 L397.2,173.8 L396.8,174.1 L396.2,174.4 L395.8,174.7 L395.2,174.9 L394.8,175.2 L394.2,175.4 L393.8,175.5 L393.1,175.8 L392.5,175.9 L392.0,176.0 L391.2,176.2 L390.8,176.3 L390.0,176.4 L389.3,176.5ZM429.8,156.8 L429.0,156.8 L428.2,156.9 L427.5,156.9 L426.8,156.9 L426.0,157.0 L425.2,157.0 L424.5,156.9 L424.0,156.7 L423.5,156.5 L423.0,156.0 L422.8,155.5 L422.7,155.0 L422.9,154.5 L423.2,154.0 L423.5,153.8 L424.0,153.4 L424.5,153.1 L425.0,152.9 L425.5,152.7 L426.0,152.5 L426.6,152.2 L427.2,152.0 L427.8,151.8 L428.2,151.6 L428.8,151.4 L429.5,151.3 L430.0,151.2 L430.8,151.1 L431.5,151.1 L432.2,151.1 L433.0,151.1 L433.8,151.1 L434.5,151.1 L435.2,151.2 L435.8,151.4 L436.2,151.8 L436.5,152.2 L436.6,152.8 L436.4,153.2 L436.1,153.8 L435.8,154.1 L435.2,154.4 L434.8,154.7 L434.2,154.9 L433.8,155.2 L433.2,155.5 L432.8,155.7 L432.2,156.0 L431.8,156.2 L431.2,156.4 L430.8,156.6 L430.0,156.7ZM390.5,174.3 L389.8,174.4 L389.0,174.4 L388.2,174.5 L387.5,174.5 L386.8,174.4 L386.0,174.3 L385.5,174.2 L385.0,174.0 L384.5,173.8 L384.0,173.5 L383.5,173.1 L383.2,172.8 L382.8,172.2 L382.5,171.8 L382.3,171.2 L382.1,170.8 L382.0,170.2 L381.9,169.5 L381.9,168.8 L381.9,168.0 L382.0,167.2 L382.1,166.8 L382.2,166.1 L382.4,165.5 L382.6,165.0 L382.8,164.5 L383.0,163.9 L383.2,163.3 L383.5,162.8 L383.8,162.3 L384.0,161.9 L384.2,161.4 L384.5,161.0 L384.9,160.5 L385.2,160.0 L385.5,159.6 L385.8,159.2 L386.2,158.8 L386.5,158.4 L386.8,158.0 L387.2,157.5 L387.5,157.2 L388.0,156.8 L388.3,156.5 L388.8,156.1 L389.1,155.8 L389.5,155.5 L390.0,155.1 L390.5,154.8 L390.8,154.5 L391.2,154.2 L391.8,153.9 L392.2,153.6 L392.8,153.4 L393.2,153.1 L393.8,152.9 L394.2,152.7 L394.9,152.5 L395.5,152.3 L396.0,152.2 L396.8,152.1 L397.5,152.1 L398.2,152.2 L398.8,152.3 L399.4,152.5 L399.8,152.8 L400.2,153.1 L400.6,153.5 L401.0,154.0 L401.2,154.5 L401.4,155.0 L401.5,155.5 L401.6,156.2 L401.7,157.0 L401.6,157.8 L401.6,158.5 L401.5,159.2 L401.4,159.8 L401.3,160.5 L401.1,161.0 L401.0,161.6 L400.8,162.2 L400.7,162.8 L400.5,163.3 L400.3,164.0 L400.1,164.5 L400.0,165.0 L399.8,165.7 L399.6,166.2 L399.4,166.8 L399.2,167.4 L399.1,168.0 L398.9,168.5 L398.7,169.0 L398.5,169.5 L398.2,170.1 L398.0,170.5 L397.7,171.0 L397.3,171.5 L397.0,171.8 L396.5,172.2 L396.2,172.5 L395.8,172.8 L395.2,173.0 L394.8,173.3 L394.1,173.5 L393.5,173.7 L393.0,173.8 L392.2,174.0 L391.8,174.1 L391.0,174.2 L390.5,174.3ZM389.8,172.0 L389.0,172.1 L388.2,172.1 L387.5,172.0 L387.0,171.9 L386.5,171.8 L385.9,171.5 L385.5,171.2 L385.0,170.8 L384.7,170.5 L384.4,170.0 L384.2,169.5 L384.0,168.8 L383.9,168.2 L383.9,167.5 L384.0,166.8 L384.0,166.2 L384.2,165.5 L384.3,165.0 L384.5,164.5 L384.8,163.9 L385.0,163.3 L385.2,162.8 L385.5,162.3 L385.8,161.9 L386.0,161.5 L386.3,161.0 L386.7,160.5 L387.0,160.0 L387.2,159.7 L387.7,159.2 L388.0,158.9 L388.4,158.5 L388.8,158.1 L389.1,157.8 L389.5,157.4 L390.0,157.0 L390.4,156.8 L390.8,156.5 L391.2,156.2 L391.8,155.9 L392.2,155.6 L392.8,155.3 L393.2,155.1 L393.8,155.0 L394.5,154.8 L395.0,154.7 L395.8,154.6 L396.5,154.7 L397.0,154.8 L397.6,155.0 L398.0,155.3 L398.5,155.8 L398.8,156.1 L399.0,156.6 L399.2,157.2 L399.3,157.8 L399.4,158.5 L399.4,159.2 L399.3,160.0 L399.2,160.5 L399.1,161.2 L399.0,161.8 L398.8,162.5 L398.6,163.0 L398.4,163.5 L398.2,164.0 L398.0,164.6 L397.8,165.2 L397.5,165.8 L397.3,166.2 L397.1,166.8 L396.9,167.2 L396.7,167.8 L396.4,168.2 L396.2,168.8 L395.9,169.2 L395.5,169.8 L395.2,170.0 L394.8,170.5 L394.3,170.8 L393.8,171.0 L393.2,171.2 L392.8,171.3 L392.2,171.5 L391.5,171.7 L391.0,171.8 L390.2,171.9 L389.8,172.0ZM390.2,169.3 L389.5,169.4 L388.8,169.4 L388.0,169.3 L387.5,169.1 L387.1,168.8 L386.8,168.4 L386.5,168.0 L386.2,167.4 L386.1,166.8 L386.1,166.0 L386.2,165.2 L386.3,164.8 L386.5,164.2 L386.8,163.5 L387.0,163.0 L387.2,162.5 L387.5,162.1 L387.8,161.7 L388.1,161.2 L388.5,160.8 L388.8,160.4 L389.1,160.0 L389.5,159.6 L389.9,159.2 L390.2,158.9 L390.8,158.6 L391.2,158.2 L391.6,158.0 L392.1,157.8 L392.7,157.5 L393.2,157.3 L393.8,157.2 L394.5,157.1 L395.2,157.2 L395.8,157.4 L396.2,157.8 L396.5,158.1 L396.8,158.5 L397.0,159.2 L397.0,159.8 L397.0,160.5 L397.0,161.0 L396.9,161.8 L396.7,162.2 L396.5,162.9 L396.3,163.5 L396.0,164.0 L395.8,164.5 L395.5,165.0 L395.2,165.4 L395.0,165.8 L394.7,166.2 L394.3,166.8 L394.0,167.1 L393.6,167.5 L393.2,167.8 L392.8,168.2 L392.2,168.5 L391.8,168.8 L391.2,169.0 L390.8,169.2 L390.2,169.3ZM390.8,166.3 L390.0,166.3 L389.5,166.2 L389.0,165.8 L388.8,165.3 L388.7,164.8 L388.8,164.2 L389.0,163.5 L389.2,163.0 L389.5,162.5 L389.8,162.1 L390.0,161.8 L390.5,161.2 L390.8,161.0 L391.2,160.6 L391.8,160.3 L392.2,160.1 L392.9,160.0 L393.2,160.0 L393.9,160.2 L394.2,160.8 L394.4,161.2 L394.4,162.0 L394.2,162.5 L394.0,163.2 L393.8,163.7 L393.5,164.1 L393.2,164.5 L392.8,165.0 L392.5,165.2 L392.0,165.6 L391.5,165.9 L391.0,166.2Z" stroke="#000" stroke-width="0.95" fill="none"/>
<text transform="translate(64.79,191.20) scale(1.0187,1)" font-family="Liberation Serif" font-size="10.15" fill="#222" stroke="#222" stroke-width="0.22" xml:space="preserve">69%</text>
<text transform="translate(129.92,168.30) scale(0.9692,1)" font-family="Liberation Serif" font-size="9.85" fill="#222" stroke="#222" stroke-width="0.22" xml:space="preserve">22%</text>
<text transform="translate(229.58,191.80) scale(1.0202,1)" font-family="Liberation Serif" font-size="10.30" fill="#222" stroke="#222" stroke-width="0.22" xml:space="preserve">69%</text>
<text transform="translate(291.50,171.50) scale(1.0212,1)" font-family="Liberation Serif" font-size="9.85" fill="#222" stroke="#222" stroke-width="0.22" xml:space="preserve">20%</text>
<text transform="translate(393.38,191.80) scale(1.1012,1)" font-family="Liberation Serif" font-size="9.55" fill="#222" stroke="#222" stroke-width="0.22" xml:space="preserve">69%</text>
<text transform="translate(454.66,171.80) scale(1.0792,1)" font-family="Liberation Serif" font-size="9.70" fill="#222" stroke="#222" stroke-width="0.22" xml:space="preserve">19%</text>
<path d="M83.6,309.1H509.6M8.5,352.4H509.6M8.5,424.4H509.6M8.5,494.9H512.1M8.5,565.4H509.6M8.5,352.4V565.4M83.6,309.1V565.4M296.0,309.1V565.4M509.6,309.1V565.4" stroke="#000" stroke-width="1.6" fill="none" stroke-linecap="square"/>
<text transform="translate(237.04,302.90) scale(0.9087,1)" font-family="Liberation Serif" font-size="17.23" fill="#000" stroke="#000" stroke-width="0.22" xml:space="preserve">TRITC-positive DC</text>
<text transform="translate(160.48,335.00) scale(0.9144,1)" font-family="Liberation Serif" font-size="17.69" fill="#000" stroke="#000" stroke-width="0.22" xml:space="preserve">DEC-205</text>
<text transform="translate(375.88,333.80) scale(0.9239,1)" font-family="Liberation Serif" font-size="17.54" fill="#000" stroke="#000" stroke-width="0.22" xml:space="preserve">Langerin</text>
<text transform="translate(23.53,391.50) scale(0.9031,1)" font-family="Liberation Serif" font-size="17.54" fill="#000" stroke="#000" stroke-width="0.22" xml:space="preserve">1 Day</text>
<text transform="translate(19.94,534.90) scale(0.9359,1)" font-family="Liberation Serif" font-size="17.54" fill="#000" stroke="#000" stroke-width="0.22" xml:space="preserve">4 Days</text>
<text transform="translate(23.16,462.60) scale(0.8300,1)" font-family="Liberation Serif" font-size="16.18" fill="#000" stroke="#000" stroke-width="0.22" xml:space="preserve">3</text>
<text transform="translate(37.23,462.60) scale(0.8300,1)" font-family="Liberation Serif" font-size="16.18" fill="#000" stroke="#000" stroke-width="0.22" xml:space="preserve">D</text>
<text transform="translate(47.56,462.60) scale(0.9000,1)" font-family="Liberation Serif" font-size="16.18" fill="#000" stroke="#000" stroke-width="0.22" xml:space="preserve">a</text>
<text transform="translate(54.64,462.60) scale(0.9800,1)" font-family="Liberation Serif" font-size="16.18" fill="#000" stroke="#000" stroke-width="0.22" xml:space="preserve">y</text>
<text transform="translate(64.70,462.60) scale(0.9200,1)" font-family="Liberation Serif" font-size="16.18" fill="#000" stroke="#000" stroke-width="0.22" xml:space="preserve">s</text>
<path d="M83.6,423.0H509.6M83.6,494.0H509.6M83.6,564.5H509.6" stroke="#000" stroke-width="1.5" fill="none"/>
<path d="M84.00,423.00 L84.80,423.00 L85.60,423.00 L86.40,423.00 L87.20,423.00 L88.00,423.00 L88.80,423.00 L89.60,423.00 L90.40,423.00 L91.20,423.00 L92.00,423.00 L92.80,423.00 L93.60,423.00 L94.40,423.00 L95.20,423.00 L96.00,423.00 L96.80,423.00 L97.60,423.00 L98.40,423.00 L99.20,423.00 L100.00,423.00 L100.80,423.00 L101.60,423.00 L102.40,423.00 L103.20,423.00 L104.00,423.00 L104.80,423.00 L105.60,423.00 L106.40,423.00 L107.20,423.00 L108.00,423.00 L108.80,423.00 L109.60,423.00 L110.40,423.00 L111.20,423.00 L112.00,423.00 L112.80,423.00 L113.60,423.00 L114.40,423.00 L115.20,423.00 L116.00,423.00 L116.80,423.00 L117.60,423.00 L118.40,423.00 L119.20,423.00 L120.00,423.00 L120.80,423.00 L121.60,423.00 L122.40,423.00 L123.20,423.00 L124.00,423.00 L124.80,423.00 L125.60,423.00 L126.40,423.00 L127.20,423.00 L128.00,423.00 L128.80,423.00 L129.60,423.00 L130.40,423.00 L131.20,423.00 L132.00,423.00 L132.83,421.27 L133.67,422.42 L134.50,420.24 L135.33,421.00 L136.17,419.13 L137.00,419.00 L137.83,419.15 L138.67,417.38 L139.50,418.23 L140.33,416.07 L141.17,417.21 L142.00,416.00 L142.80,413.61 L143.60,415.50 L144.40,409.87 L145.20,411.88 L146.00,410.00 L146.80,407.12 L147.60,409.33 L148.40,404.76 L149.20,409.98 L150.00,406.00 L150.75,402.88 L151.50,403.56 L152.25,398.24 L153.00,398.00 L153.75,400.88 L154.50,394.02 L155.25,395.89 L156.00,393.00 L156.83,388.26 L157.67,391.59 L158.50,388.00 L159.33,382.24 L160.17,384.62 L161.00,376.00 L162.00,371.40 L163.00,372.00 L164.00,374.25 L165.00,366.00 L166.00,359.49 L167.00,359.00 L168.00,369.19 L169.00,366.00 L170.00,358.85 L171.00,362.00 L171.83,365.27 L172.67,348.77 L173.50,353.60 L174.25,365.00 L175.00,366.00 L176.00,360.27 L177.00,368.00 L178.00,372.99 L179.00,372.00 L180.00,365.35 L181.00,376.00 L182.00,388.26 L183.00,387.00 L184.00,385.93 L185.00,390.00 L185.75,396.16 L186.50,388.25 L187.25,400.24 L188.00,396.00 L188.75,394.04 L189.50,398.48 L190.25,392.47 L191.00,398.00 L192.00,401.66 L193.00,400.00 L193.75,400.32 L194.50,406.24 L195.25,400.96 L196.00,406.00 L196.80,409.77 L197.60,404.34 L198.40,408.55 L199.20,407.03 L200.00,409.00 L200.80,410.89 L201.60,407.73 L202.40,412.53 L203.20,411.12 L204.00,413.00 L204.75,415.04 L205.50,411.52 L206.25,416.87 L207.00,414.70 L207.80,412.87 L208.60,416.93 L209.40,414.02 L210.20,417.82 L211.00,417.00 L211.80,416.02 L212.60,418.86 L213.40,416.18 L214.20,419.29 L215.00,418.00 L215.83,416.69 L216.67,419.97 L217.50,418.31 L218.33,420.54 L219.17,418.16 L220.00,420.00 L220.83,421.32 L221.67,419.35 L222.50,421.67 L223.33,419.14 L224.17,421.61 L225.00,421.00 L225.80,419.82 L226.60,422.59 L227.40,421.00 L228.20,422.13 L229.00,422.00 L229.75,421.74 L230.50,422.80 L231.25,422.75 L232.00,423.00 L232.80,423.00 L233.59,423.00 L234.39,423.00 L235.19,423.00 L235.99,423.00 L236.78,423.00 L237.58,423.00 L238.38,423.00 L239.18,423.00 L239.97,423.00 L240.77,423.00 L241.57,423.00 L242.37,423.00 L243.16,423.00 L243.96,423.00 L244.76,423.00 L245.56,423.00 L246.35,423.00 L247.15,423.00 L247.95,423.00 L248.75,423.00 L249.54,423.00 L250.34,423.00 L251.14,423.00 L251.94,423.00 L252.73,423.00 L253.53,423.00 L254.33,423.00 L255.13,423.00 L255.92,423.00 L256.72,423.00 L257.52,423.00 L258.32,423.00 L259.11,423.00 L259.91,423.00 L260.71,423.00 L261.51,423.00 L262.30,423.00 L263.10,423.00 L263.90,423.00 L264.70,423.00 L265.49,423.00 L266.29,423.00 L267.09,423.00 L267.89,423.00 L268.68,423.00 L269.48,423.00 L270.28,423.00 L271.08,423.00 L271.87,423.00 L272.67,423.00 L273.47,423.00 L274.27,423.00 L275.06,423.00 L275.86,423.00 L276.66,423.00 L277.46,423.00 L278.25,423.00 L279.05,423.00 L279.85,423.00 L280.65,423.00 L281.44,423.00 L282.24,423.00 L283.04,423.00 L283.84,423.00 L284.63,423.00 L285.43,423.00 L286.23,423.00 L287.03,423.00 L287.82,423.00 L288.62,423.00 L289.42,423.00 L290.22,423.00 L291.01,423.00 L291.81,423.00 L292.61,423.00 L293.41,423.00 L294.20,423.00 L295.00,423.00" stroke="#000" stroke-width="1.85" fill="none" stroke-linejoin="miter" stroke-miterlimit="3"/>
<path d="M125.00,423.00 L125.88,421.91 L126.75,422.40 L127.62,421.25 L128.50,421.27 L129.38,419.50 L130.25,420.77 L131.12,418.43 L132.00,419.00 L133.00,417.99 L134.00,414.24 L135.00,415.12 L136.00,412.00 L137.00,408.27 L138.00,408.28 L139.00,404.54 L140.00,403.00 L140.83,402.77 L141.67,396.47 L142.50,398.50 L143.33,391.53 L144.17,392.30 L145.00,388.00 L145.83,383.72 L146.67,385.37 L147.50,379.22 L148.33,381.25 L149.17,373.82 L150.00,373.00 L150.83,376.80 L151.67,365.95 L152.50,373.72 L153.33,361.24 L154.17,371.36 L155.00,364.00 L156.00,358.69 L157.00,362.88 L158.00,357.00 L158.83,350.88 L159.67,357.70 L160.50,356.00 L161.33,352.22 L162.17,364.61 L163.00,359.00 L164.00,353.59 L165.00,355.00 L166.00,364.17 L167.00,360.00 L168.00,359.72 L169.00,368.00 L170.00,374.74 L171.00,378.00 L172.00,381.69 L173.00,389.00 L174.00,394.98 L175.00,397.49 L176.00,403.00 L177.00,407.94 L178.00,407.14 L179.00,412.00 L180.00,415.73 L181.00,415.35 L182.00,419.00 L183.00,421.62 L184.00,423.00" stroke="#000" stroke-width="1.3" fill="none" stroke-dasharray="4 2.2"/>
<path d="M297.00,423.00 L297.80,423.00 L298.59,423.00 L299.39,423.00 L300.19,423.00 L300.98,423.00 L301.78,423.00 L302.57,423.00 L303.37,423.00 L304.17,423.00 L304.96,423.00 L305.76,423.00 L306.56,423.00 L307.35,423.00 L308.15,423.00 L308.94,423.00 L309.74,423.00 L310.54,423.00 L311.33,423.00 L312.13,423.00 L312.93,423.00 L313.72,423.00 L314.52,423.00 L315.31,423.00 L316.11,423.00 L316.91,423.00 L317.70,423.00 L318.50,423.00 L319.30,423.00 L320.09,423.00 L320.89,423.00 L321.69,423.00 L322.48,423.00 L323.28,423.00 L324.07,423.00 L324.87,423.00 L325.67,423.00 L326.46,423.00 L327.26,423.00 L328.06,423.00 L328.85,423.00 L329.65,423.00 L330.44,423.00 L331.24,423.00 L332.04,423.00 L332.83,423.00 L333.63,423.00 L334.43,423.00 L335.22,423.00 L336.02,423.00 L336.81,423.00 L337.61,423.00 L338.41,423.00 L339.20,423.00 L340.00,423.00 L340.77,422.96 L341.55,422.93 L342.32,422.89 L343.10,422.85 L343.88,422.81 L344.65,422.77 L345.43,422.74 L346.20,422.70 L347.04,421.03 L347.88,422.68 L348.71,420.56 L349.55,421.92 L350.39,419.36 L351.22,420.01 L352.06,418.47 L352.90,418.60 L353.70,418.69 L354.50,415.11 L355.30,416.00 L356.10,413.66 L356.90,413.30 L357.72,413.23 L358.54,409.33 L359.36,411.10 L360.18,407.05 L361.00,406.50 L361.80,405.81 L362.60,401.60 L363.40,405.29 L364.20,397.98 L365.00,398.50 L365.90,399.16 L366.80,391.50 L367.70,391.70 L368.60,393.86 L369.50,381.24 L370.40,383.60 L371.30,384.53 L372.20,369.81 L373.10,372.90 L374.00,372.71 L374.90,357.32 L375.80,360.80 L376.80,362.53 L377.80,353.60 L378.70,347.73 L379.60,361.78 L380.50,362.10 L381.40,357.41 L382.30,370.61 L383.20,364.80 L384.20,367.56 L385.20,376.90 L386.10,382.75 L387.00,378.25 L387.90,383.60 L388.90,392.60 L389.90,397.10 L390.90,397.61 L391.90,403.80 L392.80,409.60 L393.70,407.19 L394.60,411.90 L395.40,414.99 L396.20,411.40 L397.00,415.49 L397.80,414.29 L398.60,416.00 L399.48,418.13 L400.36,416.43 L401.24,418.81 L402.12,417.05 L403.00,419.00 L403.78,419.93 L404.56,417.93 L405.33,420.37 L406.11,418.33 L406.89,420.36 L407.67,418.54 L408.44,420.13 L409.22,418.37 L410.00,420.00 L410.83,420.61 L411.67,419.50 L412.50,421.68 L413.33,419.86 L414.17,421.70 L415.00,419.11 L415.83,420.96 L416.67,419.94 L417.50,421.18 L418.33,419.62 L419.17,421.22 L420.00,421.00 L420.83,420.32 L421.67,422.32 L422.50,420.87 L423.33,421.91 L424.17,420.29 L425.00,422.79 L425.83,421.00 L426.67,422.37 L427.50,420.52 L428.33,422.69 L429.17,420.81 L430.00,422.00 L430.75,423.00 L431.50,421.20 L432.25,423.00 L433.00,421.55 L433.75,423.00 L434.50,422.75 L435.25,422.88 L436.00,423.00 L436.80,423.00 L437.60,423.00 L438.40,423.00 L439.20,423.00 L440.00,423.00 L440.80,423.00 L441.60,423.00 L442.40,423.00 L443.20,423.00 L444.00,423.00 L444.80,423.00 L445.60,423.00 L446.40,423.00 L447.20,423.00 L448.00,423.00 L448.80,423.00 L449.60,423.00 L450.40,423.00 L451.20,423.00 L452.00,423.00 L452.80,423.00 L453.60,423.00 L454.40,423.00 L455.20,423.00 L456.00,423.00 L456.80,423.00 L457.60,423.00 L458.40,423.00 L459.20,423.00 L460.00,423.00 L460.80,423.00 L461.60,423.00 L462.40,423.00 L463.20,423.00 L464.00,423.00 L464.80,423.00 L465.60,423.00 L466.40,423.00 L467.20,423.00 L468.00,423.00 L468.80,423.00 L469.60,423.00 L470.40,423.00 L471.20,423.00 L472.00,423.00 L472.80,423.00 L473.60,423.00 L474.40,423.00 L475.20,423.00 L476.00,423.00 L476.80,423.00 L477.60,423.00 L478.40,423.00 L479.20,423.00 L480.00,423.00 L480.80,423.00 L481.60,423.00 L482.40,423.00 L483.20,423.00 L484.00,423.00 L484.80,423.00 L485.60,423.00 L486.40,423.00 L487.20,423.00 L488.00,423.00 L488.80,423.00 L489.60,423.00 L490.40,423.00 L491.20,423.00 L492.00,423.00 L492.80,423.00 L493.60,423.00 L494.40,423.00 L495.20,423.00 L496.00,423.00 L496.80,423.00 L497.60,423.00 L498.40,423.00 L499.20,423.00 L500.00,423.00 L500.80,423.00 L501.60,423.00 L502.40,423.00 L503.20,423.00 L504.00,423.00 L504.80,423.00 L505.60,423.00 L506.40,423.00 L507.20,423.00 L508.00,423.00" stroke="#000" stroke-width="1.85" fill="none" stroke-linejoin="miter" stroke-miterlimit="3"/>
<path d="M330.00,423.00 L330.90,422.81 L331.80,422.33 L332.70,422.82 L333.60,421.67 L334.50,422.81 L335.40,421.47 L336.30,422.22 L337.20,420.97 L338.10,421.30 L339.06,420.77 L340.01,419.44 L340.97,420.19 L341.93,417.35 L342.89,418.35 L343.84,416.32 L344.80,416.00 L345.70,415.23 L346.60,411.86 L347.50,412.43 L348.40,408.25 L349.30,408.55 L350.20,406.50 L351.14,402.32 L352.08,403.33 L353.02,398.92 L353.96,401.06 L354.90,397.10 L355.90,390.75 L356.90,392.95 L357.90,386.29 L358.90,385.00 L359.72,386.51 L360.54,378.51 L361.36,383.97 L362.18,376.46 L363.00,375.60 L363.82,376.15 L364.65,366.97 L365.48,375.07 L366.30,367.50 L367.15,362.90 L368.00,367.80 L368.85,356.65 L369.70,358.10 L370.55,358.94 L371.40,352.96 L372.25,361.22 L373.10,355.40 L374.10,350.07 L375.10,361.12 L376.10,353.49 L377.10,358.10 L378.00,365.33 L378.90,364.11 L379.80,370.20 L380.70,376.06 L381.60,373.70 L382.50,379.60 L383.40,385.90 L384.30,384.20 L385.20,390.40 L386.10,396.92 L387.00,397.21 L387.90,403.80 L388.90,408.46 L389.90,408.86 L390.90,413.67 L391.90,416.00 L392.90,418.09 L393.90,421.30 L394.95,422.95 L396.00,423.00" stroke="#000" stroke-width="1.3" fill="none" stroke-dasharray="4 2.2"/>
<path d="M84.00,494.00 L84.79,494.00 L85.59,494.00 L86.38,494.00 L87.17,494.00 L87.97,494.00 L88.76,494.00 L89.55,494.00 L90.34,494.00 L91.14,494.00 L91.93,494.00 L92.72,494.00 L93.52,494.00 L94.31,494.00 L95.10,494.00 L95.90,494.00 L96.69,494.00 L97.48,494.00 L98.28,494.00 L99.07,494.00 L99.86,494.00 L100.66,494.00 L101.45,494.00 L102.24,494.00 L103.03,494.00 L103.83,494.00 L104.62,494.00 L105.41,494.00 L106.21,494.00 L107.00,494.00 L107.79,494.00 L108.59,494.00 L109.38,494.00 L110.17,494.00 L110.97,494.00 L111.76,494.00 L112.55,494.00 L113.34,494.00 L114.14,494.00 L114.93,494.00 L115.72,494.00 L116.52,494.00 L117.31,494.00 L118.10,494.00 L118.90,494.00 L119.69,494.00 L120.48,494.00 L121.28,494.00 L122.07,494.00 L122.86,494.00 L123.66,494.00 L124.45,494.00 L125.24,494.00 L126.03,494.00 L126.83,494.00 L127.62,494.00 L128.41,494.00 L129.21,494.00 L130.00,494.00 L130.83,493.86 L131.67,493.71 L132.50,492.51 L133.33,494.00 L134.17,492.25 L135.00,493.79 L135.83,492.46 L136.67,493.71 L137.50,492.70 L138.31,491.50 L139.12,493.38 L139.93,490.71 L140.74,492.46 L141.55,490.31 L142.36,491.73 L143.17,488.95 L143.98,490.73 L144.79,489.25 L145.60,489.30 L146.50,490.79 L147.40,490.45 L148.30,492.70 L149.10,491.08 L149.90,487.28 L150.70,487.47 L151.50,481.83 L152.30,481.20 L153.10,481.21 L153.90,478.35 L154.70,481.44 L155.50,475.37 L156.30,477.20 L157.20,479.48 L158.10,472.98 L159.00,475.80 L159.90,475.17 L160.80,467.58 L161.70,469.10 L162.60,470.78 L163.50,464.46 L164.40,465.10 L165.40,464.89 L166.40,458.30 L167.10,451.44 L167.80,457.27 L168.50,453.00 L169.37,448.94 L170.23,456.94 L171.10,448.90 L172.00,444.24 L172.90,448.62 L173.80,444.90 L174.50,448.61 L175.20,457.00 L176.20,446.85 L177.20,425.50 L178.20,426.37 L179.20,439.50 L180.10,443.77 L181.00,421.34 L181.90,426.00 L182.80,437.13 L183.70,426.26 L184.60,435.50 L185.50,442.26 L186.40,428.03 L187.30,428.70 L188.15,448.67 L189.00,452.80 L189.70,430.45 L190.40,425.50 L191.18,431.77 L191.95,418.99 L192.72,434.65 L193.50,428.20 L194.25,426.60 L195.00,443.50 L195.77,443.04 L196.53,426.10 L197.30,431.20 L198.05,447.51 L198.80,454.30 L199.60,439.37 L200.40,438.90 L201.18,448.93 L201.95,435.19 L202.72,447.65 L203.50,445.10 L204.25,446.74 L205.00,455.80 L205.78,458.58 L206.55,444.10 L207.32,453.30 L208.10,446.60 L208.87,448.33 L209.63,461.50 L210.40,466.60 L211.18,460.12 L211.95,464.75 L212.72,458.50 L213.50,458.90 L214.27,465.87 L215.03,461.11 L215.80,468.20 L216.57,466.27 L217.33,456.91 L218.10,458.90 L218.87,466.28 L219.63,462.93 L220.40,469.70 L221.17,474.57 L221.93,469.68 L222.70,474.30 L223.47,478.18 L224.23,475.90 L225.00,480.50 L225.78,483.52 L226.55,480.96 L227.32,484.69 L228.10,483.50 L228.88,483.73 L229.65,486.36 L230.42,485.75 L231.20,488.20 L231.95,490.75 L232.70,488.00 L233.45,491.19 L234.20,491.20 L234.98,489.13 L235.76,489.17 L236.54,485.68 L237.32,488.42 L238.10,485.10 L238.87,487.01 L239.63,491.22 L240.40,492.80 L241.16,492.19 L241.93,493.99 L242.69,492.73 L243.45,494.00 L244.21,492.21 L244.97,494.00 L245.74,492.55 L246.50,493.50 L247.32,494.00 L248.13,492.77 L248.95,493.89 L249.76,493.28 L250.58,494.00 L251.39,493.20 L252.21,494.00 L253.03,493.71 L253.84,493.74 L254.66,493.76 L255.47,493.79 L256.29,493.82 L257.11,493.84 L257.92,493.87 L258.74,493.89 L259.55,493.92 L260.37,493.95 L261.18,493.97 L262.00,494.00 L262.80,494.00 L263.61,494.00 L264.41,494.00 L265.22,494.00 L266.02,494.00 L266.83,494.00 L267.63,494.00 L268.44,494.00 L269.24,494.00 L270.05,494.00 L270.85,494.00 L271.66,494.00 L272.46,494.00 L273.27,494.00 L274.07,494.00 L274.88,494.00 L275.68,494.00 L276.49,494.00 L277.29,494.00 L278.10,494.00 L278.90,494.00 L279.71,494.00 L280.51,494.00 L281.32,494.00 L282.12,494.00 L282.93,494.00 L283.73,494.00 L284.54,494.00 L285.34,494.00 L286.15,494.00 L286.95,494.00 L287.76,494.00 L288.56,494.00 L289.37,494.00 L290.17,494.00 L290.98,494.00 L291.78,494.00 L292.59,494.00 L293.39,494.00 L294.20,494.00 L295.00,494.00" stroke="#000" stroke-width="1.85" fill="none" stroke-linejoin="miter" stroke-miterlimit="3"/>
<path d="M120.00,494.00 L120.96,493.90 L121.91,493.80 L122.87,492.96 L123.83,494.00 L124.79,493.12 L125.74,493.77 L126.70,493.30 L127.60,492.32 L128.50,492.81 L129.40,491.10 L130.30,491.52 L131.20,489.98 L132.10,490.59 L133.00,487.96 L133.90,489.63 L134.80,488.00 L135.70,485.18 L136.60,485.26 L137.50,481.65 L138.40,483.26 L139.30,479.52 L140.20,478.50 L141.20,477.37 L142.20,472.08 L143.20,473.18 L144.20,469.10 L145.05,467.15 L145.90,468.56 L146.75,463.42 L147.60,465.10 L148.45,465.08 L149.30,459.80 L150.15,463.39 L151.00,458.00 L152.00,451.17 L153.00,449.00 L153.90,450.36 L154.80,443.55 L155.70,447.00 L156.52,447.10 L157.35,439.74 L158.18,444.97 L159.00,442.00 L159.90,436.24 L160.80,441.09 L161.70,437.00 L162.40,429.25 L163.10,425.50 L163.93,431.19 L164.75,428.85 L165.57,443.22 L166.40,442.20 L167.25,438.39 L168.10,446.25 L168.95,444.01 L169.80,447.60 L170.70,455.24 L171.60,455.28 L172.50,462.40 L173.50,466.50 L174.50,466.82 L175.50,472.00 L176.50,473.10 L177.40,474.02 L178.30,479.06 L179.20,481.20 L180.02,480.85 L180.84,484.82 L181.66,484.19 L182.48,487.18 L183.30,488.00 L184.30,488.35 L185.30,491.01 L186.30,490.45 L187.30,492.00 L188.20,493.21 L189.10,492.51 L190.00,494.00" stroke="#000" stroke-width="1.3" fill="none" stroke-dasharray="4 2.2"/>
<path d="M297.00,494.00 L297.79,494.00 L298.58,494.00 L299.38,494.00 L300.17,494.00 L300.96,494.00 L301.75,494.00 L302.54,494.00 L303.33,494.00 L304.12,494.00 L304.92,494.00 L305.71,494.00 L306.50,494.00 L307.29,494.00 L308.08,494.00 L308.88,494.00 L309.67,494.00 L310.46,494.00 L311.25,494.00 L312.04,494.00 L312.83,494.00 L313.62,494.00 L314.42,494.00 L315.21,494.00 L316.00,494.00 L316.79,494.00 L317.58,494.00 L318.38,494.00 L319.17,494.00 L319.96,494.00 L320.75,494.00 L321.54,494.00 L322.33,494.00 L323.12,494.00 L323.92,494.00 L324.71,494.00 L325.50,494.00 L326.29,494.00 L327.08,494.00 L327.88,494.00 L328.67,494.00 L329.46,494.00 L330.25,494.00 L331.04,494.00 L331.83,494.00 L332.62,494.00 L333.42,494.00 L334.21,494.00 L335.00,494.00 L335.80,493.86 L336.60,493.72 L337.40,492.58 L338.20,493.93 L339.00,493.30 L339.76,491.86 L340.51,493.99 L341.27,492.07 L342.02,493.45 L342.78,491.16 L343.53,492.53 L344.29,489.99 L345.04,491.79 L345.80,490.60 L346.60,488.49 L347.40,490.40 L348.20,487.18 L349.00,490.53 L349.80,488.00 L350.60,485.07 L351.40,487.30 L352.20,484.88 L353.00,487.28 L353.80,483.90 L354.65,479.90 L355.50,482.80 L356.35,479.63 L357.20,479.90 L358.05,480.14 L358.90,475.97 L359.75,476.85 L360.60,474.50 L361.50,470.56 L362.40,473.02 L363.30,469.10 L364.20,466.07 L365.10,473.73 L366.00,470.50 L367.00,461.29 L368.00,455.60 L369.00,461.13 L370.00,448.90 L370.65,432.85 L371.30,430.10 L372.00,446.97 L372.70,434.71 L373.40,442.20 L374.40,436.83 L375.40,426.00 L376.40,416.04 L377.40,425.50 L378.40,441.43 L379.40,434.10 L380.40,424.13 L381.40,426.00 L382.10,439.12 L382.80,430.38 L383.50,448.90 L384.50,450.78 L385.50,432.80 L386.15,432.91 L386.80,448.90 L387.80,464.20 L388.80,467.80 L389.50,459.50 L390.20,467.69 L390.90,462.40 L391.90,467.36 L392.90,478.50 L393.80,480.78 L394.70,477.84 L395.60,479.90 L396.50,484.05 L397.40,478.36 L398.30,482.60 L399.20,485.88 L400.10,482.02 L401.00,485.30 L401.87,488.07 L402.73,485.31 L403.60,486.50 L404.40,486.66 L405.20,483.70 L406.00,483.50 L406.88,485.56 L407.76,480.68 L408.64,485.86 L409.52,480.76 L410.40,483.80 L411.17,486.70 L411.93,481.88 L412.70,485.70 L413.47,480.86 L414.23,485.15 L415.00,481.50 L415.77,479.78 L416.55,483.05 L417.32,479.77 L418.10,484.29 L418.88,479.61 L419.65,482.60 L420.43,480.24 L421.20,481.50 L422.04,483.90 L422.87,477.99 L423.71,485.10 L424.55,480.48 L425.38,484.39 L426.22,478.90 L427.05,485.19 L427.89,478.69 L428.73,483.20 L429.56,481.42 L430.40,482.30 L431.16,485.56 L431.92,480.98 L432.69,486.65 L433.45,480.65 L434.21,486.82 L434.98,484.00 L435.74,486.45 L436.50,485.40 L437.27,483.64 L438.05,488.57 L438.82,484.60 L439.60,488.94 L440.38,485.68 L441.15,489.57 L441.93,486.98 L442.70,489.20 L443.46,490.86 L444.23,488.09 L444.99,491.52 L445.75,489.25 L446.51,492.38 L447.27,490.33 L448.04,492.73 L448.80,492.30 L449.57,491.82 L450.34,493.40 L451.11,491.66 L451.88,493.83 L452.65,492.74 L453.42,494.00 L454.19,492.64 L454.96,494.00 L455.73,493.05 L456.50,493.80 L457.27,493.82 L458.05,493.83 L458.82,493.85 L459.60,493.87 L460.38,493.88 L461.15,493.90 L461.93,493.92 L462.70,493.93 L463.48,493.95 L464.25,493.97 L465.03,493.98 L465.80,494.00 L466.60,494.00 L467.39,494.00 L468.19,494.00 L468.98,494.00 L469.78,494.00 L470.58,494.00 L471.37,494.00 L472.17,494.00 L472.97,494.00 L473.76,494.00 L474.56,494.00 L475.35,494.00 L476.15,494.00 L476.95,494.00 L477.74,494.00 L478.54,494.00 L479.34,494.00 L480.13,494.00 L480.93,494.00 L481.72,494.00 L482.52,494.00 L483.32,494.00 L484.11,494.00 L484.91,494.00 L485.71,494.00 L486.50,494.00 L487.30,494.00 L488.09,494.00 L488.89,494.00 L489.69,494.00 L490.48,494.00 L491.28,494.00 L492.08,494.00 L492.87,494.00 L493.67,494.00 L494.46,494.00 L495.26,494.00 L496.06,494.00 L496.85,494.00 L497.65,494.00 L498.45,494.00 L499.24,494.00 L500.04,494.00 L500.83,494.00 L501.63,494.00 L502.43,494.00 L503.22,494.00 L504.02,494.00 L504.82,494.00 L505.61,494.00 L506.41,494.00 L507.20,494.00 L508.00,494.00" stroke="#000" stroke-width="1.85" fill="none" stroke-linejoin="miter" stroke-miterlimit="3"/>
<path d="M335.00,494.00 L335.90,492.85 L336.80,493.40 L337.70,491.33 L338.60,492.07 L339.50,490.07 L340.40,491.07 L341.30,488.72 L342.20,489.75 L343.10,488.12 L344.00,488.20 L344.90,485.83 L345.80,486.60 L346.70,486.32 L347.60,483.91 L348.50,484.91 L349.40,482.23 L350.30,482.69 L351.20,481.20 L352.20,476.70 L353.20,477.30 L354.20,473.61 L355.20,471.80 L356.20,472.06 L357.20,465.43 L358.20,468.60 L359.20,465.10 L360.05,460.46 L360.90,463.89 L361.75,457.92 L362.60,458.30 L363.50,456.09 L364.40,447.22 L365.30,446.20 L366.12,445.88 L366.95,440.46 L367.78,443.40 L368.60,438.20 L369.50,433.69 L370.40,436.62 L371.30,432.80 L372.20,426.23 L373.10,435.76 L374.00,427.40 L374.82,424.68 L375.64,435.46 L376.46,432.89 L377.28,442.62 L378.10,442.20 L378.93,439.80 L379.75,445.40 L380.57,440.53 L381.40,446.20 L382.30,455.20 L383.20,452.69 L384.10,459.70 L384.95,463.81 L385.80,463.92 L386.65,471.12 L387.50,471.80 L388.40,473.33 L389.30,479.90 L390.20,481.20 L391.20,481.13 L392.20,486.15 L393.20,485.61 L394.20,488.00 L395.02,488.63 L395.84,487.49 L396.66,489.42 L397.48,488.06 L398.30,489.30 L399.23,491.17 L400.15,491.40 L401.07,493.38 L402.00,494.00" stroke="#000" stroke-width="1.3" fill="none" stroke-dasharray="4 2.2"/>
<path d="M84.00,564.50 L84.79,564.50 L85.59,564.50 L86.38,564.50 L87.17,564.50 L87.97,564.50 L88.76,564.50 L89.55,564.50 L90.34,564.50 L91.14,564.50 L91.93,564.50 L92.72,564.50 L93.52,564.50 L94.31,564.50 L95.10,564.50 L95.90,564.50 L96.69,564.50 L97.48,564.50 L98.28,564.50 L99.07,564.50 L99.86,564.50 L100.66,564.50 L101.45,564.50 L102.24,564.50 L103.03,564.50 L103.83,564.50 L104.62,564.50 L105.41,564.50 L106.21,564.50 L107.00,564.50 L107.79,564.50 L108.59,564.50 L109.38,564.50 L110.17,564.50 L110.97,564.50 L111.76,564.50 L112.55,564.50 L113.34,564.50 L114.14,564.50 L114.93,564.50 L115.72,564.50 L116.52,564.50 L117.31,564.50 L118.10,564.50 L118.90,564.50 L119.69,564.50 L120.48,564.50 L121.28,564.50 L122.07,564.50 L122.86,564.50 L123.66,564.50 L124.45,564.50 L125.24,564.50 L126.03,564.50 L126.83,564.50 L127.62,564.50 L128.41,564.50 L129.21,564.50 L130.00,564.50 L130.73,564.48 L131.47,564.47 L132.20,564.45 L132.93,564.43 L133.67,564.42 L134.40,564.40 L135.20,564.32 L136.00,564.24 L136.80,563.86 L137.60,564.50 L138.40,563.66 L139.20,564.50 L140.00,563.31 L140.80,564.34 L141.60,563.70 L142.41,562.78 L143.22,564.11 L144.03,562.55 L144.84,564.13 L145.66,561.28 L146.47,562.88 L147.28,561.18 L148.09,562.75 L148.90,561.50 L149.76,560.13 L150.62,561.31 L151.48,559.69 L152.34,561.46 L153.20,559.40 L153.92,557.88 L154.65,558.55 L155.38,553.99 L156.10,555.00 L156.82,557.78 L157.55,554.34 L158.28,558.73 L159.00,557.90 L159.70,554.74 L160.40,556.76 L161.10,552.25 L161.80,553.60 L162.53,555.56 L163.25,551.56 L163.97,554.37 L164.70,550.70 L165.42,549.18 L166.15,551.20 L166.88,547.29 L167.60,547.80 L168.32,550.15 L169.05,542.32 L169.78,546.72 L170.50,543.50 L171.22,538.75 L171.95,543.44 L172.68,538.66 L173.40,540.60 L174.13,543.37 L174.87,536.29 L175.60,536.30 L176.30,538.13 L177.00,526.46 L177.70,529.10 L178.42,535.51 L179.15,523.90 L179.88,532.96 L180.60,530.50 L181.32,525.92 L182.05,529.24 L182.78,520.34 L183.50,524.70 L184.22,528.75 L184.95,519.06 L185.68,529.42 L186.40,523.30 L187.10,515.87 L187.80,525.27 L188.50,516.10 L189.23,511.06 L189.97,526.23 L190.70,521.90 L191.43,513.98 L192.17,522.70 L192.90,514.60 L193.60,500.21 L194.30,510.34 L195.00,497.30 L195.75,498.38 L196.50,511.80 L197.22,520.64 L197.95,512.05 L198.68,523.79 L199.40,524.70 L200.12,515.73 L200.85,517.09 L201.58,503.36 L202.30,498.80 L203.00,508.64 L203.70,500.73 L204.40,513.20 L205.13,521.95 L205.87,512.74 L206.60,521.90 L207.33,517.93 L208.07,500.05 L208.80,498.80 L209.73,503.67 L210.67,487.03 L211.60,496.60 L212.33,506.60 L213.07,494.51 L213.80,507.40 L214.53,514.54 L215.25,502.11 L215.97,510.63 L216.70,508.90 L217.42,503.17 L218.15,511.60 L218.88,502.53 L219.60,506.00 L220.32,510.48 L221.05,505.68 L221.78,511.73 L222.50,510.30 L223.22,509.19 L223.95,521.94 L224.68,518.39 L225.40,526.20 L226.10,522.38 L226.80,511.80 L227.53,511.50 L228.27,527.56 L229.00,526.20 L229.70,521.27 L230.40,529.47 L231.10,522.64 L231.80,523.30 L232.55,534.14 L233.30,534.80 L234.03,530.92 L234.75,540.52 L235.47,531.26 L236.20,536.30 L236.90,539.38 L237.60,536.63 L238.30,543.88 L239.00,542.10 L239.73,540.62 L240.47,547.81 L241.20,547.80 L241.93,547.33 L242.67,553.34 L243.40,553.60 L244.10,554.51 L244.80,558.76 L245.50,559.40 L246.23,556.53 L246.97,558.19 L247.70,556.50 L248.42,555.72 L249.15,559.96 L249.88,558.22 L250.60,560.80 L251.32,561.15 L252.05,559.00 L252.78,561.11 L253.50,559.40 L254.22,559.83 L254.95,561.90 L255.67,561.46 L256.40,563.70 L257.18,564.42 L257.96,563.08 L258.75,564.50 L259.53,563.27 L260.31,564.50 L261.09,563.08 L261.87,564.21 L262.65,564.28 L263.44,564.35 L264.22,564.43 L265.00,564.50 L265.79,564.50 L266.58,564.50 L267.37,564.50 L268.16,564.50 L268.95,564.50 L269.74,564.50 L270.53,564.50 L271.32,564.50 L272.11,564.50 L272.89,564.50 L273.68,564.50 L274.47,564.50 L275.26,564.50 L276.05,564.50 L276.84,564.50 L277.63,564.50 L278.42,564.50 L279.21,564.50 L280.00,564.50 L280.79,564.50 L281.58,564.50 L282.37,564.50 L283.16,564.50 L283.95,564.50 L284.74,564.50 L285.53,564.50 L286.32,564.50 L287.11,564.50 L287.89,564.50 L288.68,564.50 L289.47,564.50 L290.26,564.50 L291.05,564.50 L291.84,564.50 L292.63,564.50 L293.42,564.50 L294.21,564.50 L295.00,564.50" stroke="#000" stroke-width="1.85" fill="none" stroke-linejoin="miter" stroke-miterlimit="3"/>
<path d="M120.00,564.50 L120.97,564.37 L121.93,564.23 L122.90,563.92 L123.87,564.50 L124.83,563.21 L125.80,563.70 L126.75,563.77 L127.70,562.07 L128.65,563.10 L129.60,561.45 L130.55,561.67 L131.50,560.80 L132.38,559.17 L133.26,559.65 L134.14,556.24 L135.02,557.34 L135.90,555.00 L136.80,553.44 L137.70,554.09 L138.60,550.42 L139.50,550.70 L140.55,547.66 L141.60,543.50 L142.70,538.55 L143.80,537.70 L144.90,535.50 L146.00,530.50 L147.05,523.81 L148.10,523.30 L149.00,522.81 L149.90,515.52 L150.80,519.99 L151.70,516.10 L152.67,508.45 L153.63,512.32 L154.60,506.00 L155.50,503.48 L156.40,509.88 L157.30,499.21 L158.20,504.50 L159.17,510.93 L160.13,502.79 L161.10,510.30 L161.85,506.85 L162.60,497.30 L163.57,497.61 L164.53,506.87 L165.50,503.10 L166.20,504.87 L166.90,511.80 L167.95,519.75 L169.00,521.90 L169.97,523.80 L170.93,531.03 L171.90,532.00 L172.87,533.56 L173.83,540.50 L174.80,540.60 L175.77,540.71 L176.73,545.99 L177.70,547.80 L178.67,549.58 L179.63,554.35 L180.60,555.00 L181.50,555.96 L182.40,559.44 L183.30,559.61 L184.20,562.30 L185.05,562.87 L185.90,561.90 L186.75,563.89 L187.60,562.95 L188.45,564.04 L189.30,563.70 L190.20,563.47 L191.10,564.23 L192.00,564.50" stroke="#000" stroke-width="1.3" fill="none" stroke-dasharray="4 2.2"/>
<path d="M297.00,564.50 L297.80,564.50 L298.59,564.50 L299.39,564.50 L300.19,564.50 L300.98,564.50 L301.78,564.50 L302.57,564.50 L303.37,564.50 L304.17,564.50 L304.96,564.50 L305.76,564.50 L306.56,564.50 L307.35,564.50 L308.15,564.50 L308.94,564.50 L309.74,564.50 L310.54,564.50 L311.33,564.50 L312.13,564.50 L312.93,564.50 L313.72,564.50 L314.52,564.50 L315.31,564.50 L316.11,564.50 L316.91,564.50 L317.70,564.50 L318.50,564.50 L319.30,564.50 L320.09,564.50 L320.89,564.50 L321.69,564.50 L322.48,564.50 L323.28,564.50 L324.07,564.50 L324.87,564.50 L325.67,564.50 L326.46,564.50 L327.26,564.50 L328.06,564.50 L328.85,564.50 L329.65,564.50 L330.44,564.50 L331.24,564.50 L332.04,564.50 L332.83,564.50 L333.63,564.50 L334.43,564.50 L335.22,564.50 L336.02,564.50 L336.81,564.50 L337.61,564.50 L338.41,564.50 L339.20,564.50 L340.00,564.50 L340.81,564.49 L341.62,564.48 L342.44,564.46 L343.25,564.45 L344.06,564.44 L344.88,564.42 L345.69,564.41 L346.50,564.40 L347.28,564.35 L348.05,564.29 L348.83,564.24 L349.61,563.83 L350.38,564.50 L351.16,563.36 L351.94,564.50 L352.72,562.87 L353.49,564.25 L354.27,562.67 L355.05,564.10 L355.82,562.91 L356.60,563.70 L357.45,563.98 L358.30,561.68 L359.15,562.02 L360.00,560.21 L360.85,560.71 L361.70,559.40 L362.42,557.30 L363.14,558.94 L363.86,555.08 L364.58,558.16 L365.30,555.00 L366.02,552.49 L366.75,555.11 L367.48,551.39 L368.20,553.60 L368.93,555.17 L369.65,549.57 L370.38,553.54 L371.10,549.30 L371.83,546.25 L372.55,549.22 L373.27,544.99 L374.00,546.40 L374.70,545.23 L375.40,540.19 L376.10,541.54 L376.80,537.70 L377.53,532.92 L378.27,537.71 L379.00,533.40 L379.73,526.01 L380.47,532.52 L381.20,526.20 L381.90,522.39 L382.60,526.88 L383.30,519.00 L384.03,507.71 L384.77,519.66 L385.50,508.90 L386.23,504.73 L386.97,521.42 L387.70,520.40 L388.40,508.61 L389.10,509.02 L389.80,496.60 L390.53,498.58 L391.27,520.09 L392.00,521.90 L392.73,516.02 L393.47,526.78 L394.20,520.40 L394.93,514.79 L395.65,527.14 L396.38,520.53 L397.10,526.20 L398.03,529.96 L398.97,525.44 L399.90,533.40 L400.63,537.03 L401.37,533.86 L402.10,540.60 L402.80,548.97 L403.50,553.60 L404.23,548.85 L404.97,551.40 L405.70,547.80 L406.60,547.92 L407.50,551.80 L408.30,555.76 L409.10,554.16 L409.90,558.42 L410.70,558.40 L411.53,552.95 L412.37,552.67 L413.20,546.90 L414.00,546.68 L414.80,551.38 L415.60,551.80 L416.43,547.30 L417.27,549.01 L418.10,545.30 L418.90,542.26 L419.70,546.21 L420.50,542.00 L421.33,543.86 L422.17,550.88 L423.00,550.20 L423.80,538.19 L424.60,533.90 L425.40,542.58 L426.20,548.60 L427.03,542.49 L427.87,542.91 L428.70,533.90 L429.53,524.66 L430.37,532.08 L431.20,524.00 L432.00,524.10 L432.80,533.61 L433.60,532.20 L434.40,519.27 L435.20,517.50 L436.05,522.13 L436.90,511.00 L437.70,500.54 L438.50,504.40 L439.30,520.60 L440.10,522.40 L440.95,510.13 L441.80,512.60 L442.60,518.21 L443.40,503.03 L444.20,507.70 L445.03,516.60 L445.87,512.95 L446.70,519.20 L447.50,519.82 L448.30,509.21 L449.10,511.00 L449.93,516.38 L450.77,501.35 L451.60,506.10 L452.40,522.22 L453.20,529.00 L454.05,521.15 L454.90,519.20 L455.70,530.59 L456.50,528.04 L457.30,535.50 L458.13,537.38 L458.97,525.79 L459.80,525.70 L460.60,535.79 L461.40,540.40 L462.20,538.74 L463.00,546.68 L463.80,545.30 L464.63,541.74 L465.47,546.96 L466.30,542.00 L467.10,543.01 L467.90,549.42 L468.70,551.80 L469.52,551.13 L470.35,555.43 L471.18,553.48 L472.00,555.10 L472.83,558.60 L473.67,557.16 L474.50,560.00 L475.30,561.98 L476.10,561.50 L476.90,563.30 L477.72,564.13 L478.55,562.93 L479.38,564.50 L480.20,563.39 L481.02,564.50 L481.85,564.20 L482.68,564.35 L483.50,564.50 L484.29,564.50 L485.08,564.50 L485.87,564.50 L486.66,564.50 L487.45,564.50 L488.24,564.50 L489.03,564.50 L489.82,564.50 L490.61,564.50 L491.40,564.50 L492.19,564.50 L492.98,564.50 L493.77,564.50 L494.56,564.50 L495.35,564.50 L496.15,564.50 L496.94,564.50 L497.73,564.50 L498.52,564.50 L499.31,564.50 L500.10,564.50 L500.89,564.50 L501.68,564.50 L502.47,564.50 L503.26,564.50 L504.05,564.50 L504.84,564.50 L505.63,564.50 L506.42,564.50 L507.21,564.50 L508.00,564.50" stroke="#000" stroke-width="1.85" fill="none" stroke-linejoin="miter" stroke-miterlimit="3"/>
<path d="M330.00,564.50 L330.93,564.42 L331.86,564.34 L332.79,564.26 L333.72,563.49 L334.65,564.50 L335.58,563.58 L336.51,564.15 L337.44,563.34 L338.37,564.42 L339.30,563.70 L340.27,562.53 L341.23,562.78 L342.20,559.73 L343.17,560.53 L344.13,558.43 L345.10,557.90 L346.00,557.74 L346.90,555.31 L347.80,556.22 L348.70,553.60 L349.67,550.06 L350.63,551.01 L351.60,547.80 L352.70,543.61 L353.80,542.10 L354.73,542.20 L355.67,536.06 L356.60,534.80 L357.70,532.00 L358.80,526.20 L359.77,522.44 L360.73,525.80 L361.70,521.90 L362.67,515.88 L363.63,514.32 L364.60,508.90 L365.57,502.54 L366.53,507.04 L367.50,503.10 L368.47,503.51 L369.43,508.46 L370.40,508.90 L371.33,501.74 L372.27,504.18 L373.20,497.30 L374.17,497.78 L375.13,508.39 L376.10,504.50 L376.85,507.89 L377.60,514.60 L378.65,521.43 L379.70,523.30 L380.67,522.98 L381.63,529.45 L382.60,530.50 L383.57,530.37 L384.53,537.12 L385.50,536.30 L386.47,538.62 L387.43,543.73 L388.40,546.40 L389.37,547.54 L390.33,552.13 L391.30,553.60 L392.27,555.13 L393.23,559.42 L394.20,560.80 L395.06,561.10 L395.92,562.28 L396.78,561.64 L397.64,563.85 L398.50,563.70 L399.38,563.40 L400.25,564.50 L401.12,564.30 L402.00,564.50" stroke="#000" stroke-width="1.3" fill="none" stroke-dasharray="4 2.2"/>
<path d="M437.50,505.43 L438.30,515.89 L439.10,509.01 L439.90,518.66 L440.70,505.47 L441.50,517.47 L442.30,507.40 L443.10,515.28 L443.90,508.67 L444.70,514.91 L445.50,506.96 L446.30,518.13 L447.10,507.15 L447.90,518.69 L448.70,508.69 L449.50,521.65 L450.30,506.42 L451.10,519.19 L451.90,508.48 L452.70,516.34" stroke="#000" stroke-width="1.3" fill="none"/>
</g>
</svg>
</body></html>
